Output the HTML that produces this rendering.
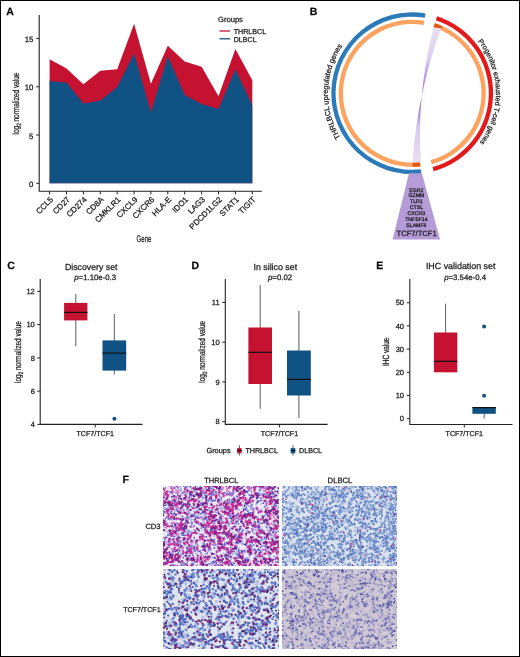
<!DOCTYPE html>
<html><head><meta charset="utf-8"><style>
html,body{margin:0;padding:0;background:#fff;}
body{width:520px;height:657px;overflow:hidden;}
svg{display:block;font-family:"Liberation Sans", sans-serif;text-rendering:geometricPrecision;will-change:transform;}
text{stroke:#1a1a1a;stroke-width:0.25px;}
</style></head><body>
<svg width="520" height="657" viewBox="0 0 520 657">
<rect x="0" y="0" width="520" height="657" fill="#fff"/>
<clipPath id="c1"><rect x="163" y="486" width="116" height="80"/></clipPath>
<g clip-path="url(#c1)"><rect x="163" y="486" width="116" height="80" fill="#EEE8F4"/>
<path d="M199.9 496.7l0.6 0.1M204.9 488.9l0.5 0.1M169.4 491.6l-0.1 0.1M187.8 536.7l-0.1 0.5M278.2 487.9l0.1 0.1M175.1 509.9l0.6 0.4M237.7 515.3l0.1 0.0M185.7 541.2l0.4 0.6M215.4 509.2l-0.2 0.2M229.9 528.1l-0.2 0.3M278.6 493.9l-0.1 0.1M219.7 487.3l-0.5 0.5M266.1 510.4l-0.2 0.7M215.7 554.6l0.1 0.8M168.3 542.9l-1.0 0.0M195.2 516.4l0.6 0.0M181.2 493.8l-0.1 0.1M190.7 516.8l0.5 0.1M226.9 558.2l-0.3 0.1M210.8 514.1l-0.2 0.0M182.1 503.5l0.0 0.7M192.5 484.3l0.3 0.6M275.4 542.0l-0.3 0.8M167.5 559.6l-0.9 0.4M208.1 517.5l-0.0 0.1M169.1 501.5l0.0 0.1M161.0 496.7l0.0 0.0M265.9 535.6l0.3 0.3M204.7 494.3l-0.6 0.0M219.1 491.2l0.2 0.3M260.5 497.6l-0.6 0.1M178.6 529.6l-0.1 1.2M264.6 542.5l0.1 0.2M253.6 528.7l0.1 0.2M258.4 566.7l-0.8 0.6M249.8 503.0l0.0 0.0M164.4 507.5l-0.7 0.9M214.7 562.7l-0.4 0.1M187.5 503.1l0.6 0.4M269.0 554.6l-0.4 0.9M171.2 539.5l-0.7 0.6M218.4 499.0l0.5 0.8M277.6 517.3l-0.9 0.1M181.4 494.7l-0.9 0.3M178.5 553.4l-0.2 0.4M226.8 495.0l-0.8 0.1M224.2 562.4l-0.9 0.4M186.3 505.2l0.5 0.5M192.1 519.2l-0.4 0.1M216.0 533.0l0.3 1.1M221.2 528.7l0.5 0.0M183.0 484.3l0.5 0.3M248.0 530.7l-0.0 0.7M255.1 492.9l0.2 0.2M253.7 526.6l-0.8 0.7M214.2 535.5l-0.0 0.8M215.3 528.8l-0.8 0.2M266.2 563.1l-0.2 1.1M261.8 495.5l0.0 0.1M189.9 490.1l-0.8 0.7M179.5 544.2l1.0 0.5M277.1 502.4l0.2 0.6M279.8 553.9l0.1 0.6M201.7 500.4l-0.0 0.0M227.5 521.0l0.4 0.6M222.5 489.4l-0.9 0.7M173.6 506.3l-0.2 0.2M176.5 519.5l-0.3 0.2M178.9 561.2l-0.1 0.1M167.9 541.8l1.1 0.3M237.1 551.3l-0.1 0.0M264.5 522.1l-0.2 1.1M193.1 494.9l0.1 0.1M180.4 488.2l0.2 0.3M252.1 508.4l0.4 0.2M163.2 505.0l-0.4 0.5M183.7 523.9l0.9 0.3M212.9 525.6l0.2 0.6M243.5 566.5l-0.7 0.4M237.3 518.0l0.2 0.0M169.5 546.2l0.1 0.0M262.0 557.1l0.2 0.2M196.2 522.6l0.1 0.3M276.4 565.7l0.8 0.8M198.1 514.0l0.2 0.5M221.3 500.9l0.3 0.0M171.8 517.6l0.4 0.0M188.9 533.2l-0.6 0.6M246.9 557.8l0.6 1.0M178.9 544.8l1.0 0.1M268.0 536.7l-0.1 0.1M223.9 526.4l-0.8 0.6M231.1 559.0l-0.2 0.2M164.7 495.2l0.9 0.3M228.0 536.7l-0.3 0.5M161.4 551.0l-0.0 0.6M240.1 489.5l0.1 0.1M192.9 545.3l-0.8 0.9M220.3 516.1l-0.5 0.8M235.0 538.0l0.3 0.1M250.2 509.6l0.1 0.0M193.3 540.4l-0.2 0.3M223.0 523.0l1.0 0.4M184.9 566.2l0.5 0.0M259.4 565.3l0.2 0.2M274.5 501.7l0.6 0.3M275.3 495.1l-0.0 1.1M245.4 503.4l0.0 0.0M161.4 525.3l0.1 0.1M202.3 510.6l0.9 0.0M246.6 559.7l0.2 0.4M280.9 533.5l0.1 0.3M166.8 492.5l0.7 0.9M190.9 506.3l0.4 0.3M275.7 558.3l-0.4 1.0M273.9 530.1l0.9 0.1M215.1 547.2l0.0 0.0M272.2 494.7l0.2 0.3M249.7 566.0l-0.2 0.3M227.9 517.1l0.2 0.1M269.7 525.8l-1.1 0.3M215.0 495.7l0.4 0.1M171.9 504.1l-0.2 1.0M251.0 518.7l-0.0 0.5M201.6 489.2l-0.2 0.0M221.4 536.9l0.3 0.2M190.8 517.6l-1.0 0.1M265.7 485.8l-0.7 0.9M217.8 533.3l0.4 1.0M260.1 555.9l0.1 0.1M179.5 527.9l-0.9 0.2M238.7 548.2l-0.0 0.0M238.5 509.5l0.5 0.5M244.8 493.4l-0.1 0.7M207.6 502.8l0.4 0.0M216.3 564.6l-0.5 0.2M189.2 504.8l-0.2 0.3M163.6 525.9l0.1 0.3M241.1 561.7l0.4 0.0M211.5 541.3l-0.7 0.5M221.6 501.2l0.5 0.8M188.7 502.6l0.7 0.9M220.5 499.7l0.2 0.8M274.9 496.3l0.9 0.7M178.0 488.4l0.4 1.0M267.0 545.5l-0.4 0.1M183.3 562.6l0.8 0.1M206.4 515.4l0.0 0.0M175.8 565.0l0.4 0.9M259.6 520.3l0.0 0.4M271.3 500.2l-0.0 0.0M210.3 552.2l0.0 0.0M168.5 561.3l-0.8 0.8M201.7 506.9l-0.1 0.3M247.0 510.6l0.9 0.0M271.0 537.3l0.3 0.0M218.0 564.4l0.1 0.3M212.6 525.5l0.8 0.5M249.6 553.1l-0.1 0.4M199.3 514.4l0.2 0.1M251.3 504.8l0.7 0.1M200.1 566.3l-0.3 0.0M171.1 492.1l-0.3 0.4M189.1 519.0l-0.5 0.8M262.6 539.8l-0.3 0.2M229.0 515.3l0.2 0.2M190.4 496.9l-0.1 0.4M208.5 567.4l0.7 0.6M239.4 567.2l0.1 1.0M261.9 560.8l0.1 0.1M183.7 565.7l-0.4 0.1M264.9 521.7l-0.9 0.7M173.7 534.1l0.3 0.3M178.0 501.1l-0.2 0.7M185.4 485.0l-0.1 0.2M198.5 501.1l-0.0 0.1M173.2 517.2l-0.0 0.1M180.6 542.4l0.2 0.3M275.4 510.2l0.2 0.5M264.7 567.7l0.7 0.5M185.4 484.5l0.2 1.0M209.7 558.2l0.0 0.0M227.2 537.8l0.7 0.2M205.5 526.4l0.4 0.5M272.1 493.1l-0.9 0.7M184.7 494.6l-0.6 0.0M167.4 561.8l-0.7 0.2M187.6 518.0l-0.2 0.1M187.2 517.6l0.1 0.1M190.6 544.9l0.7 0.1M251.9 487.2l0.7 0.3M227.0 536.7l0.2 0.7M212.1 539.3l0.0 0.0M235.3 525.1l-0.7 0.6M216.0 499.1l0.1 0.1M212.7 491.7l-0.0 0.0M237.4 490.9l-0.5 0.4M167.5 526.3l-0.2 0.0M263.8 567.7l-0.2 0.1M278.8 525.3l-0.2 0.1M255.6 562.2l0.4 0.8M180.1 559.3l-0.1 0.1M221.3 561.3l0.4 0.4M199.3 487.1l1.0 0.5M242.6 559.2l-0.1 0.1M224.7 537.5l-0.6 0.3M230.6 558.1l-0.8 0.0M208.3 551.0l-0.7 0.0M204.2 548.2l0.8 0.5M166.8 552.9l-0.5 1.1M231.3 539.8l0.0 0.0M178.9 535.7l-0.0 1.1M176.8 503.1l0.0 0.0M203.6 492.9l0.5 0.5M231.7 501.2l0.0 0.2M273.4 504.5l0.7 0.2M265.6 549.7l0.0 0.0M238.4 531.2l-0.2 0.5M273.5 545.6l-0.1 0.0M224.8 518.1l0.9 0.2M162.5 530.3l0.2 0.1M234.0 526.6l-0.2 0.1M198.1 509.2l-0.9 0.3M246.8 484.5l-0.4 0.4M250.0 522.0l0.3 0.1M165.7 512.2l-0.6 0.8M246.4 506.3l0.2 0.9M223.8 506.3l-0.3 0.0M266.6 485.3l0.7 0.6M274.4 546.7l-0.4 0.1M189.7 560.2l-0.5 0.7M278.5 523.4l-0.6 0.8M213.5 544.9l0.1 0.2M235.7 490.5l0.0 0.0M173.8 562.0l0.0 0.0M166.0 542.2l-0.5 0.7M168.9 533.6l-0.8 0.5M268.0 489.5l-1.1 0.3M173.9 501.3l1.0 0.1M258.4 537.3l-0.1 0.3M173.0 492.2l0.3 0.2M211.9 485.8l0.5 0.7M205.2 510.9l-0.0 1.0M235.2 486.6l0.2 0.9M202.6 543.2l0.8 0.7M171.9 552.9l0.2 0.0M252.5 566.1l0.0 0.6M256.6 499.5l0.5 0.9M192.3 563.3l0.7 0.5M220.8 493.2l0.9 0.2M244.7 550.1l0.2 0.4M208.4 558.8l-0.0 0.0M185.7 506.1l-0.0 0.5M267.1 503.6l-0.1 0.9M251.4 538.3l0.1 0.2M262.2 539.6l0.5 0.3M253.8 532.7l0.1 1.1M189.6 500.1l-0.6 0.8M179.6 497.1l0.3 0.5M180.3 511.6l-0.9 0.1M173.2 564.8l0.4 1.1M256.4 545.6l0.6 0.4M173.8 501.3l0.5 0.1M255.9 542.2l-0.2 0.5M178.0 534.7l-0.7 0.8M212.6 532.2l0.1 0.3M247.7 557.9l-0.6 0.8M242.6 537.9l0.4 0.6M172.7 519.2l-0.5 0.6M191.0 519.6l-0.2 0.5M242.0 562.1l-0.4 0.8M207.6 525.1l0.6 0.1M180.3 549.7l-0.0 0.1M229.9 529.4l-0.0 0.8M260.5 527.8l-0.2 0.0M243.1 517.0l1.1 0.4M203.7 488.8l0.0 0.0M211.2 519.3l0.1 0.3M187.9 546.3l-0.0 0.3M257.2 516.9l0.9 0.4M258.1 537.3l-0.1 0.3M276.7 513.7l-0.8 0.5M217.2 508.7l0.9 0.4M203.6 555.5l0.1 0.3M212.1 499.6l-0.2 0.3M190.4 509.4l0.2 0.7M240.1 514.4l-0.1 0.0M260.3 560.1l0.9 0.4M237.0 485.3l-0.8 0.1M191.0 492.5l0.7 0.6M202.6 496.8l-0.2 0.1M267.9 535.1l-0.5 0.9M255.6 554.5l-0.4 0.5M250.0 520.8l-0.1 0.3M189.1 495.7l0.6 0.1M178.3 525.3l-0.1 1.0M161.8 554.6l-0.2 0.8M261.9 515.5l-0.1 0.0M237.4 537.4l-0.3 0.8M272.8 511.8l-0.0 0.6M268.7 486.8l-0.2 0.4M264.4 514.8l-0.1 0.9M186.3 520.6l-0.2 1.0M196.1 553.5l-0.0 0.3M221.8 565.9l-0.3 0.2M199.1 509.1l-0.4 0.9M165.8 544.7l-0.0 0.1M197.0 484.5l-0.7 0.2M240.0 550.3l-0.3 0.7M236.2 542.5l-0.1 0.2M241.0 522.5l0.2 0.1M165.4 549.1l-0.2 0.4M259.7 550.1l0.2 0.3M211.6 510.8l-0.5 1.0M167.6 531.7l0.9 0.4M230.0 561.2l0.5 0.0M232.0 562.8l0.0 0.5M173.2 538.1l0.0 0.0M161.6 541.4l-0.1 0.0M265.3 494.8l-0.2 0.2M249.0 499.7l-0.6 0.6M263.7 545.3l-0.3 0.8M216.3 562.3l-0.9 0.1M162.4 485.2l-0.1 0.1M198.3 545.3l-0.5 0.2M168.2 514.9l0.2 0.8M178.4 551.0l-0.3 0.7M211.2 516.4l-0.9 0.2M229.0 508.6l-0.8 0.1M278.3 553.8l0.3 0.4M267.6 515.6l-0.3 1.0M257.9 507.8l0.3 0.4M231.4 552.5l1.0 0.1M258.4 556.8l0.7 0.8M257.8 541.5l0.0 0.1M227.4 551.0l-0.8 0.8M189.1 535.0l0.0 0.2M191.6 547.1l0.0 0.1M257.8 548.9l-0.3 1.0M267.2 527.8l-0.1 0.2M184.1 499.2l0.3 0.6M209.3 527.4l1.2 0.2M205.9 492.9l-0.1 0.1M232.7 513.0l0.0 0.0M279.8 556.8l-0.1 0.3M253.1 552.8l0.0 0.0M185.1 499.2l0.7 0.1M270.2 489.4l0.0 0.1M276.1 505.6l-0.5 1.0M241.4 517.0l1.0 0.6M280.0 502.6l0.3 0.3M269.3 560.0l0.9 0.1M167.7 496.2l-0.8 0.2M196.9 533.7l0.4 0.1M191.8 494.4l0.2 0.1M178.2 540.9l-0.1 0.2M165.3 561.9l-1.0 0.2M267.6 495.7l1.1 0.3M262.1 536.8l0.5 0.9M218.3 536.8l0.1 0.0M246.6 530.5l-0.3 0.1M210.4 497.1l-0.4 0.2M181.1 525.2l-0.1 0.0M278.4 488.8l-0.1 0.2M218.3 508.0l0.4 0.3M279.9 567.8l0.3 0.1M268.5 488.8l0.7 0.9M162.9 551.8l0.0 0.0M260.9 528.2l0.2 1.1M187.2 532.0l0.8 0.5M246.4 500.5l0.7 0.2M220.5 507.0l-0.3 0.8M258.4 533.0l0.9 0.2M210.0 544.6l-0.3 0.2M262.0 556.6l1.1 0.1M218.2 557.2l0.8 0.6M205.1 497.7l-0.0 0.0M223.4 521.4l0.8 0.3M259.0 556.7l-0.3 0.4M251.2 489.1l-0.6 0.1M222.6 528.6l1.2 0.1M187.8 499.3l0.7 0.7M164.6 492.1l0.0 0.0M232.9 532.4l-0.1 0.1M265.3 544.2l0.5 0.2M221.1 507.5l0.0 0.2M232.0 556.3l-0.2 0.9M180.7 553.4l0.2 0.5M261.8 528.2l-0.9 0.2M201.6 504.2l0.2 1.2M257.5 560.7l-0.1 0.0M223.1 564.5l0.4 0.4M236.9 514.6l0.5 0.1M221.6 485.7l-0.9 0.1M273.4 537.2l-1.0 0.4M165.1 537.9l-0.2 0.3M226.1 561.6l0.4 0.4M213.0 563.9l0.4 0.6M175.4 533.9l-0.0 0.3M217.0 528.8l0.1 0.1M196.2 518.1l0.1 0.1M226.6 554.5l-0.2 0.8M185.1 543.7l-0.1 0.7M217.3 510.1l0.5 0.4M207.0 533.2l0.5 0.9M189.6 530.8l0.7 0.9M196.5 548.9l1.0 0.2M213.8 489.2l0.2 0.9M174.1 502.9l-0.1 0.1M201.4 513.6l-0.4 1.0M259.5 527.5l-0.6 0.7M218.0 549.9l-0.1 0.0M265.5 484.4l-0.2 0.6M276.5 532.0l-0.8 0.7M233.9 515.9l0.1 0.9M196.2 516.8l0.1 0.4M255.4 555.4l0.0 0.2M197.5 496.2l-0.0 0.1M271.4 511.2l-1.0 0.6M185.5 519.8l0.1 0.0M228.8 525.8l-0.5 0.4M280.8 527.5l-0.3 0.4M203.9 534.0l-0.8 0.1M224.0 492.3l0.2 0.6M229.9 557.9l0.0 0.5M236.0 567.7l-0.1 1.0M181.5 510.7l-0.5 0.3M174.3 559.1l-1.0 0.6M267.6 519.4l0.4 0.5M221.6 499.8l-0.3 0.7M203.4 567.5l0.5 0.1M161.5 509.6l-0.2 0.8M184.6 525.8l0.5 0.6M224.8 567.8l0.0 0.1M179.8 547.8l0.2 0.1M223.7 553.1l-0.1 0.0M162.5 548.7l-0.3 0.3M181.3 506.4l-0.7 0.2M202.9 521.8l1.1 0.2M230.9 564.6l-0.1 0.3M166.3 562.2l0.6 0.9M276.2 525.6l0.3 0.3M247.2 502.6l-0.5 0.2M256.1 504.4l0.1 0.2M277.6 508.4l0.6 0.2M207.3 517.9l0.9 0.4M203.1 504.6l0.2 0.2M165.2 539.8l0.7 0.4M172.1 506.7l0.5 0.2M261.4 551.6l0.4 0.8M206.2 564.5l-0.6 0.1M188.3 522.0l-0.2 0.2M269.0 533.4l0.5 0.5M186.5 557.3l-0.0 0.7M193.4 548.8l-0.3 0.6M198.3 516.8l0.9 0.5M199.5 539.7l-0.1 0.4M221.0 508.9l0.2 0.2M176.1 544.2l0.3 1.0M254.0 558.2l0.3 0.1M164.5 541.1l0.2 0.4M240.1 542.7l-0.4 0.2M236.5 499.3l-0.8 0.2M246.5 487.4l0.2 0.1M197.4 516.0l0.4 0.6M182.6 554.5l-0.2 0.2M213.2 541.5l1.0 0.0M254.2 508.1l-0.7 0.3M166.7 504.5l-0.2 0.2M270.7 547.0l-0.3 0.4M250.7 553.6l1.1 0.3M211.9 562.1l-0.7 0.7M236.4 522.0l-0.3 0.4M222.4 562.0l-0.0 0.0M245.3 551.7l-0.2 1.2M237.5 529.7l0.4 0.1M210.4 500.9l0.8 0.4M241.4 504.0l-0.0 0.5M273.3 513.5l-0.2 0.1M228.6 512.0l-0.1 0.9M181.3 540.0l0.1 0.9M260.7 493.6l0.1 0.2M168.2 507.6l-0.3 0.4M174.6 511.3l0.1 0.2M169.6 484.9l-0.1 0.1M247.1 566.3l0.6 0.2M213.1 499.9l1.1 0.0M238.3 536.7l-0.1 0.3M190.5 495.6l-0.8 0.7M196.6 499.6l-1.0 0.5M181.2 549.9l-0.3 0.3M183.1 553.3l0.3 0.6M205.3 553.8l0.7 0.1M236.4 552.9l-1.1 0.3M220.3 526.0l0.4 0.6M170.6 541.8l0.2 1.1M171.8 487.4l0.7 0.5M161.3 554.6l-0.4 0.3M195.0 539.6l0.1 0.4M213.6 540.0l-0.2 0.1M196.5 521.2l0.1 0.2M171.2 511.2l-1.1 0.1M264.9 565.8l-0.4 0.9M168.2 540.8l0.4 0.6M275.3 524.4l0.2 0.3M267.2 486.3l-0.3 0.5M171.2 539.5l-0.1 0.5M224.6 531.4l0.2 0.1M267.8 530.0l-0.3 0.1M172.4 528.6l0.0 0.7M188.2 532.1l-0.0 0.7M170.6 518.3l0.2 1.0M227.1 544.0l1.1 0.4M247.6 492.6l0.1 0.2M276.2 531.3l0.8 0.4M167.9 503.9l0.7 0.0M186.6 509.2l0.2 1.0M235.5 557.3l-1.0 0.3M181.2 546.6l-0.6 0.6M260.1 494.3l-0.8 0.8M247.6 487.7l0.6 0.2M242.0 505.4l0.2 1.0M230.8 493.5l0.9 0.3M183.2 530.6l-0.3 0.4M178.3 557.5l-0.5 0.8M274.9 485.2l0.5 0.3M265.8 551.2l0.8 0.5M242.5 517.0l0.9 0.5M208.2 557.3l0.4 0.1M187.0 559.1l0.2 0.0M204.3 523.3l0.1 0.4M161.7 532.6l0.6 0.0M279.4 487.8l-0.2 0.3M193.8 526.0l-0.1 0.6M275.8 567.3l-0.2 0.9M265.7 549.0l-0.2 0.4M194.8 550.8l-0.8 0.2M197.5 548.1l-0.0 0.8M203.1 530.3l0.4 0.1M199.8 567.0l0.1 0.3M189.2 513.3l1.0 0.0M215.4 521.4l0.1 0.2M169.0 509.3l-0.4 0.5M273.5 512.6l-0.0 0.1M182.4 532.8l0.4 0.8M212.4 556.9l0.1 1.1M194.1 505.6l0.3 0.2M245.5 502.3l0.6 0.4M264.7 538.4l-0.8 0.9M233.1 490.7l-0.4 0.2M177.4 499.8l-0.7 0.3M271.7 501.8l-0.5 0.6M209.6 541.0l0.5 0.1M166.5 536.6l0.0 0.7M191.8 522.9l-0.7 0.2M279.5 488.7l-0.3 0.3M172.2 497.1l-0.1 0.1M258.7 519.6l-0.2 0.6M239.9 534.5l-0.2 0.2M246.4 548.1l0.5 0.8M278.3 522.1l-0.1 1.1M176.8 484.8l-0.4 0.8M204.5 567.1l-0.1 0.1M164.4 495.3l-0.0 0.7M182.8 562.9l0.2 0.1M249.5 561.4l0.9 0.1M190.1 566.5l-0.2 0.4M257.1 522.6l-0.1 0.0M249.0 489.5l0.3 1.0M168.2 531.4l-1.1 0.3M236.3 502.8l0.4 0.4M188.8 501.1l-0.2 0.3M280.3 502.2l0.9 0.5M265.3 506.5l-0.3 0.2M180.4 541.4l0.1 0.7M266.9 501.6l0.4 0.8M280.4 509.0l1.1 0.4M162.1 560.6l-0.1 0.1M181.2 541.4l0.5 1.0M247.0 558.1l0.3 0.0M256.1 541.9l-0.0 0.3M212.7 492.8l-0.4 0.0M266.4 494.1l0.5 0.2M182.5 541.6l-0.4 0.4M174.5 513.7l-0.4 0.1M186.8 565.3l-0.2 0.2M182.3 506.2l0.6 0.1M210.0 530.8l0.8 0.0M239.4 529.7l-0.7 1.0M265.9 544.3l0.3 0.4M277.8 516.5l0.0 0.2M280.8 484.4l-0.3 0.1M234.3 515.7l0.1 0.1M262.2 549.9l0.8 0.1M199.9 538.3l0.6 1.0M161.1 546.7l-0.0 0.7M280.4 503.7l-0.3 0.3M246.5 517.1l-0.3 0.8M199.7 536.8l0.6 0.5M192.8 560.3l-0.4 0.5M218.2 502.6l-0.6 0.1M223.9 528.3l0.2 0.1M259.6 522.7l-0.9 0.6M265.1 487.6l-0.8 0.5M175.8 496.9l0.4 0.1M257.4 527.8l0.5 0.1M280.6 542.4l0.1 1.0M252.1 496.6l0.3 0.6M189.5 515.1l0.0 0.0M185.1 531.9l0.7 0.5M194.0 511.2l-0.1 0.1M237.3 556.1l0.2 0.9M235.1 515.2l0.1 0.4M246.5 508.8l-0.4 0.9M203.3 516.4l-0.2 0.1M277.6 543.8l-0.2 0.3M169.5 547.5l-0.0 0.6M269.2 547.6l-0.2 0.5M216.5 554.5l0.1 1.1M213.8 525.3l-0.7 0.4M249.9 517.7l-0.4 0.6M253.3 548.7l0.1 0.1M259.1 492.5l-0.5 0.5M167.6 541.2l0.0 0.1M243.9 519.1l-1.0 0.0M265.6 496.2l-0.0 0.0M279.6 507.1l0.2 0.3M264.1 530.7l0.0 0.1M197.5 556.8l-0.3 0.1M185.2 488.4l0.2 0.5M219.7 533.0l-0.2 0.1M271.3 530.7l0.4 0.5M210.1 531.5l0.6 0.7M196.0 543.7l-0.2 0.5M273.2 521.4l0.5 0.1M237.7 488.1l0.7 0.2M182.6 561.5l-0.5 0.4M241.9 540.7l0.8 0.6M178.5 561.1l0.1 0.0M255.1 563.9l-0.1 0.3M269.7 541.6l0.8 0.1M166.0 554.2l0.5 0.5M199.2 531.1l-0.4 0.1M278.6 516.9l0.3 0.7M187.8 529.8l0.1 0.9M212.6 541.0l-0.1 0.1M271.8 567.7l-0.0 0.3M202.8 547.0l-0.1 0.0M219.2 556.6l-0.0 0.1M177.8 506.8l-0.2 0.1M272.0 486.7l-0.4 0.0M274.3 539.1l0.3 0.5M190.7 546.4l-0.3 0.2M169.3 531.0l-0.2 0.9M232.5 522.8l-0.0 0.1M238.6 495.1l0.2 0.4M240.6 497.8l-0.4 0.1M262.1 557.4l0.1 0.1M266.5 493.8l-0.0 0.1M217.1 497.8l-0.0 0.4M184.7 517.9l0.3 0.1M265.6 526.2l1.1 0.1M219.6 550.4l-0.2 0.2M251.0 496.9l0.5 0.0M223.2 508.5l0.7 0.2M189.1 534.0l-0.0 0.1M190.5 534.3l0.7 0.1M244.0 552.4l-0.5 0.3M271.5 484.9l0.1 0.5M171.6 504.6l-0.1 0.2M202.3 495.8l0.3 0.3M278.1 567.8l0.0 0.6M254.5 560.3l-0.1 0.2M236.0 555.0l0.8 0.2M202.9 497.6l-0.5 0.8M177.2 553.6l-0.9 0.3M260.9 551.4l0.2 1.0M255.1 557.1l-0.6 0.1M274.5 493.7l-0.2 0.2M261.6 503.5l0.0 0.3M220.1 560.3l-0.3 0.4M255.1 550.7l-1.0 0.2M209.7 491.3l-0.4 0.2M232.4 554.2l0.6 0.0M163.0 493.3l0.2 0.7M215.9 512.2l0.4 0.9" stroke="#A0A8E4" stroke-width="1.8" stroke-linecap="round" fill="none" stroke-opacity="0.8"/>
<path d="M235.3 508.5l0.5 0.5M214.0 539.5l0.6 0.3M166.0 553.1l0.6 0.7M204.5 502.8l-0.3 0.8M208.3 526.0l-0.0 1.0M183.7 553.8l-0.0 0.0M182.0 563.4l-0.2 0.1M203.3 492.5l-0.5 0.2M206.2 562.0l-0.0 0.1M235.9 521.3l0.3 0.6M236.8 515.6l-0.5 0.8M220.8 514.6l0.8 0.1M243.0 530.8l-0.6 0.6M248.5 547.0l0.1 0.1M275.4 558.9l-0.2 0.6M166.6 516.9l-0.1 0.3M252.5 508.5l0.2 0.9M238.9 551.6l0.4 0.9M246.2 542.0l0.5 0.3M260.1 550.7l0.5 0.2M266.3 497.6l0.3 0.2M167.4 509.0l-1.0 0.1M183.5 510.0l0.3 0.2M213.6 493.1l0.1 0.4M276.6 506.4l-0.4 0.1M261.5 537.5l0.1 0.1M251.8 523.5l-0.4 0.6M194.0 514.5l-0.0 0.3M236.6 505.8l0.8 0.1M229.0 513.7l0.2 0.2M169.4 530.1l-0.2 0.3M257.9 493.3l-0.4 0.9M237.1 542.1l0.3 0.9M250.1 512.7l-0.3 0.2M183.3 557.2l-0.0 0.7M269.2 495.2l0.4 0.1M221.3 555.6l-0.1 0.4M229.8 507.0l-0.7 0.5M179.1 540.4l-0.0 0.9M268.9 546.4l-0.4 0.8M176.8 543.1l-0.1 0.3M169.1 534.7l0.1 0.2M187.9 491.9l-0.8 0.1M204.2 542.8l-0.3 0.2M161.4 536.9l0.0 0.0M214.5 530.6l0.8 0.1M174.3 502.9l0.2 0.3M229.2 502.3l0.7 0.5M258.0 529.1l-0.0 0.0M221.6 519.6l-0.3 0.7M231.2 517.6l-0.1 0.2M265.1 567.6l-0.3 0.0M279.4 490.0l0.4 0.2M242.9 543.5l0.1 0.2M209.3 507.7l-0.3 0.4M213.6 500.6l0.2 0.2M228.2 542.9l-0.7 0.7M271.4 544.7l0.2 0.0M162.6 556.5l-0.1 0.2M203.6 497.7l-0.3 0.0M166.3 498.7l-0.8 0.3M215.6 492.6l0.7 0.4M217.6 567.2l-0.4 0.3M259.6 494.8l-0.1 0.5M186.1 505.2l-0.7 0.2M274.4 566.4l-0.3 0.3M258.4 554.7l0.2 0.0M231.2 515.8l-0.7 0.4M216.6 487.6l-0.0 0.1M199.8 536.5l0.0 0.6M185.7 504.4l0.0 0.1M231.9 494.6l0.1 0.6M237.4 543.4l0.7 0.2M167.5 523.5l-0.4 0.6M189.8 538.6l0.0 0.1M270.1 534.3l0.7 0.7M188.4 517.0l-0.5 0.3M250.0 487.2l-0.8 0.1M165.6 488.1l-0.2 0.0M241.6 562.1l-0.3 0.1M179.4 485.5l0.9 0.3M246.2 499.7l0.4 0.3M173.7 550.1l-0.0 0.0M263.2 530.7l-0.0 0.6M232.3 551.2l0.5 0.1M195.9 517.3l-0.0 0.0M260.6 552.2l0.6 0.2M185.9 520.0l-0.5 0.0M203.3 491.9l-0.8 0.4M173.2 514.9l-0.1 0.1M233.8 566.2l0.1 0.0M174.6 542.2l-0.0 0.5M209.9 535.3l-0.7 0.2M256.6 560.7l-0.0 0.0M242.7 555.4l-0.2 0.1M274.1 521.1l0.2 0.2M202.8 511.3l0.2 1.0M239.5 562.3l-0.9 0.5M251.3 507.0l0.0 0.0M188.7 558.4l0.4 0.7M254.0 558.7l-0.0 0.1M205.1 529.1l0.5 0.3M239.0 529.2l0.3 0.9M243.8 565.3l0.2 0.2M269.8 485.1l-0.6 0.8M182.2 520.8l-0.4 0.6M251.4 504.9l0.7 0.1M186.1 505.8l-0.3 0.5M239.7 534.2l0.0 0.1M169.0 485.2l0.1 0.0M220.2 565.4l0.5 0.6M182.3 492.4l0.2 0.7M214.4 545.2l-0.3 0.1M188.2 555.8l-0.1 0.2M162.2 500.0l0.6 0.3M231.4 539.5l0.1 0.0M278.9 516.2l-0.0 0.2M168.8 485.2l0.9 0.4M204.6 544.7l-0.2 0.2M204.9 527.9l0.6 0.6M195.2 516.0l0.1 0.1M187.3 516.3l-0.2 0.4M265.4 488.2l-0.2 0.1M164.5 520.8l0.1 0.7M172.2 493.9l0.2 0.1M213.8 493.9l0.2 0.4M273.4 530.6l0.6 0.5M228.5 557.1l-0.1 0.0M274.2 528.1l0.7 0.4M186.5 491.0l-0.4 0.1M248.8 490.3l0.1 0.2M240.6 514.3l-0.5 0.0M182.6 484.9l-0.0 0.0M217.4 546.2l0.4 0.3M233.6 538.7l-0.8 0.5M249.8 556.0l-0.2 0.1M188.2 534.2l0.2 0.1M165.3 520.9l0.6 0.4M231.0 562.9l-0.0 0.0M274.8 503.6l-0.0 0.9M220.1 567.3l0.6 0.5M185.2 568.0l0.7 0.6M199.6 518.2l-0.0 0.0M205.9 497.6l0.6 0.0M191.9 522.1l-0.1 0.1M189.9 494.1l0.1 0.1M223.7 532.8l0.2 0.0M181.1 533.2l0.3 0.9M240.4 556.3l0.6 0.7M209.9 488.3l0.0 0.0M195.8 508.3l-0.4 0.2M224.5 555.3l-0.2 0.5M175.0 504.5l-0.2 0.8M268.9 564.8l0.9 0.2M229.4 499.2l0.2 0.2M205.0 528.0l0.7 0.2M235.9 523.6l-0.0 0.0M218.0 540.9l-0.1 0.2M276.0 550.0l0.2 0.9M185.9 518.4l-0.2 0.1M249.2 514.2l-0.1 0.1M187.7 502.1l0.1 0.0M209.7 519.3l-0.2 0.9M230.2 513.9l0.0 0.2M218.8 485.5l0.3 0.2M276.5 548.4l-0.3 0.6M245.6 565.2l-0.2 0.2M191.7 553.0l-0.8 0.4M231.7 500.7l-0.1 0.7M193.7 489.9l0.6 0.4M161.5 503.3l-0.6 0.8M163.3 493.6l-0.1 0.0M201.2 527.9l0.1 0.5M192.0 488.6l0.1 0.0M235.9 542.5l-0.6 0.4M202.0 525.3l-0.5 0.1M167.2 496.9l0.3 0.7M188.5 551.0l0.6 0.2M184.0 543.5l-0.2 0.1M172.2 539.7l0.2 0.1M230.9 493.1l0.2 0.2M211.8 528.8l0.7 0.1M187.5 508.4l-0.3 0.5M269.2 501.2l-0.1 0.2M179.9 503.0l-0.6 0.4M276.0 550.7l0.4 0.6M167.7 535.2l0.5 0.1M179.2 562.3l0.0 0.2M175.4 526.6l0.3 0.7M224.5 549.1l0.4 0.1M219.0 505.2l0.2 0.2M218.2 543.8l0.2 0.4M272.3 562.4l0.4 0.1M237.4 507.4l-0.9 0.1M176.5 523.1l0.0 0.1M251.1 548.7l0.4 0.1M172.3 564.9l0.5 0.6M177.2 493.0l0.5 0.3M261.0 498.2l-0.3 0.3M201.6 494.4l-0.1 0.0M192.1 546.2l-0.5 0.1M275.8 534.7l0.1 0.7M249.1 494.9l-0.1 0.0M258.6 512.5l0.3 0.3M279.9 496.5l0.1 0.1M250.4 512.7l0.2 0.8M264.6 532.3l-0.4 0.4M268.9 564.0l-0.7 0.4M192.9 514.7l0.2 0.3M174.2 503.1l0.2 0.6M267.5 547.5l-0.8 0.2M279.9 545.2l-0.2 0.1M239.7 516.0l0.5 0.2M201.4 552.9l-0.7 0.4M250.3 540.9l0.9 0.1M226.7 522.3l-0.6 0.5M265.4 502.0l0.1 0.1M200.3 486.2l0.1 0.0M169.1 546.3l0.0 0.4M257.3 564.1l-0.4 0.8M217.5 559.6l0.5 0.7M229.8 492.9l-0.4 0.3M219.1 519.0l-0.1 0.2M204.5 514.5l-0.1 0.1M270.7 486.9l0.2 0.7M212.5 491.8l-0.7 0.4M203.8 502.7l-0.2 0.1M267.0 567.4l0.3 0.7M272.6 500.9l0.4 0.6M183.4 529.9l-0.1 0.1M275.8 568.0l-0.1 0.1M270.2 530.3l-0.3 0.1M271.9 501.4l-0.0 0.9M269.1 564.2l-0.5 0.1M178.2 537.0l0.1 0.6M192.1 507.2l-0.0 0.5M172.1 484.5l-0.5 0.6M189.4 505.5l0.5 0.3M269.5 501.0l-0.5 0.6M246.5 543.7l-0.8 0.4M167.3 563.3l0.1 0.0M256.6 540.9l0.1 0.6M280.7 512.2l0.1 0.1M180.3 518.5l0.1 0.1M187.2 491.1l0.3 0.4M183.0 524.3l-0.5 0.0M274.4 523.6l-0.0 0.1M181.3 490.2l-0.4 0.0M203.5 519.7l-0.2 0.3M179.3 556.6l0.8 0.0M248.4 513.8l-0.4 0.1M212.9 509.1l-0.4 0.6M274.9 496.2l-0.7 0.4M231.8 540.9l-0.5 0.1M209.3 499.3l-0.8 0.3M164.2 511.1l0.0 0.4M268.4 513.4l-0.6 0.1M218.2 511.9l-0.3 0.7M192.3 515.1l0.4 0.8M225.7 507.2l-0.1 0.1M243.8 485.8l0.8 0.1M178.6 503.2l0.5 0.5M247.4 560.5l-0.1 0.9M171.8 561.7l0.6 0.4M264.0 516.4l-0.7 0.3M232.6 566.1l0.1 0.0M163.6 543.5l0.2 0.1M182.7 535.2l-0.4 0.0M278.5 520.5l0.2 0.2M278.0 567.6l0.2 0.1M179.3 513.5l0.5 0.1M242.7 486.8l-0.5 0.4M215.2 558.0l0.2 0.3M274.2 556.2l-0.0 0.1M182.0 516.2l0.8 0.0M255.3 527.2l-0.3 0.2M241.3 531.9l0.3 0.9M275.7 562.0l0.2 0.3M193.3 559.9l-0.6 0.5M279.9 541.8l-0.2 0.2M234.3 497.3l0.0 0.3M271.7 491.0l-0.1 0.1M231.4 519.9l0.7 0.2M173.3 507.2l-0.4 0.2M248.2 505.6l-0.0 0.1M220.3 544.6l-0.1 0.2M205.5 561.3l-0.4 0.0M229.6 551.9l0.1 0.9M209.2 563.8l0.7 0.3M178.4 541.1l-0.5 0.0M249.8 495.0l0.1 0.2M258.8 486.8l0.8 0.2M268.2 486.9l0.1 0.7M248.5 512.8l0.1 0.1M258.8 494.1l-0.0 0.3M180.7 562.1l-0.2 0.2M270.5 502.6l-0.3 0.9M253.5 537.0l-0.4 0.2M172.8 560.8l-0.4 0.6M188.8 522.9l-0.9 0.1M180.3 541.4l0.0 0.2M177.5 523.5l0.2 0.3M227.5 548.0l0.8 0.4M205.1 564.6l0.5 0.2M277.0 516.3l0.0 0.0M185.5 494.4l-0.2 0.5M274.8 541.6l-0.6 0.1M226.2 556.5l0.3 0.5M197.0 565.4l-0.1 0.0M162.2 530.5l-0.0 0.1M261.4 540.2l-1.0 0.2M242.4 543.9l0.4 0.1M277.3 510.3l0.4 0.0M269.3 533.5l0.2 0.0M182.5 553.9l-0.3 0.1M266.7 527.3l-0.4 0.0M244.7 489.7l-0.1 0.0M250.5 506.7l0.3 0.6M275.4 567.5l-0.2 0.6M180.3 545.0l0.4 0.8M191.6 495.9l0.5 0.3M257.1 497.4l-0.1 0.5M210.5 529.7l0.4 0.1M189.4 547.6l-0.2 0.1M172.1 524.1l0.4 0.7M187.7 540.3l0.1 0.5M271.8 534.7l0.1 0.0M200.8 491.5l0.1 0.3M222.5 562.7l0.3 0.1M199.9 560.4l0.0 0.2M166.4 494.3l-0.1 0.1M236.0 488.9l0.1 0.1M250.1 544.2l0.6 0.3M213.0 539.5l-0.0 0.0M187.7 517.5l0.7 0.2M280.3 512.1l-0.1 0.2M209.1 541.8l0.1 0.0M226.2 567.2l0.5 0.2M219.6 500.3l0.0 0.8M196.0 562.4l0.0 0.1M219.0 494.7l-0.3 0.5M278.2 487.8l-0.1 0.1M199.6 488.5l-0.2 0.3M244.5 514.8l0.6 0.7M213.6 484.3l-0.6 0.7M237.4 497.1l-0.1 0.1M206.7 540.4l0.4 0.0M266.0 567.7l-0.8 0.2M264.8 533.4l-0.4 0.9M228.9 500.5l0.0 0.3M205.8 526.9l0.2 0.2M221.3 526.3l-0.1 0.2M224.8 507.2l-0.5 0.6M223.1 504.9l-0.0 0.4M195.8 517.8l-0.4 0.3M248.7 501.9l0.1 0.3M204.1 547.4l0.2 0.1M255.1 539.0l-0.3 0.6M193.7 489.1l1.0 0.1M224.0 540.3l-0.2 0.1M201.4 493.1l-0.3 0.4M205.3 506.7l-0.6 0.7M262.9 556.9l0.1 0.3M277.9 499.4l0.6 0.7M267.9 519.9l-0.3 0.2M175.3 559.8l0.2 0.6M191.6 485.7l0.0 0.0M205.6 547.9l-0.3 0.5M183.6 485.7l-0.1 0.3M185.0 555.8l0.4 0.4M230.0 511.0l0.3 0.5M233.2 526.8l0.2 0.2M211.0 514.5l0.9 0.4M189.8 556.0l-0.1 0.4M165.6 550.9l0.5 0.6M218.5 566.9l0.1 0.2M236.0 549.3l-0.1 0.4M257.0 492.8l-0.3 0.3M280.2 491.6l0.0 0.0M172.2 491.6l0.1 0.5M195.7 543.0l-0.2 0.0M222.3 525.5l-0.2 0.1M266.3 514.1l-0.2 0.5M195.1 491.1l0.0 0.1M239.8 528.7l0.4 0.7M204.3 517.8l-0.3 0.6M214.6 518.1l-0.4 0.3M164.5 502.5l-0.4 0.6M220.6 523.7l0.6 0.3M244.3 505.7l0.6 0.3M181.6 526.8l-0.0 0.1M219.0 535.8l0.4 0.6M226.5 535.8l-0.0 0.2M214.1 553.7l-0.3 0.3M214.8 565.5l-0.0 0.1M234.4 486.8l-0.7 0.1M193.1 555.0l-0.4 0.3M162.9 558.8l-0.6 0.4M224.9 556.4l-0.3 0.1M164.1 512.3l0.6 0.1M175.5 497.4l0.6 0.7M269.6 557.1l0.1 0.8M194.7 561.8l-0.2 0.2M172.0 561.7l-0.3 0.8M178.2 542.7l-0.4 0.3M184.6 564.3l-0.6 0.6M190.7 542.4l0.2 0.1M275.5 514.9l-0.0 0.0M251.4 546.6l0.1 0.2M202.7 545.5l0.2 0.5M179.5 561.2l-0.0 0.8M184.7 544.7l-0.1 0.1M194.1 537.4l0.2 0.5M187.1 520.7l-0.2 0.2M260.7 530.4l-0.0 0.1M255.4 541.0l0.1 0.7M275.3 499.9l0.1 0.5M178.9 502.6l0.1 0.1M183.0 532.5l0.0 0.5M213.8 526.3l0.9 0.0M184.9 487.2l-0.1 0.5M187.1 549.6l-0.1 0.2M229.7 538.5l0.0 0.1M238.2 542.1l-0.1 0.7M173.1 554.5l0.2 0.0M171.1 505.2l0.0 0.3M197.0 522.8l-0.6 0.4M174.7 502.8l0.1 0.1M186.1 487.1l0.3 0.9M208.1 510.2l-0.5 0.1M213.9 520.7l-0.4 0.2M182.4 518.1l0.2 0.6M228.2 522.8l0.4 0.4M264.8 490.7l-0.9 0.4M162.6 536.7l-0.4 0.2M176.7 509.2l-0.1 0.2M238.1 539.2l0.4 0.0M200.0 534.2l0.6 0.3M195.4 550.4l-0.1 0.8M174.9 545.4l-0.0 0.0M247.9 515.0l0.2 0.5M210.8 494.3l0.6 0.8M207.0 520.6l-0.3 0.0M238.6 553.9l-0.2 0.2M174.1 487.5l-0.2 0.1M213.9 548.1l0.5 0.2M212.0 562.8l0.4 0.4M210.9 486.8l-0.3 0.1M231.3 543.7l-0.1 0.0M197.2 544.1l0.0 0.1M217.8 485.3l0.1 0.1M171.9 500.3l0.7 0.3M211.0 505.2l-0.0 0.0M210.0 534.2l0.1 0.0M194.3 525.7l0.1 0.3M231.3 509.1l-0.0 0.1M257.1 525.6l0.5 0.2M221.5 544.4l0.2 0.9M193.9 566.4l-0.9 0.0M191.9 552.4l0.8 0.6M238.7 552.0l0.8 0.2M182.1 505.8l0.4 0.3M246.6 492.1l0.5 0.2M238.9 541.7l0.8 0.5M207.9 519.7l-0.4 0.6M239.0 517.8l-0.0 0.2M274.9 565.0l-0.5 0.0M246.8 562.8l-0.2 0.1M255.5 523.9l0.3 0.7M262.1 555.0l0.1 0.1M229.2 501.8l0.1 0.0M247.0 502.8l0.4 0.7M197.3 506.5l0.4 0.0M206.6 485.1l0.0 0.0M276.2 503.2l0.1 0.0M246.2 532.9l0.2 0.2M277.4 515.3l-0.1 0.0M262.8 485.8l-0.6 0.4M227.0 552.3l-0.0 0.3M208.9 500.1l-0.2 0.8M236.4 534.3l-0.5 0.3M200.1 561.9l0.3 0.1M245.8 562.2l-0.5 0.8M254.3 521.4l-0.2 0.2M174.2 536.1l0.5 0.5M268.1 494.7l0.0 0.3M274.9 567.7l-0.5 0.4M181.8 565.6l0.4 0.1M163.1 524.4l-0.4 0.1M263.0 549.5l0.2 0.2M220.0 517.2l-0.0 0.3M233.8 567.7l0.0 0.0M172.3 488.7l-0.6 0.3M276.9 554.3l-0.0 0.0M207.0 506.0l0.5 0.1M206.1 525.3l0.7 0.2M257.0 534.2l-0.3 0.8M279.4 547.7l-0.6 0.2M194.2 561.3l-0.2 0.1M230.2 515.8l-0.5 0.4M229.0 560.7l-0.0 0.0M216.2 530.4l-0.6 0.1M218.4 537.3l-0.6 0.8M162.7 510.9l0.8 0.1M164.7 538.4l0.3 0.3M188.2 543.2l-0.1 0.3M231.4 564.2l-0.2 0.0M222.9 516.4l-0.1 0.1M228.0 549.0l0.3 0.0M220.2 562.7l-0.3 0.2M226.7 562.0l0.1 0.1M177.1 509.5l-0.0 0.1M257.2 526.6l-0.7 0.4M187.0 562.9l0.0 0.0M265.1 553.4l-0.6 0.5M237.0 553.9l0.4 0.7M271.5 510.3l-0.5 0.7M229.0 507.2l-0.0 0.1M264.1 558.7l-0.4 0.5M175.6 549.4l0.1 0.1M194.8 548.8l-0.1 0.1M173.8 513.3l0.1 0.0M251.3 491.7l0.2 0.1M240.6 557.4l0.0 0.0M201.9 504.3l-0.5 0.6M224.8 542.7l0.1 0.3M194.9 546.1l0.1 0.2M264.7 537.6l0.3 0.9M273.7 521.8l-0.2 0.1M192.0 492.7l-0.1 0.1M212.9 567.2l0.3 0.8M268.1 515.6l-0.3 0.7M271.8 539.4l-0.0 0.3M214.5 523.3l-0.9 0.3M218.4 565.0l-0.6 0.2M164.0 555.2l0.3 0.8M186.6 547.2l0.1 0.2M257.0 545.4l-0.2 0.0M206.0 518.8l-0.9 0.3M237.0 514.7l0.5 0.1M231.0 521.6l0.1 0.3M211.2 498.4l-0.2 0.5M212.1 505.0l0.0 0.4M278.5 531.3l0.2 0.0M202.5 549.7l0.6 0.5M214.0 529.2l0.1 0.0M241.1 541.9l-0.8 0.2M197.2 489.6l-0.1 0.2M166.3 524.9l-0.4 0.5M194.5 521.4l0.2 0.1M258.9 522.1l0.4 0.7M232.5 538.9l-0.0 0.2M277.9 540.5l-0.0 0.1M201.1 503.4l0.4 0.0M265.2 549.7l0.1 0.2M245.5 509.1l0.3 0.7M229.8 552.5l0.4 0.9M162.2 557.7l-0.1 0.4M253.4 510.5l-0.4 0.3M251.7 525.1l-0.2 0.1M217.6 484.0l-0.4 0.7M237.4 521.2l-0.1 0.2M225.2 534.2l0.3 0.2M202.2 492.1l-0.4 0.4M181.8 545.5l-0.1 0.1M172.6 505.1l0.6 0.7M273.6 507.8l-0.3 0.5M191.6 563.8l0.3 0.0M199.5 500.7l-0.0 0.0M261.3 510.0l-0.3 0.1M186.5 493.8l0.2 0.1M191.0 532.6l0.3 0.4M253.9 544.8l-0.8 0.2M228.4 523.9l0.8 0.4M234.0 492.3l-0.0 0.0M245.1 504.0l-0.3 0.2M220.8 539.9l-0.2 0.4M278.9 499.8l0.3 0.0M175.1 496.5l0.7 0.4M172.6 536.3l0.2 0.1M202.3 565.2l0.4 0.3M273.9 493.9l-0.6 0.5M233.1 492.4l0.7 0.2M247.8 510.7l0.2 0.7M166.2 562.4l-0.4 0.3M164.0 525.1l-0.6 0.3M212.0 565.8l-0.1 0.0M245.5 545.1l0.9 0.0M213.6 534.0l0.0 0.0M271.8 506.7l0.9 0.4M249.8 501.6l-0.6 0.2M231.0 495.0l-0.0 0.0M211.3 488.8l0.9 0.3M261.9 545.5l-0.3 0.4M219.9 496.2l-0.1 0.1M266.1 519.3l0.3 0.3M238.7 531.9l-0.0 0.5M279.7 502.1l0.2 0.3M175.9 519.1l-0.5 0.1M266.5 542.6l-0.2 0.2M248.5 501.3l-0.2 0.7M181.1 512.9l-0.8 0.6M175.2 501.7l-0.5 0.6M238.8 549.5l-0.2 0.9M238.8 539.1l0.0 0.8M229.7 494.8l0.1 0.4M228.3 514.4l0.1 0.4M277.6 491.6l-0.3 0.3M214.9 533.7l0.0 0.0M265.9 562.9l0.0 0.3M168.0 559.0l0.2 0.2M244.8 550.9l0.1 0.2M256.8 556.5l0.6 0.2M279.2 544.1l0.1 0.0M248.8 489.8l-0.2 0.4M268.0 562.3l0.6 0.2M211.5 505.0l-0.1 0.1M188.5 512.8l0.2 0.4M200.7 563.3l0.3 0.5M174.3 518.5l-0.1 0.3M165.1 494.4l0.3 0.2M235.2 559.7l0.4 0.4M194.1 549.7l0.3 0.3M270.0 497.9l0.2 0.1M200.9 517.2l0.1 0.5M208.6 549.0l0.2 0.9M191.1 566.1l-0.2 0.3M193.6 495.4l0.3 0.6M216.3 528.2l0.3 0.2M242.8 529.6l-0.3 0.3M169.3 505.8l-0.5 0.3M200.2 504.9l0.2 0.3M255.9 550.2l-0.6 0.2M174.6 487.7l0.4 0.4M259.6 533.2l0.7 0.7M251.4 512.7l-0.3 0.0M262.7 493.9l0.4 0.8M196.6 492.5l-0.8 0.6M238.2 541.3l0.1 0.1M279.2 487.6l0.1 0.2M213.3 562.2l0.5 0.3M239.8 526.9l-0.1 0.0M181.9 504.3l0.0 0.6M248.2 559.1l0.8 0.1M163.2 510.7l-0.2 0.7M176.5 508.7l-0.1 0.1M243.4 550.7l0.6 0.3M199.3 495.2l0.0 0.1M207.2 530.3l0.2 0.8M171.5 511.7l-0.8 0.4M252.8 529.0l-0.0 0.1M191.6 492.2l0.2 0.3M225.6 492.5l-0.6 0.5M266.7 510.7l-0.5 0.5M205.6 512.8l-0.4 0.2M258.4 512.5l-0.0 0.7M266.9 513.7l0.3 0.8M252.2 530.6l0.6 0.7M257.1 509.6l0.8 0.6M165.7 552.0l-0.1 0.5M210.2 530.8l-0.1 0.0M177.7 540.5l-0.6 0.4M272.7 488.3l0.6 0.5M179.3 528.6l0.5 0.2M269.1 546.8l0.0 0.3M276.3 549.7l0.4 0.6M219.4 551.1l-0.6 0.2M215.1 531.3l-0.1 1.0M161.9 559.4l0.0 0.8M178.9 512.4l-0.3 0.2M280.3 538.5l0.1 0.0M229.4 511.0l0.0 0.1M270.1 554.4l0.1 0.3M233.3 513.1l-0.7 0.1M260.1 490.3l0.1 0.1M211.7 566.8l-0.2 0.0M187.6 486.0l0.5 0.1M197.1 540.6l-0.1 0.3M217.5 523.0l0.5 0.1M234.9 499.6l-0.8 0.3M258.9 525.0l0.5 0.6M279.2 493.3l0.2 0.3M232.7 493.4l0.4 0.8M200.5 509.6l-0.6 0.1M260.1 489.3l-0.7 0.7M273.4 492.7l-0.5 0.0M275.8 505.3l-0.3 0.0M228.3 514.3l-0.9 0.2M266.2 505.6l0.4 0.0M274.3 505.4l-0.1 0.2M246.0 538.8l-0.1 0.0M244.6 513.3l1.0 0.2M277.4 561.8l0.3 0.4M278.8 545.3l-0.4 0.2M228.1 555.3l-0.0 0.0M225.4 532.3l-0.4 0.1M183.2 518.6l0.0 0.0M172.1 543.9l0.6 0.6M264.4 558.1l0.8 0.0M232.9 514.6l0.1 0.2M231.6 566.4l0.7 0.2M173.9 502.7l-0.3 0.0M198.9 523.9l0.2 0.7M199.9 550.9l0.6 0.2M215.4 561.1l-0.5 0.5M205.4 494.8l-0.3 0.3M217.7 541.6l0.0 0.2M216.6 530.2l-0.6 0.0M200.4 502.7l-0.2 0.2M243.8 567.9l-0.4 0.1M239.3 556.8l0.5 0.9M168.8 509.7l-0.4 0.5M272.6 540.2l0.0 0.0M212.8 486.3l-0.1 0.2M203.9 536.1l0.5 0.6M161.5 505.0l-0.5 0.2M165.4 509.1l-0.1 0.1M254.5 516.8l0.1 0.4M279.9 561.2l-0.5 0.5M178.0 487.0l-0.3 0.5M198.5 506.4l-0.0 0.0M201.9 513.3l-0.9 0.1M258.8 484.4l0.7 0.2M258.1 550.3l0.0 0.0M172.1 554.8l-0.0 0.2M263.8 494.1l1.0 0.0M210.8 548.8l-0.2 1.0M253.9 561.9l0.7 0.2M188.2 511.3l-0.1 0.0M213.2 494.8l0.0 0.7M223.4 548.4l0.2 0.7M245.3 558.6l-0.7 0.3M229.8 518.3l0.1 0.0M198.4 494.4l-0.5 0.6M234.9 501.3l-0.5 0.3M188.3 531.4l0.1 0.1M264.8 537.1l0.2 0.1M222.1 489.0l-0.1 0.5M270.2 532.5l-0.2 0.8M205.0 484.1l-0.1 0.1M174.4 502.7l0.0 0.0M220.3 484.5l0.1 0.2M161.3 505.8l0.2 0.4M204.2 511.2l-0.6 0.4M220.1 484.2l-0.4 0.1M185.6 552.9l0.5 0.2M228.4 493.9l-0.2 0.6M236.4 536.1l0.0 0.0M261.5 556.6l0.7 0.2M181.6 513.1l-0.7 0.3M192.2 532.2l0.3 0.3M173.0 550.9l0.3 0.1M237.8 537.5l-0.7 0.3M186.2 528.9l0.1 0.1M170.2 513.4l-0.0 0.1M187.3 533.7l0.1 0.0M228.9 534.5l-0.2 0.2M231.7 528.5l-0.4 0.1M211.8 529.4l-0.8 0.0M225.6 544.2l-1.0 0.1M252.2 502.2l0.0 0.2M219.7 519.9l-0.6 0.8M280.9 551.2l-0.3 0.4M273.9 521.6l0.5 0.0M224.9 509.9l0.0 0.1M181.6 521.3l-0.0 0.5M207.6 495.2l-0.2 1.0M194.8 513.5l-0.3 0.4M256.5 484.4l0.3 0.2M208.9 516.4l0.1 0.6M276.6 537.9l-0.3 0.2M165.3 564.4l-0.0 0.1M250.4 515.4l0.6 0.7M205.3 507.2l0.2 0.2M219.4 566.4l0.6 0.5M170.0 518.8l-0.5 0.6M175.1 558.7l-0.4 0.3" stroke="#6468D4" stroke-width="1.6" stroke-linecap="round" fill="none" stroke-opacity="0.9"/>
<path d="M268.0 524.1l1.1 0.6M167.0 497.8l-0.5 2.1M179.1 524.3l0.6 0.2M271.6 544.8l-0.7 2.0M275.5 533.9l-0.4 0.2M189.8 495.5l-0.3 1.1M217.4 495.8l-0.1 0.8M261.0 562.9l-0.2 0.0M207.6 521.8l-1.6 1.6M177.6 526.5l-1.1 0.4M173.6 522.3l-0.4 0.3M194.5 566.7l-0.1 0.2M187.8 557.7l0.2 0.0M170.1 516.6l0.8 1.6M165.1 527.3l1.4 0.4M214.5 511.5l-0.2 0.2M173.7 488.4l-1.0 2.2M277.3 556.6l-1.5 1.2M217.7 567.6l0.5 0.2M176.6 535.3l-0.0 0.0M162.2 565.7l1.5 1.6M174.4 550.6l-0.3 1.5M161.7 535.0l-1.0 0.9M174.7 502.7l0.3 0.1M191.1 550.9l1.0 2.2M230.7 504.0l-0.8 0.4M213.1 532.5l-0.2 0.4M230.8 511.0l-0.0 0.0M221.9 510.4l-1.0 0.6M236.6 508.3l-0.0 1.3M187.8 548.3l0.3 0.6M261.4 559.8l0.1 0.1M236.8 486.1l-0.4 0.7M214.0 541.4l0.8 1.8M242.7 533.2l0.5 0.4M164.8 537.8l-1.3 0.3M271.2 523.4l0.7 0.9M273.4 525.0l0.2 0.4M235.8 526.8l-1.9 0.4M171.5 486.6l-0.5 1.6M221.0 487.0l-1.3 0.7M166.3 494.5l-0.1 0.4M245.8 561.7l-0.9 1.8M171.5 522.9l0.2 0.3M264.9 543.2l1.4 0.3M275.5 535.9l1.4 0.5M182.8 511.9l0.0 0.1M226.2 562.6l1.7 0.4M181.8 566.7l-1.2 0.4M200.2 539.6l0.1 0.7M211.4 544.0l1.1 0.6M240.0 489.6l-0.7 0.1M253.6 509.7l0.1 2.2M254.3 488.0l-0.4 1.1M240.8 527.8l-0.2 0.3M198.2 555.5l-0.1 1.8M220.1 516.3l0.9 0.1M165.7 567.6l-0.2 0.4M239.1 534.8l1.4 1.6M226.1 547.6l0.7 0.7M204.4 490.5l-0.7 1.0M226.4 557.9l0.7 1.5M225.2 525.8l1.3 1.1M201.9 562.7l-0.7 0.1M222.7 492.8l1.2 0.3M275.8 548.0l1.5 1.8M167.3 555.0l2.3 0.5M238.5 516.7l-0.4 1.2M265.1 559.2l1.9 0.1M238.7 539.0l2.2 0.5M184.4 537.4l-0.4 1.8M179.9 547.8l-1.7 1.0M274.7 544.2l-1.7 1.1M236.5 540.2l0.4 0.7M264.1 549.6l-0.1 0.0M168.4 511.5l-0.9 0.1M207.6 555.8l-0.4 1.0M216.2 564.4l-0.1 1.2M177.9 496.3l-0.9 0.6M168.1 562.5l-0.1 0.0M239.0 496.3l0.5 1.8M213.2 519.1l-0.0 0.7M275.4 500.0l-0.1 0.9M247.6 487.3l1.0 2.1M197.0 520.4l-0.1 0.7M241.4 518.6l0.7 0.9M227.8 544.4l0.0 0.2M174.5 496.3l1.4 0.9M201.9 560.3l0.3 0.3M178.3 541.3l1.4 1.4M242.1 520.0l-0.5 1.0M172.0 514.6l0.6 1.5M171.6 549.0l0.4 0.9M222.5 505.2l1.6 0.7M222.1 564.3l-2.2 0.9M261.6 486.1l-2.2 0.2M234.9 536.0l0.1 0.4M226.8 507.1l-1.3 0.6M266.1 508.7l1.3 1.6M186.1 538.4l0.1 0.2M219.4 527.9l0.4 0.3M197.7 551.4l-0.0 0.1M170.9 543.5l1.1 0.4M273.9 516.9l0.3 1.2M166.2 558.2l0.3 0.6M183.4 562.4l0.6 1.4M227.3 500.8l-0.3 0.3M228.8 485.4l1.4 0.8M234.5 567.3l-0.0 0.0M276.0 525.1l2.1 0.3M218.1 502.2l1.4 0.3M187.3 542.9l-0.9 1.3M246.4 563.8l-0.5 0.8M268.3 553.3l-0.2 0.6M269.9 565.4l1.0 1.8M242.5 554.5l0.1 1.0M256.5 539.0l-0.1 0.0M162.6 523.0l-0.2 0.1M266.9 502.9l-1.2 1.2M210.2 534.1l-1.3 0.2M225.8 522.8l-0.2 0.2M244.1 562.0l-0.1 0.9M172.7 491.8l-2.0 0.8M183.0 546.9l0.1 2.1M183.4 512.2l-0.7 0.8M197.3 556.8l0.1 0.5M219.0 543.3l-0.6 1.1M162.4 564.8l-0.3 2.4M185.8 489.4l1.9 1.0M223.1 487.5l-0.0 0.4M197.8 560.0l1.1 1.0M174.5 527.7l1.3 0.4M198.1 546.6l-1.5 0.4M183.0 499.6l-0.1 0.1M211.0 507.8l-1.3 0.5M250.3 548.2l-0.3 0.9M217.9 528.6l1.8 1.1M180.3 510.3l-0.9 0.0M275.2 487.1l0.1 0.1M252.4 497.6l0.3 0.0M203.9 491.1l0.9 1.6M220.1 565.1l2.0 1.2M268.4 531.5l0.7 0.4M187.4 500.5l1.0 1.6M229.8 553.5l-1.1 0.6M236.9 504.0l0.5 1.7M231.1 495.8l-0.0 0.0M236.8 529.8l0.6 1.0M218.2 546.9l-0.0 0.6M231.7 505.8l1.7 1.5M204.6 557.9l0.9 1.0M162.0 562.4l1.2 0.4M220.4 540.3l-1.5 0.4M169.7 552.8l1.0 1.5M264.2 558.1l-0.5 0.3M257.2 541.7l-1.9 0.6M280.3 564.5l-1.1 1.2M209.0 525.9l0.5 0.4M262.3 555.1l-0.7 1.1M229.8 540.0l0.4 2.4M185.7 523.3l1.4 1.5M164.9 551.1l-0.6 0.3M272.8 515.2l-1.3 0.2M242.7 493.3l0.2 0.2M242.4 500.1l0.7 1.1M170.1 554.0l-0.4 1.7M201.8 494.7l-1.0 1.0M177.2 504.2l0.1 0.0M215.0 495.2l1.7 0.7M280.0 535.8l-0.6 0.0M275.6 510.0l0.9 1.4M266.9 541.9l-1.8 0.1M221.8 555.4l-0.6 1.9M254.2 540.5l0.0 0.7M234.0 517.3l-0.2 1.5M267.8 507.7l0.2 0.2M262.9 561.2l1.0 2.0M264.7 566.2l0.1 0.1M191.0 526.2l0.8 0.8M242.8 497.0l0.1 0.2M175.7 492.7l-0.1 0.0M257.5 554.9l1.2 1.7M170.8 487.9l1.8 1.5M251.5 487.9l-0.2 0.3M240.9 540.5l0.0 0.5M265.6 537.0l-0.1 0.1M267.3 549.5l-0.3 1.2M251.7 528.8l-0.0 0.5M161.6 527.7l-0.3 0.4M222.0 533.0l0.2 1.3M243.6 558.0l-1.3 1.1M175.3 505.8l0.5 1.1M196.3 567.8l0.7 1.6M272.0 497.4l-0.9 0.1M266.3 551.5l1.8 0.9M210.9 513.4l-1.5 1.7M271.0 548.4l0.0 0.0M185.1 512.6l0.0 0.3M239.4 518.5l-0.5 0.7M163.9 554.4l-0.7 0.3M192.7 542.5l-1.6 0.2M226.8 488.3l0.6 2.4M178.4 533.7l-1.9 0.2M258.5 546.9l0.1 0.1M227.2 490.8l2.0 1.2M180.1 495.8l-0.2 0.1M255.7 529.7l0.1 0.1M172.9 544.7l-0.4 0.3M194.5 501.8l-0.2 0.3M248.1 487.3l1.3 1.4M247.2 541.4l1.6 0.2M244.4 484.8l-0.9 0.3M223.3 538.7l-0.6 1.1M253.3 525.1l-0.2 1.0M201.2 517.1l1.0 1.6M267.3 522.3l1.2 0.5M250.3 549.6l2.1 1.2M234.1 538.9l1.3 0.5M209.6 558.8l-1.0 1.0M230.7 534.2l1.7 0.5M248.2 540.0l0.1 1.9M237.9 560.4l-0.0 0.0M236.0 528.9l0.4 1.6M265.1 490.5l-0.2 0.2M268.1 562.9l0.3 0.2M187.3 519.2l-1.4 0.3M275.4 519.9l1.0 0.0M163.7 495.1l0.7 0.3M224.1 528.1l1.6 0.6M209.6 491.7l1.0 2.3M166.8 499.1l-0.4 2.4M254.3 493.4l1.1 2.2M245.8 534.7l0.3 1.3M206.4 531.4l0.6 2.4M208.9 526.5l-1.5 1.0M206.7 543.8l-0.0 0.0M184.1 498.7l-0.0 0.0M274.9 535.6l-1.1 0.2M263.7 486.9l-0.9 1.7M178.9 491.0l-0.6 1.6M182.5 531.7l1.4 1.5M276.3 540.5l0.3 1.1M176.0 490.3l1.9 1.2M204.5 557.5l-2.1 0.7M246.3 521.7l-0.2 0.8M260.4 487.6l0.5 0.9M226.1 566.5l1.0 2.2M275.7 528.2l1.6 1.1M219.3 548.0l-0.7 1.6M226.9 495.0l0.4 0.1M278.7 515.9l0.0 0.1M233.8 503.2l-1.0 2.1M162.6 544.1l0.0 1.1M162.3 513.5l1.2 2.2M201.8 555.0l-1.0 0.7M220.9 554.9l0.0 0.0M220.0 522.1l-1.0 0.2M220.5 492.8l-0.0 0.4M266.2 487.6l0.2 2.5M177.6 506.4l1.1 2.0M163.3 504.0l-0.2 0.1M241.9 558.5l-0.1 0.1M219.0 502.3l1.3 1.3M230.0 495.0l2.3 0.5M278.4 501.4l1.3 0.9M232.4 527.5l-0.1 0.8M241.2 563.7l0.0 0.3M250.7 520.2l-1.2 2.1M230.6 534.0l-0.7 0.5" stroke="#D864B8" stroke-width="2.0" stroke-linecap="round" fill="none" stroke-opacity="0.8"/>
<path d="M173.4 561.4l-2.7 0.7M240.4 563.7l-1.2 1.3M187.7 490.6l0.1 0.4M228.1 506.3l-1.7 0.7M250.8 552.6l0.2 1.3M203.9 549.4l1.3 1.7M186.8 484.7l-0.8 0.6M280.4 544.4l-1.8 1.7M177.8 560.6l0.7 0.9M224.4 528.3l1.9 0.4M247.1 542.4l-0.0 0.0M176.5 485.5l-0.0 0.7M224.1 484.3l-2.6 0.3M169.3 539.1l-0.3 2.5M238.0 563.0l-0.3 0.1M256.0 565.2l0.5 1.5M254.9 488.9l-0.5 2.1M202.0 534.9l0.7 1.9M269.4 515.0l0.1 2.5M193.4 508.0l-0.2 0.4M278.4 526.3l0.0 0.1M207.3 532.0l-1.8 0.1M216.1 486.4l1.0 1.7M181.9 524.7l-0.4 2.0M223.1 547.0l1.9 0.5M219.1 547.8l1.1 2.3M188.6 538.6l-1.1 0.7M215.6 525.8l1.6 1.4M236.3 488.6l-0.8 0.2M196.2 532.6l-2.9 0.5M176.5 502.9l0.1 0.8M241.9 558.4l0.3 0.0M198.2 495.2l0.9 2.0M277.0 566.1l-0.2 0.4M234.3 558.2l0.5 0.2M269.2 542.6l1.8 0.4M163.7 545.9l0.0 0.0M249.0 567.9l0.4 0.9M258.4 565.4l2.3 1.9M212.3 521.2l-1.9 2.2M217.3 555.8l0.6 2.3M277.5 547.4l-2.4 1.4M275.4 528.7l1.6 0.0M203.6 484.0l1.6 2.3M162.9 514.2l-1.0 1.7M219.6 491.7l-1.0 1.0M228.4 551.5l0.1 1.4M249.3 545.8l-0.9 0.7M241.8 515.7l-2.3 0.4M206.7 513.5l-0.0 0.1M226.4 562.0l-1.6 0.6M280.7 544.7l-0.9 0.9M175.2 555.8l-0.4 0.5M220.9 527.2l0.0 1.4M278.7 536.7l-0.5 0.2M253.6 516.0l-0.4 2.2M197.1 540.9l-1.1 0.9M238.2 567.7l2.7 0.0M224.0 538.3l-1.1 0.4M279.5 516.8l-0.9 0.5M211.4 514.8l0.7 2.4M168.3 567.1l-0.4 1.9M197.0 548.2l0.5 1.4M187.3 505.1l-0.6 1.2M237.8 499.6l0.7 1.6M183.2 529.5l1.5 1.6M204.3 546.4l0.0 0.1M262.1 530.3l-0.9 1.4M269.8 484.7l-0.4 1.1M269.9 559.2l1.9 0.1M210.5 532.2l2.3 1.0M198.3 505.1l0.8 0.3M224.5 562.9l0.7 0.9M237.8 513.7l0.1 0.1M230.6 544.8l2.0 0.3M168.9 561.8l1.1 0.6M167.7 491.4l-2.5 1.0M251.4 537.5l-0.1 2.0M220.6 517.4l0.7 1.0M242.5 565.0l0.3 1.2M186.2 513.8l1.2 0.8M195.1 532.6l1.4 0.5M183.5 538.3l0.5 0.4M197.4 511.6l-2.2 0.9M208.3 522.4l0.4 2.8M172.0 517.1l-0.8 0.4M219.5 488.4l-0.1 2.4M247.6 546.5l1.3 1.3M166.9 562.7l0.0 1.1M170.3 530.6l0.3 0.1M243.3 523.5l0.8 2.8M265.7 511.0l-0.4 1.3M259.1 543.2l1.1 1.1M226.2 533.0l-1.1 0.7M180.1 555.8l-1.5 1.6M235.7 560.8l0.2 0.4M237.3 502.4l0.5 0.2M225.8 522.2l1.6 0.1M191.4 491.7l1.1 0.5M181.0 522.9l-1.8 1.9M199.8 490.0l1.9 0.5M178.7 544.5l-2.4 0.8M213.4 527.0l0.3 0.7M164.8 501.1l-0.9 0.2M203.3 565.9l0.1 0.3M204.8 508.4l0.7 2.8M193.4 488.0l2.3 0.6M232.4 507.8l0.7 2.9M228.0 563.3l0.8 1.9M248.4 539.0l-1.3 1.9M184.2 492.0l-0.0 0.3M249.1 520.0l0.4 1.8M264.4 558.9l2.0 0.1M258.5 536.5l2.6 1.1M241.0 491.9l-0.4 0.8M273.5 507.4l-0.0 2.8M197.5 558.9l-0.6 2.8M267.0 547.0l0.7 0.1M239.1 493.8l0.5 1.0M259.7 554.6l0.3 1.6M279.3 561.8l2.6 0.7M166.5 493.8l1.8 1.3M243.4 497.9l-2.0 0.0M278.9 551.3l-2.4 1.5M244.5 491.0l-0.7 0.9M181.0 522.3l0.0 0.3M248.2 501.9l1.8 0.6M238.2 500.7l-0.3 1.8M183.2 524.1l-0.3 0.7M201.1 557.9l0.1 1.5M212.6 484.2l-1.2 0.6M196.0 521.9l2.4 0.6M252.2 500.6l0.9 0.2M223.5 547.2l-2.7 1.4M229.1 487.6l-0.2 0.3M268.9 488.6l-1.2 0.0M227.6 534.1l0.5 1.0M249.5 549.7l1.2 0.7M270.9 498.7l-1.1 2.8M164.0 542.1l-0.2 2.5M172.5 534.3l-1.5 1.5M210.9 496.8l-1.0 1.4M250.5 563.7l-1.4 2.0M192.9 559.9l-1.7 0.2M277.7 558.3l0.5 1.3M231.5 551.6l-0.6 0.2M223.5 496.2l0.1 0.1M229.4 536.1l-1.3 1.0M243.0 491.2l0.5 0.0M263.0 495.4l0.8 1.9M265.6 553.7l-1.2 0.1M279.6 548.1l0.8 1.3M241.4 533.8l0.4 1.1M246.9 521.2l-0.2 0.1M163.3 563.1l-1.0 0.7M188.0 485.0l-0.1 0.2M162.4 508.1l-0.5 0.5M209.4 519.0l0.7 0.8M221.4 503.9l-1.1 1.1M167.7 513.3l0.9 0.8M228.1 514.6l-0.2 0.1M269.8 492.0l-0.2 1.2M236.1 558.2l0.6 0.1M266.4 534.3l0.3 0.9M180.3 512.8l-1.3 0.4M255.5 493.2l1.1 1.8M196.7 499.7l-1.4 1.6M270.5 518.8l-0.6 0.4M247.2 525.1l0.7 0.1M250.8 522.6l-1.3 0.9M279.0 484.2l-0.0 0.2M265.5 496.6l0.8 0.9M216.9 508.3l-0.9 1.6M170.7 565.7l0.6 0.5M204.7 525.2l1.6 0.5M235.9 505.6l0.5 2.6M254.2 524.3l1.1 2.2M213.1 516.8l1.9 0.2M243.3 493.5l-0.7 0.3M224.6 513.0l0.3 1.0M272.0 542.2l0.7 1.2M204.9 556.8l-0.3 0.4M226.1 506.7l1.2 2.6M229.0 512.7l-2.0 0.4M259.9 531.6l2.3 1.1M237.8 538.5l-1.2 1.1M199.4 567.3l-1.3 2.1M244.5 516.3l-1.9 0.6M213.2 526.1l-2.3 0.9M232.4 523.1l1.2 0.1M191.1 535.1l-0.9 2.5M210.3 493.7l-1.2 0.7M214.0 486.5l2.7 0.0M166.7 511.0l-0.2 0.6M172.2 508.9l0.4 0.5M164.6 551.8l-1.7 1.8M256.6 486.1l-1.7 0.9M233.5 519.7l-0.1 1.0M220.5 523.6l-1.3 2.1M239.4 484.9l-0.3 0.3M221.7 541.4l0.0 0.0M245.5 498.0l-0.2 2.2M174.4 565.8l-0.5 0.2M247.4 515.8l-0.7 1.0M274.7 520.8l-0.3 0.4M268.5 511.9l0.3 0.2M231.9 504.2l1.8 1.3M249.5 541.6l1.7 0.3M170.8 544.2l-2.4 0.5M239.6 553.5l0.1 0.1M222.4 522.2l0.2 0.4M275.2 548.0l-1.3 0.1M179.7 525.4l0.8 2.2M191.0 565.5l1.6 1.9M189.1 544.9l0.4 1.4M190.6 553.2l-0.5 0.1M164.1 521.0l-0.4 2.9M279.5 541.4l0.1 0.2M208.3 547.1l1.4 0.9M268.5 538.2l0.1 0.7M258.4 519.1l-0.8 0.3M214.8 566.4l-0.2 1.9M201.2 536.8l-1.4 0.8M248.2 532.1l0.2 0.4M204.6 511.3l-1.2 1.0M218.6 543.2l2.0 0.8M165.9 557.0l-2.6 0.3M210.0 512.9l-1.0 0.9M247.4 567.3l-0.1 2.2M220.3 532.8l-2.9 0.6M229.2 530.9l-0.6 2.7M190.1 549.1l-0.5 0.7M232.5 549.1l-1.4 0.8M190.3 509.8l-0.4 0.4M169.4 503.4l0.7 2.2M248.3 514.9l1.6 0.8M238.7 503.9l2.6 1.2M226.7 561.5l1.7 1.4M234.7 515.8l-1.5 1.4M187.2 565.1l0.6 2.7M280.2 512.9l1.1 1.0M178.3 503.9l1.8 0.1M209.9 543.6l0.0 0.6M162.9 556.6l1.7 2.2M205.4 529.5l0.7 2.5M259.9 552.7l0.1 0.1M176.6 538.6l0.9 2.0M187.4 535.1l2.1 1.0M183.1 551.2l0.3 1.3M185.6 495.7l0.7 1.6M205.2 506.4l-1.0 0.9M179.3 557.4l0.4 0.3M228.2 549.3l-2.0 0.5M260.7 519.4l0.8 0.2M261.0 561.3l0.6 2.4M198.4 504.6l-0.2 1.6M186.4 505.8l2.0 1.2M265.7 519.3l-0.2 0.9M173.6 543.6l0.5 0.6M247.9 561.0l-0.2 0.6M216.8 532.8l-0.5 1.5M166.2 494.0l1.5 0.7M232.2 536.5l-0.8 2.2M174.9 557.3l-0.7 2.4M227.0 520.5l0.1 2.1M256.3 559.1l-1.1 0.2M163.2 519.8l-0.5 0.5M164.0 544.7l-1.5 0.8M177.3 527.8l2.2 1.9M167.8 496.5l-1.0 1.5M271.8 500.9l-0.1 1.0M208.5 517.2l1.3 1.6M229.1 507.9l0.6 0.6M184.1 542.9l0.1 0.3M232.5 512.3l-0.0 0.0M166.5 552.8l0.6 0.2M212.2 554.0l-0.3 0.0M269.6 488.8l-2.2 0.2M270.6 513.5l-0.8 0.2M253.6 561.1l0.8 2.2M229.8 561.1l0.1 0.5M193.9 557.5l-2.3 0.8M229.4 509.4l2.3 0.9M276.0 564.8l-1.3 0.3M205.1 560.3l-0.5 0.7M173.8 499.4l1.4 1.0M198.8 502.1l0.0 0.0M162.1 530.3l-0.0 0.1M217.3 536.0l2.0 1.6M277.7 552.4l-1.1 0.1M226.2 518.8l0.6 0.3M215.1 529.7l0.0 0.0M207.5 557.7l-0.1 1.8M261.7 511.5l-2.9 0.4M228.8 512.4l-1.4 1.5M242.0 516.3l0.3 0.6M173.0 530.5l0.6 0.7M224.2 530.1l-0.4 2.4M223.7 527.0l0.5 0.4M171.7 507.9l0.5 1.7M174.8 547.5l-0.5 1.2M256.3 541.1l-0.1 0.8M250.6 515.1l2.9 0.3M175.3 505.1l1.2 0.2M212.9 541.1l-1.0 0.1M171.1 502.1l1.2 1.4M268.3 492.3l-1.7 0.6M208.9 490.1l1.4 1.2M168.0 526.2l0.9 0.0M210.6 535.2l-0.7 1.1M201.6 536.6l-1.5 0.4M231.3 539.9l0.0 2.0M233.0 567.9l0.1 2.9M258.7 530.5l1.1 0.7M212.2 520.3l0.1 1.7M173.2 539.3l0.6 0.4M165.6 523.6l0.5 1.7M233.6 487.7l-0.1 2.8M245.7 521.4l1.8 0.8M252.8 517.0l1.4 1.6M207.8 486.0l-2.0 0.7M171.4 508.1l0.0 0.1M271.6 528.6l1.7 0.2M272.9 544.4l-1.8 0.8M167.9 510.1l0.2 0.6M169.1 556.7l0.8 1.1M265.7 496.1l2.0 1.8M257.1 563.6l-0.0 1.0M203.2 564.1l-2.7 0.0M219.7 539.5l0.6 2.7M256.7 507.9l-0.3 0.4M191.7 500.3l-2.9 0.8M259.4 526.3l-0.7 1.1M223.4 494.7l0.5 0.9M240.1 504.3l-2.2 0.9M272.9 549.4l0.1 2.5M231.7 484.9l-1.4 1.5M214.7 532.0l0.1 0.2M250.0 548.9l-1.9 1.6M165.8 563.1l-1.7 1.4M172.8 533.3l-0.7 0.8M206.2 506.9l-0.4 0.8M249.9 499.6l-0.7 2.2M234.9 566.8l0.2 1.8M229.0 508.0l-2.0 1.4M276.8 541.6l0.7 2.0M238.9 563.2l0.3 0.8M166.4 549.6l0.1 0.1M220.4 559.5l-1.6 1.6M240.2 534.1l-0.9 1.5M277.0 527.3l-1.8 0.5M202.0 538.6l2.2 1.5M216.6 551.4l0.1 0.7M257.3 534.2l0.2 0.6M186.3 542.0l1.1 0.4M215.3 567.0l0.9 2.8M247.5 522.5l0.3 0.3M217.7 537.8l0.0 0.5M233.2 512.9l-0.9 0.8M206.9 490.6l-0.9 2.2M177.6 566.0l0.7 1.5M241.7 511.7l-0.9 1.1M213.4 531.3l0.1 0.9M181.1 528.1l-0.1 1.5M241.4 519.4l0.0 0.0M229.2 542.4l0.3 1.0M190.2 550.5l1.1 1.3M216.2 495.0l-0.3 3.0M270.2 559.9l2.3 0.8M174.0 541.7l-0.1 0.1M171.5 556.9l0.5 2.9M207.3 523.0l0.7 0.6M193.7 499.9l0.6 1.6M258.4 541.0l-2.8 0.4M238.0 486.6l-1.0 1.3M274.7 550.4l-1.0 0.1M269.9 484.2l1.4 0.4M213.9 490.0l-0.5 0.4M190.4 548.7l0.9 0.1M274.2 507.2l0.4 2.6M164.3 489.4l-0.2 0.4M166.1 555.7l0.3 0.0M170.5 508.0l-0.4 0.8M222.8 511.9l1.8 0.6M161.0 561.5l-0.1 0.6M214.3 506.2l-1.9 1.6M277.9 522.2l0.4 0.8M222.0 565.7l-0.7 0.7M232.7 506.3l0.0 0.9M214.8 484.4l-0.2 0.1M208.7 540.2l-0.6 0.1M276.5 520.4l-0.1 0.3M221.7 547.0l-1.4 1.5M176.4 518.4l2.3 0.3M173.3 531.4l2.5 1.4M235.4 545.5l-0.5 2.6M168.6 515.8l-0.4 1.1M271.5 503.6l-2.1 0.6M212.5 515.4l1.9 1.0M188.2 551.7l-2.5 0.7M163.9 497.4l-0.7 0.5M257.1 532.7l-0.7 1.0M178.0 555.5l0.9 0.9M242.9 515.2l-0.2 2.8" stroke="#C41E8C" stroke-width="2.1" stroke-linecap="round" fill="none" stroke-opacity="0.9"/>
<path d="M172.4 505.2l-2.5 0.1M162.0 537.9l0.3 0.2M221.0 567.5l0.9 2.1M243.7 490.2l1.6 1.9M176.9 559.6l-0.0 0.5M219.6 547.8l-1.3 0.1M269.5 495.2l-0.7 2.1M191.7 515.2l-0.6 1.1M162.9 548.2l0.7 0.7M177.5 554.6l-1.7 0.2M180.3 519.5l0.9 0.0M178.9 498.3l-0.1 0.2M265.1 520.1l1.2 0.4M202.9 526.1l0.6 1.1M171.1 526.1l-0.1 0.3M236.8 491.0l1.3 0.0M182.3 507.4l-0.3 0.1M241.9 551.7l-0.2 0.8M259.2 541.6l-0.2 0.3M218.7 499.4l-0.9 1.6M200.0 488.6l-1.3 0.4M235.3 548.3l-2.4 0.4M249.6 551.8l1.2 1.3M230.7 556.4l0.2 0.4M239.9 493.3l0.6 0.8M239.5 537.2l2.2 0.4M245.6 560.2l-1.0 2.0M250.5 537.3l1.8 0.1M262.6 516.5l0.4 2.1M251.7 495.0l1.5 1.1M191.1 558.6l0.9 0.6M177.8 557.9l0.2 0.9M165.6 502.6l-1.0 0.5M265.8 560.3l-0.9 1.1M222.4 544.2l-0.4 0.0M268.8 547.4l-0.6 0.3M208.0 532.4l1.5 1.5M239.9 561.3l-1.1 1.9M267.1 542.7l-0.6 1.3M184.1 527.5l-0.1 0.0M197.4 504.1l1.6 1.0M184.5 512.6l1.3 0.6M194.0 547.5l-0.3 0.5M275.9 511.6l2.3 0.2M237.0 560.8l1.8 0.3M206.7 500.9l-0.4 0.8M169.6 538.5l0.1 0.1M181.7 546.8l-0.7 0.0M256.9 545.8l-0.1 0.3M260.4 561.5l0.2 0.1M191.7 565.6l0.8 1.0M165.2 550.3l0.0 0.1M269.0 552.0l1.9 1.5M237.9 486.7l-0.3 0.4M267.9 534.2l0.5 0.0M256.1 485.2l1.4 0.3M177.5 549.9l-1.8 1.4M277.6 500.1l-0.7 0.5M273.6 512.2l1.3 1.3M195.0 519.5l-0.3 0.2M181.8 501.8l-0.9 1.5M161.6 513.6l1.4 1.5M186.5 521.1l1.3 1.1M209.0 488.1l-0.9 1.8M242.6 556.5l-1.6 1.3M232.4 528.6l0.2 0.1M174.3 516.9l-0.4 2.0M193.3 559.1l1.2 0.8M184.7 489.4l0.0 0.0M164.1 551.8l-0.2 0.1M163.8 556.0l0.8 1.5M224.7 511.7l1.7 0.6M269.7 487.2l-0.1 0.7M219.7 526.2l1.0 0.4M258.3 495.6l-1.2 0.8M202.6 562.0l-0.7 0.0M219.1 521.8l-0.5 1.3M222.8 558.8l0.4 0.2M190.3 492.0l-0.3 2.0M215.5 527.8l-1.0 0.4M209.7 546.4l-1.2 0.0M211.9 553.4l1.0 0.7M197.7 505.6l0.7 1.4M197.3 493.6l-1.3 1.1M234.2 498.6l-1.7 1.0M231.9 537.0l2.1 0.4M163.2 505.3l-1.0 1.4M265.0 562.1l0.2 0.2M200.6 492.6l-0.3 1.2M167.9 560.6l-0.4 0.3M193.5 495.5l0.9 1.1M246.8 503.0l-0.0 1.0M214.6 514.9l1.7 0.7M237.1 541.8l-0.0 0.5M270.7 528.8l0.6 0.7M278.7 518.1l1.4 0.6M193.6 503.7l0.5 1.5M209.9 556.3l-1.0 0.5M256.1 517.2l-1.5 0.5M247.7 527.9l-1.8 0.3M277.3 513.4l-1.9 0.7M267.6 520.6l-0.5 0.1M181.0 498.4l0.2 0.9M216.2 487.0l-0.0 0.1M218.8 560.0l-2.1 0.4M220.3 485.8l-0.5 2.0M200.8 495.1l-0.1 1.2M176.3 530.5l-1.4 1.8M170.1 553.8l0.2 0.8M257.9 521.1l0.0 0.4M162.9 488.3l0.0 0.0M177.4 559.8l-1.4 0.1M275.5 542.1l0.4 0.1M256.1 539.6l1.4 0.8M225.1 501.5l-1.4 1.8M185.4 504.0l0.4 0.3M211.1 504.0l0.5 0.5M211.2 498.2l0.0 0.0M241.9 488.1l-1.4 0.5M197.7 517.8l0.1 0.1M179.8 496.0l0.1 0.2M234.9 500.8l-0.7 1.0M249.9 549.5l0.1 0.1M244.1 514.9l0.4 0.1M268.0 523.7l-0.5 0.3M188.1 558.5l-0.7 2.2M216.9 519.7l-2.1 1.0M245.8 502.8l2.3 0.2M226.1 558.2l1.8 1.6M193.9 499.0l-2.3 0.0M203.3 524.5l-1.8 1.3M204.5 503.5l-1.5 0.3M265.6 500.5l-1.4 0.4M256.3 551.8l-1.0 1.4M213.7 527.7l-2.3 0.9M205.1 540.8l-0.5 0.3M217.0 505.5l-0.0 0.0M174.0 495.9l-0.7 0.6M170.5 533.2l0.1 0.7M202.6 503.5l0.6 1.7M226.9 503.3l-1.1 1.9M271.1 496.9l0.5 0.1M207.4 544.3l-0.1 0.3M206.2 496.1l-0.3 1.2M181.6 507.2l-0.6 1.4M199.7 509.1l1.6 0.1M275.7 537.4l2.0 0.2M183.2 519.4l-0.4 0.6M242.9 560.8l0.5 1.6M265.8 541.7l-1.9 1.5M191.0 540.5l0.8 0.3M274.5 508.7l-2.4 0.6M168.9 484.8l0.3 0.5M264.1 521.5l0.0 0.9M201.7 488.0l-2.4 0.4M272.8 492.2l-0.3 0.2M168.8 501.3l-1.2 1.3M279.6 488.2l-0.4 0.3M170.5 566.3l0.5 0.1M240.0 498.4l0.2 0.1M219.1 529.6l0.9 0.0M169.6 530.4l1.2 2.1M238.9 540.2l1.4 1.0M277.4 491.5l0.2 0.4M239.6 555.5l1.0 0.7M185.6 526.6l1.1 0.1M185.2 498.0l-1.2 0.2M228.0 542.7l-0.8 0.1M182.3 561.0l-0.3 0.1M255.7 493.9l0.8 0.3M210.8 539.2l0.3 1.4M210.3 516.2l0.6 0.0M247.7 551.1l0.2 1.0M183.7 504.4l-0.3 1.0M225.2 525.4l0.3 1.0M268.8 558.8l0.1 0.5M275.3 495.4l1.2 0.0M216.2 485.2l0.0 1.2M197.4 488.5l0.1 0.2M232.9 502.5l-0.0 0.0M220.7 537.5l-1.2 1.7M240.5 502.8l-0.9 0.8M272.0 488.1l0.6 1.2M256.6 498.0l0.1 0.0M275.7 502.4l2.2 0.9M221.8 555.8l0.1 0.6M231.8 543.4l-0.2 0.7M275.3 485.6l-1.2 2.1M215.8 532.0l-0.8 2.1M268.8 510.5l0.9 1.4M180.0 537.6l-1.7 0.0M207.5 564.8l-1.1 1.2M163.1 522.6l-0.2 0.0M237.3 529.6l-1.4 0.3M235.2 506.1l0.0 0.1M185.2 525.7l-0.3 0.2M185.8 527.9l0.3 0.4M176.0 514.5l-0.5 0.4M201.9 546.6l2.4 0.3M270.7 510.5l0.1 0.5M255.4 558.4l0.7 2.0M273.4 499.4l2.1 1.3M196.2 489.3l1.1 0.3M263.4 532.5l1.1 0.9M222.1 559.9l0.1 1.1M206.2 499.6l-0.1 0.5M218.9 513.1l-0.0 0.9M174.9 523.8l0.8 1.6M236.8 489.3l-0.1 1.5M227.8 503.3l-0.6 0.8M224.5 503.2l0.0 0.0M274.1 543.0l1.2 1.3M211.3 511.1l-0.6 1.7M253.3 496.8l-0.1 0.3M267.4 561.9l1.0 1.0M252.9 513.0l-0.7 2.2M254.1 540.2l-1.4 0.5M243.7 510.1l-0.1 0.5M277.4 502.6l0.2 0.4M230.3 511.1l-0.1 0.2M198.2 493.4l-0.1 0.8M241.7 521.4l-0.3 0.5M260.6 486.5l2.4 0.2M225.3 554.7l2.2 0.6M163.5 542.9l0.8 2.1M253.0 525.8l0.2 0.1M226.0 528.1l-0.0 0.2M197.2 540.2l-0.0 0.3M271.2 565.0l-0.1 0.1M277.6 542.1l0.2 0.1M202.7 562.7l1.1 1.7M162.3 529.8l2.2 0.5M239.9 567.6l-0.1 0.3M218.1 559.3l-0.5 1.0M204.0 485.0l0.2 0.1M167.5 547.5l-1.2 1.7M186.2 555.4l-0.5 0.3M196.9 528.2l1.2 1.3M255.7 566.6l0.5 1.0M231.3 533.8l-0.5 2.4M218.3 521.5l0.6 1.0M162.4 520.9l1.5 1.6M270.9 493.6l0.0 0.1M196.7 528.9l-0.0 0.2M234.6 535.4l-0.5 2.3M267.9 535.8l-0.8 0.8M245.8 515.3l-1.0 1.1M233.3 516.3l-0.5 1.0M213.9 515.8l-0.8 2.0M184.4 538.6l-0.7 1.5M209.0 484.9l-0.1 1.6M272.2 539.2l0.9 1.8M176.5 558.4l0.3 1.7M226.1 567.6l1.5 0.3M188.1 503.1l-0.1 0.7M204.8 502.9l2.2 1.0M249.2 514.2l-2.2 0.2M172.4 557.0l-1.1 0.1M213.3 484.7l1.6 1.5M187.9 558.2l-1.5 1.0M273.0 532.3l0.4 0.4M173.4 509.1l-0.0 0.0M221.2 526.6l-0.3 0.4M250.2 498.2l0.1 0.2M179.0 501.2l1.3 2.0M206.0 517.1l0.2 0.1M265.4 511.5l1.6 1.0M278.3 517.5l0.1 0.5M198.8 512.5l-0.2 0.1M207.4 545.7l-1.5 0.2M239.3 500.2l-2.1 1.2M162.8 552.6l1.4 0.4M172.4 554.6l0.2 0.3M222.6 546.9l-0.2 0.2M206.4 497.9l-0.1 0.7M270.3 559.9l-0.1 1.6M200.9 523.4l0.3 1.1M263.2 567.1l-0.7 0.3M169.9 502.7l-1.4 1.2M270.8 549.4l1.2 0.2M200.6 557.1l-0.2 1.9M248.2 527.7l-2.0 0.3M229.5 566.9l-1.0 0.9M199.6 494.7l-0.4 0.2M268.8 566.9l-0.2 1.2M201.3 494.0l-2.1 0.4M275.2 525.9l1.0 0.2M230.8 567.4l-0.1 0.1M277.6 501.0l-0.2 0.5M216.4 519.5l0.1 0.2M245.9 565.6l0.4 1.2" stroke="#761A80" stroke-width="1.9" stroke-linecap="round" fill="none" stroke-opacity="0.9"/>
<path d="M178.3 546.1l0.4 0.1M175.7 542.9l-0.1 0.0M261.3 500.1l-0.6 0.7M266.0 496.8l0.0 0.2M216.4 562.8l-0.3 0.4M266.9 523.9l-0.1 0.0M243.6 508.7l0.7 0.4M179.8 561.1l-0.1 0.0M240.1 528.9l-0.2 0.1M280.2 531.9l0.7 0.7M247.5 523.6l-0.5 0.2M279.7 558.2l-0.1 0.1M260.6 544.0l0.1 0.0M187.3 548.2l-0.2 0.3M273.6 496.7l0.0 0.3M249.3 554.1l0.3 0.5M198.8 530.1l0.7 0.4M258.5 549.3l0.6 0.5M257.9 535.9l0.1 0.2M217.9 509.3l-0.3 0.2M246.5 533.8l-0.0 0.9M238.7 555.5l-0.0 0.0M212.0 500.6l0.4 0.5M239.7 485.4l0.1 0.2M238.5 537.1l-0.0 0.1M167.6 558.6l-1.0 0.2M249.9 531.8l-0.1 0.9M277.0 520.6l-0.1 0.4M258.1 561.5l0.5 0.1M176.4 529.1l-0.2 0.4M180.0 562.2l0.0 0.1M242.2 517.7l0.1 0.3M177.9 538.6l0.2 0.7M221.3 497.6l-0.1 0.7M237.0 546.7l-0.4 0.4M191.5 494.5l-0.8 0.4M259.0 553.1l0.2 0.2M264.4 507.0l-0.0 0.0M174.4 500.8l-0.1 0.1M180.5 566.9l-0.5 0.3M265.6 545.9l-0.5 0.5M166.0 563.1l0.1 0.5M227.6 531.9l-0.5 0.2M172.8 526.2l0.2 0.7M251.4 497.6l-0.6 0.1M183.3 535.2l0.6 0.2M174.4 495.8l-0.1 0.0M250.9 496.0l0.0 0.0M248.7 560.2l0.0 0.0M209.9 511.1l-0.1 0.1M236.9 496.1l0.2 0.1M279.7 506.4l-0.5 0.9M226.9 493.8l-0.3 0.5M207.2 552.9l-0.1 0.5M271.2 549.5l0.2 0.6M206.6 489.3l0.0 0.1M179.3 485.3l0.5 0.2M274.4 548.5l0.4 0.5M257.8 501.4l0.2 0.6M267.8 533.7l-0.1 0.1M173.9 484.8l-0.1 0.5M227.5 499.8l-0.1 0.4M220.9 560.8l-0.0 0.0M219.9 488.5l0.3 0.2M180.1 562.5l0.0 0.1M205.3 549.9l-0.6 0.2M238.3 519.9l0.0 0.1M187.9 551.0l0.5 0.3M242.9 523.1l0.1 0.6M165.6 518.6l-0.1 0.3M235.8 566.0l0.2 0.8M263.1 503.0l0.2 0.3M219.4 556.9l0.0 0.0M264.0 558.7l0.1 1.0M207.4 509.7l-0.8 0.2M224.2 545.3l-0.1 0.1M238.8 557.2l0.1 0.6M183.9 502.9l-0.1 0.0M240.8 526.3l0.3 0.1M244.1 495.1l-0.3 0.7M280.5 554.4l-0.1 0.6M227.3 534.2l0.5 0.5M265.8 541.3l-0.3 0.0M230.0 553.5l0.5 0.0M259.0 501.0l-0.5 0.0M226.2 534.2l0.1 0.9M245.6 517.7l0.0 0.0M219.2 487.8l-0.9 0.5M184.8 497.9l0.0 0.1M257.8 497.2l0.4 0.5M174.9 525.5l0.2 0.0M169.7 554.2l0.7 0.6M181.8 525.0l-0.0 0.1M166.7 499.5l-0.3 0.1M166.7 537.3l-0.9 0.3M254.8 549.3l-0.3 0.2M247.6 485.1l0.2 1.0M255.3 522.0l-0.2 0.6M162.0 502.9l-0.5 0.7M236.4 547.7l0.2 0.1M230.8 547.3l-0.2 0.3M198.8 498.2l-0.0 0.1M272.6 484.7l0.4 0.8M195.4 486.2l0.3 0.8M241.0 521.1l-0.2 0.3M184.4 538.9l0.2 0.0M212.7 491.6l0.1 0.3M251.1 546.0l-0.3 0.9M233.8 566.7l0.3 0.2M189.1 497.4l-0.0 0.8M253.7 487.3l-0.1 0.2M161.8 556.2l0.2 0.2M256.6 563.4l-0.8 0.4M217.7 488.7l0.1 0.0M177.2 510.8l0.5 0.7M190.0 526.7l0.7 0.0M226.2 486.5l-0.1 0.1M276.4 532.5l0.0 0.0M245.6 543.9l0.6 0.1M198.0 512.9l-0.0 0.1M244.9 544.5l-0.5 0.1M239.0 488.7l0.3 0.3M222.3 493.6l0.2 0.0M231.2 486.0l-0.6 0.4M206.1 498.0l-0.1 0.0M211.2 530.0l0.7 0.5M234.1 551.1l-0.4 0.6M196.7 506.9l-0.5 0.3M194.4 559.8l-0.7 0.0M218.6 540.6l-0.0 0.2M205.2 518.7l0.2 0.1M238.2 523.8l0.4 0.0M260.8 547.4l-0.0 0.4M161.6 490.8l-0.2 0.1M195.3 530.9l-0.1 0.3M202.0 485.1l0.1 0.3M185.9 525.5l0.1 0.1M183.8 528.3l0.8 0.3M168.1 518.7l0.3 0.1M213.9 541.9l0.3 0.8M237.2 521.4l-0.7 0.6M189.8 555.5l0.0 0.0M190.1 504.2l-0.8 0.5M199.3 551.4l-0.0 0.2M270.1 527.3l-0.4 0.3M219.8 543.8l-0.1 0.3M179.3 502.8l-0.0 0.0M183.5 533.0l-0.9 0.0M169.5 551.7l-0.7 0.7M206.7 536.8l-0.6 0.4M232.6 564.7l-0.3 0.8M252.2 542.6l0.3 0.1M239.2 486.7l0.2 0.1M194.3 530.1l-0.2 0.0M171.3 556.0l-0.7 0.2M176.6 514.4l0.0 0.3M264.4 559.3l-1.0 0.0M207.2 557.4l-0.2 0.3M236.5 548.4l0.0 0.1M179.7 550.8l-0.3 0.3M246.3 508.0l-0.1 0.2M185.5 522.9l-0.7 0.2M213.3 521.0l0.3 0.1M233.5 562.9l0.8 0.6M256.5 502.7l0.8 0.1M187.2 553.4l-0.4 0.4M190.1 487.0l0.5 0.0M253.9 495.8l-0.0 0.1M185.2 535.3l0.2 0.1M273.4 559.4l-0.1 0.4M164.7 505.1l1.0 0.1M177.7 495.0l0.2 0.3M230.9 563.8l0.4 0.1M263.3 520.3l0.2 0.2M203.1 510.7l-0.0 0.0M178.5 553.1l-0.1 0.1M244.1 490.3l0.6 0.5M262.2 523.2l-0.9 0.2M238.7 535.7l-0.1 0.1M216.0 491.1l-0.2 0.4M185.9 563.7l-0.1 0.5M183.1 567.5l-0.3 0.1M270.3 560.4l0.1 0.1M171.0 491.6l0.5 0.1M203.6 545.2l-0.6 0.7M197.6 555.1l0.4 0.3M178.5 530.8l-0.7 0.1M280.1 552.1l0.2 0.6M174.6 513.2l-0.2 0.0M220.4 518.0l-0.1 0.2M266.6 521.8l-0.6 0.8M222.8 533.5l0.0 0.0M258.6 542.3l-0.2 0.1M266.4 537.8l-0.2 0.9M167.8 497.9l-0.2 0.3M169.6 558.4l-0.2 0.1M245.7 533.8l0.1 0.2M225.0 507.3l0.1 0.1M244.6 506.0l0.1 0.3M247.2 559.7l-0.2 0.2M280.3 509.2l0.5 0.0M236.0 508.1l0.1 0.3M183.7 529.7l0.9 0.1M192.1 523.9l-0.2 0.3M230.8 518.3l0.9 0.3M212.1 511.8l0.5 0.6M211.9 493.8l0.1 0.2M279.8 562.7l-0.6 0.4M197.3 494.9l0.6 0.4M232.4 502.5l-0.5 0.0M277.4 521.8l0.0 0.4M271.1 527.9l0.3 0.2M162.7 488.3l0.2 0.0M213.1 561.4l0.7 0.0M244.6 495.6l-0.9 0.4M259.8 529.9l0.6 0.2M203.5 512.2l0.8 0.2M252.7 484.8l0.5 0.0M181.0 564.7l-0.0 0.3M269.5 484.7l0.6 0.5M205.6 556.4l0.4 0.2M171.3 496.8l-0.0 0.2M182.6 527.8l0.0 0.7M177.9 485.0l-0.6 0.4M179.4 511.8l-0.4 0.1M246.7 491.2l0.5 0.4M214.6 557.3l-0.5 0.9M276.2 558.2l0.0 0.1M234.4 526.4l0.5 0.1M236.0 518.1l-0.3 0.6M245.9 518.9l-0.0 0.0M185.7 500.0l-0.0 0.1M222.7 532.3l0.7 0.2M193.4 516.3l-0.5 0.3M258.5 527.2l0.0 0.1M172.8 551.7l0.0 0.0M252.7 567.2l0.4 0.9M191.1 510.0l-0.4 0.1M241.5 550.7l0.4 0.0M244.1 565.0l0.1 0.4M233.9 485.9l-0.0 0.0M161.7 510.4l-0.7 0.6M226.5 563.3l0.3 0.2M215.2 500.6l-0.2 0.2M188.2 507.8l-0.4 0.7M275.0 490.8l0.4 0.9M215.9 544.4l0.0 0.4M193.5 564.1l-0.6 0.3M228.6 555.8l0.3 0.4M171.6 513.4l-0.3 0.4M262.9 542.2l-0.0 0.4M265.7 509.5l0.2 0.2M258.2 541.7l0.2 0.9" stroke="#3A36A6" stroke-width="1.4" stroke-linecap="round" fill="none" stroke-opacity="0.9"/>
</g>
<clipPath id="c2"><rect x="282" y="486" width="115" height="80"/></clipPath>
<g clip-path="url(#c2)"><rect x="282" y="486" width="115" height="80" fill="#DCE3F0"/>
<path d="M394.3 502.7l1.2 0.2M318.2 564.2l-0.6 0.9M377.6 532.1l0.8 0.8M383.1 502.6l-0.1 0.3M305.4 557.0l-0.2 0.4M336.0 557.2l-0.0 0.0M376.4 550.6l0.7 0.6M290.4 505.8l-0.2 0.2M347.7 520.8l0.1 0.4M370.7 542.4l-0.2 0.2M339.6 499.8l0.0 0.1M317.1 513.5l-0.0 1.1M381.1 508.8l1.0 0.3M370.4 546.1l0.1 0.2M290.8 517.6l0.5 0.1M289.7 502.0l-0.5 1.0M318.1 503.5l0.0 0.0M280.2 493.7l0.1 1.1M337.8 491.3l-0.7 1.0M369.2 503.7l0.1 0.5M313.6 497.0l-1.1 0.4M396.4 515.9l0.1 0.1M280.3 512.0l-0.0 0.3M337.3 529.4l0.2 1.1M333.3 567.2l1.0 0.4M362.4 521.2l-0.1 0.2M334.9 496.7l-0.7 0.1M341.0 535.9l-0.1 0.3M305.3 534.9l-0.5 0.2M315.1 533.3l0.0 0.9M395.1 491.6l0.0 0.7M394.7 493.0l0.0 1.0M283.4 516.0l0.1 0.2M288.5 547.9l-0.1 0.8M370.8 517.8l-0.1 0.0M372.4 522.7l0.8 0.8M316.2 510.9l-0.9 0.3M286.0 496.4l0.6 0.1M381.0 544.5l-0.4 0.0M317.8 506.3l0.0 0.1M338.6 565.2l-0.4 1.0M337.9 525.7l0.6 0.4M339.7 509.0l0.7 0.4M293.6 521.5l-0.0 0.1M378.0 485.5l0.7 0.9M319.1 496.1l0.7 0.7M336.9 506.5l0.2 0.2M289.8 504.0l0.4 0.2M333.5 533.9l-0.4 0.6M336.0 555.8l0.0 0.0M388.3 557.9l-0.6 0.3M390.8 559.7l0.3 0.4M393.8 523.3l0.5 0.0M390.1 519.2l-1.1 0.4M367.2 525.7l-0.9 0.2M368.4 488.7l-0.1 0.1M318.9 522.2l0.2 0.1M334.4 485.1l0.1 0.3M309.9 510.6l-0.3 0.4M365.1 532.1l-0.6 0.7M282.9 513.5l-0.2 0.1M389.9 512.8l-0.1 0.2M323.3 520.9l-0.0 0.8M374.3 565.3l0.1 0.6M321.4 554.0l-0.6 0.8M362.9 558.5l-0.6 0.9M338.0 553.0l0.9 0.5M345.6 564.8l0.1 0.1M386.9 505.2l-0.1 0.9M348.3 488.0l-0.2 0.3M389.8 525.6l0.4 0.1M370.0 541.5l-0.0 0.0M381.8 487.5l0.3 0.5M291.4 520.0l0.2 0.4M293.5 551.4l0.9 0.6M328.2 563.4l-0.0 0.6M328.2 567.1l-0.5 0.4M321.6 555.1l0.7 0.0M369.7 526.6l-0.1 0.1M336.5 500.8l-0.4 0.3M373.5 529.6l0.7 0.6M357.2 567.7l0.3 0.9M310.8 548.3l0.8 0.4M314.6 506.9l-0.6 0.5M325.7 541.3l0.8 0.6M342.0 537.4l0.4 0.3M364.4 485.3l-0.1 0.5M340.1 554.3l-0.2 0.3M290.0 522.8l0.0 0.2M332.9 495.5l0.4 0.3M351.9 540.6l-0.4 0.2M289.9 520.1l0.4 0.8M317.0 552.5l-0.1 0.0M330.0 528.7l0.6 0.4M294.2 498.1l-0.5 0.0M394.9 540.5l-0.7 0.2M367.9 523.7l-0.0 0.0M391.2 486.7l0.9 0.2M331.5 495.5l0.8 0.8M325.7 530.9l-0.3 0.3M341.1 503.3l0.3 0.1M313.1 541.9l1.0 0.5M356.4 491.2l-0.5 0.5M394.5 528.8l0.1 0.0M335.2 530.5l0.1 0.0M291.4 514.5l-0.0 0.0M350.3 499.2l0.2 0.3M315.2 502.8l-0.2 0.6M366.7 507.5l-0.1 0.4M305.0 518.4l-0.3 0.8M285.2 529.7l-0.8 0.4M286.0 567.0l-0.4 0.4M390.5 563.6l0.8 0.2M294.0 519.7l0.0 0.1M344.2 491.7l-0.3 0.2M348.9 556.7l-0.9 0.6M290.3 503.1l1.0 0.3M306.5 548.7l-0.0 0.7M346.5 556.5l-0.6 0.8M342.1 503.8l0.1 0.3M372.0 548.2l0.0 0.0M282.8 530.4l-0.1 0.1M372.4 485.7l0.9 0.8M336.5 527.4l0.7 0.9M315.1 487.1l0.3 0.7M287.9 560.0l-0.8 0.8M286.2 541.6l0.4 0.3M303.8 561.8l-0.3 0.2M351.6 546.7l0.1 0.1M354.8 518.5l0.2 0.3M294.9 533.8l0.3 0.3M397.6 543.6l-1.0 0.5M319.3 551.0l-0.2 1.1M359.8 538.4l0.0 0.1M280.9 544.7l-1.1 0.4M310.3 500.7l0.1 0.0M288.8 509.0l0.7 0.5M370.3 553.9l-0.7 0.7M366.7 510.7l-0.3 0.2M322.7 484.9l0.5 0.2M319.2 564.5l-0.2 0.6M357.3 552.1l-0.0 0.3M302.3 502.3l-0.5 0.1M300.8 498.9l0.4 1.0M342.5 525.2l0.4 0.2M332.4 489.5l-0.2 0.7M311.7 490.1l0.0 0.0M394.7 545.4l0.5 0.8M381.4 536.8l0.3 0.3M332.2 532.1l0.0 0.0M327.8 493.9l1.0 0.1M307.1 526.6l0.6 0.1M375.4 504.0l-0.4 0.5M322.5 527.0l0.2 0.9M369.2 547.1l0.2 0.1M315.3 531.2l0.1 0.1M343.7 500.9l0.4 0.1M368.9 554.0l-1.0 0.2M346.9 511.7l-0.0 0.1M357.3 503.3l-0.2 0.4M286.7 496.5l0.3 0.9M353.5 484.3l-0.1 0.3M295.8 568.0l-0.3 0.5M397.6 503.1l-0.4 0.7M379.4 493.3l0.0 0.3M295.4 495.8l0.0 0.2M283.4 492.0l-0.2 0.4M375.8 487.8l-0.1 0.0M297.7 524.3l1.0 0.2M374.1 533.3l-0.1 0.6M347.7 510.9l-0.0 0.3M349.6 549.3l0.3 0.6M362.1 499.3l0.1 0.5M341.8 547.8l0.5 0.3M281.9 520.5l0.4 0.3M386.6 535.4l-0.3 0.6M280.2 520.9l-1.0 0.7M282.0 527.2l0.2 1.0M332.0 529.6l-0.6 0.3M342.8 492.5l0.8 0.5M359.9 495.4l-0.9 0.4M324.8 514.8l0.3 1.1M381.4 559.1l1.1 0.4M323.0 505.9l0.1 0.2M396.0 499.4l0.3 0.9M375.8 522.1l0.9 0.4M370.2 502.3l-0.4 0.1M307.5 546.5l0.0 0.0M318.5 543.2l0.1 0.9M321.4 494.5l-0.4 0.6M388.0 515.2l0.2 1.0M319.3 504.2l-0.8 0.5M302.3 552.6l0.5 0.8M362.5 535.8l1.0 0.0M319.5 553.1l-0.8 0.4M366.4 552.9l-1.0 0.3M318.3 561.3l0.9 0.6M345.1 564.1l0.2 0.0M385.1 551.9l-0.0 0.0M391.5 507.8l0.0 0.6M338.0 544.4l-0.3 0.2M327.5 559.3l-0.6 0.7M330.3 513.1l-0.2 0.1M363.5 523.9l-0.7 0.9M329.2 522.8l0.3 0.2M305.4 536.6l-0.6 0.7M395.5 528.3l-0.1 0.6M320.6 510.0l-0.0 0.5M345.1 540.2l-0.3 1.1M317.7 535.1l0.1 0.5M308.1 566.5l-0.5 0.3M321.2 509.8l0.3 0.6M329.5 539.6l-0.0 0.1M283.1 538.6l-0.0 0.3M368.2 511.3l0.3 0.2M356.8 543.2l-0.7 0.1M285.5 539.9l-0.1 0.2M327.3 504.5l-0.4 0.1M339.9 537.4l0.1 0.3M357.9 510.1l-0.3 0.6M395.8 513.3l0.3 1.0M381.8 489.0l0.7 0.6M362.3 497.9l-0.9 0.4M321.4 552.8l-0.2 0.0M326.8 509.6l-0.5 0.4M344.0 508.6l0.9 0.1M393.7 522.4l-0.1 0.4M390.5 502.0l-0.5 0.7M316.5 494.3l0.9 0.4M282.3 558.0l-0.0 1.1M372.7 540.5l0.1 0.0M291.4 540.7l-0.5 0.1M323.3 556.3l-0.0 0.0M393.6 518.7l0.5 0.4M369.5 544.5l1.1 0.3M286.5 552.9l-0.1 0.2M373.9 547.8l-0.5 0.1M382.3 503.5l0.0 0.0M296.9 496.9l0.0 0.1M389.1 537.3l0.3 0.4M388.4 519.6l-0.5 0.1M381.6 489.7l0.3 0.1M290.2 558.0l-0.5 0.4M293.3 527.7l-0.0 0.0M397.5 563.7l0.9 0.1M354.3 484.3l0.1 0.0M360.8 548.3l0.3 0.2M307.1 530.8l-0.0 0.0M307.4 536.4l0.4 0.1M313.4 551.1l-0.3 0.7M329.6 487.8l0.3 0.1M299.0 486.7l-0.9 0.5M312.4 513.0l-0.1 0.3M335.7 538.8l0.7 0.3M357.5 484.3l-0.6 0.3M360.4 566.0l0.1 0.2M386.9 533.2l-0.2 0.4M364.5 506.7l-0.4 0.9M309.2 547.4l-0.0 0.1M342.6 491.8l-0.4 0.3M331.6 536.4l-1.0 0.1M361.6 513.3l-0.1 0.2M363.8 538.8l0.6 0.1M320.5 512.7l-0.5 0.3M345.5 493.9l-0.1 0.1M320.3 506.4l1.1 0.3M326.3 561.8l-0.8 0.8M332.4 515.5l0.2 0.2M388.7 538.1l0.1 0.9M368.0 507.6l0.0 0.1M329.9 493.7l0.2 0.3M306.0 505.0l-0.5 0.2M345.0 510.8l-0.1 0.2M361.0 484.1l-0.2 0.2M331.1 560.4l-0.5 0.4M303.4 538.7l0.1 0.0M342.6 561.1l-0.1 0.1M384.5 558.5l-0.6 0.7M331.3 558.0l0.1 0.1M378.4 546.0l-0.3 0.5M347.5 519.0l-0.1 0.4M323.7 497.7l-0.2 0.1M350.1 516.8l0.0 0.0M368.5 495.2l-0.0 0.2M349.1 523.8l-0.4 0.7M393.2 512.2l-0.3 0.6M284.3 509.9l0.1 0.0M378.1 493.3l0.5 0.4M326.6 506.4l0.7 0.9M334.8 494.7l0.8 0.4M372.2 561.5l-0.7 0.7M377.0 534.9l-0.3 0.3M323.9 554.6l0.4 1.0M374.5 542.4l0.2 0.3M361.7 522.9l0.9 0.4M302.7 498.4l0.5 0.1M304.2 556.1l0.0 0.6M282.2 554.9l0.7 0.0M373.6 555.2l-1.0 0.3M297.5 567.5l-0.5 0.9M311.1 520.3l0.1 1.2M363.9 522.6l0.4 0.3M314.3 525.1l0.2 0.7M329.3 525.8l-0.9 0.5M349.6 547.7l0.3 0.2M296.5 548.3l-0.1 0.2M295.6 548.8l1.1 0.5M369.6 564.9l-0.9 0.7M392.3 497.4l-0.1 0.8M298.0 506.8l-0.6 0.1M391.0 557.5l0.4 0.3M359.0 552.2l0.8 0.3M283.0 510.1l-0.0 0.2M358.5 518.3l0.6 1.0M294.1 490.9l-0.0 1.0M283.2 499.2l0.2 1.0M359.0 503.9l-0.5 0.4M292.8 514.3l0.0 0.3M315.9 512.5l0.1 0.0M295.7 520.0l-0.9 0.2M312.0 495.0l-0.2 0.1M371.0 514.6l-0.2 0.0M375.9 533.6l-0.1 1.1M337.3 531.4l0.9 0.1M292.5 559.6l-0.1 0.3M361.5 536.5l-1.0 0.6M293.9 503.3l-0.5 0.1M304.7 528.0l0.9 0.2M334.2 554.8l0.1 0.1M380.6 521.5l0.5 0.1M326.2 543.2l-0.4 0.0M341.1 523.5l0.0 0.0M388.7 566.3l0.2 0.1M318.1 486.9l0.2 0.3M316.5 489.9l-0.6 0.7M324.3 552.4l-0.5 0.6M347.3 535.7l0.1 0.6M352.3 555.1l-0.1 0.5M300.4 543.2l-0.1 0.0M300.1 546.6l0.3 0.5M390.8 538.3l-0.3 0.0M291.3 545.7l-0.4 0.3M361.1 501.7l-1.0 0.2M392.5 530.4l0.2 0.4M390.3 546.6l0.4 0.2M389.2 561.9l-0.3 0.1M365.0 492.9l0.5 0.0M303.1 518.4l-0.6 0.9M391.1 509.7l0.1 0.3M380.4 550.6l-0.2 0.3M313.0 547.9l-0.2 0.0M304.8 547.9l1.0 0.5M340.7 494.5l0.6 0.5M354.7 554.1l-0.7 0.3M366.8 557.0l0.0 1.1M394.4 500.6l-0.2 0.6M330.3 525.8l0.2 0.7M369.6 543.3l0.5 0.4M371.9 507.2l0.3 0.2M381.2 500.5l-0.0 0.0M335.9 529.4l0.2 0.5M336.3 561.4l-0.3 0.1M368.7 497.0l-0.7 0.7M286.2 546.5l-0.4 0.0M344.0 502.6l-0.7 0.5M330.9 503.4l-0.8 0.4M364.6 489.2l0.4 0.5M359.6 534.4l0.2 0.3M330.2 507.9l0.5 0.4M359.0 559.3l-0.8 0.8M303.1 537.0l0.3 0.2M356.9 495.2l-0.9 0.5M283.7 500.8l-0.1 1.2M298.1 532.5l-0.5 0.5M367.2 492.9l-0.1 0.1M281.2 552.2l0.4 1.0M355.2 527.0l0.0 0.5M331.9 513.0l0.0 0.1M309.9 554.2l0.5 0.9M397.1 519.0l0.1 0.1M383.9 543.8l-0.5 0.9M398.4 498.6l-0.2 0.5M342.9 522.4l-0.1 0.5M315.2 518.9l0.5 0.3M307.6 561.9l0.5 1.0M364.6 503.8l-0.0 0.1M292.4 487.7l0.3 1.1M385.8 530.2l-0.4 0.9M324.1 538.5l0.2 0.2M328.1 508.9l0.4 0.0M352.0 550.8l0.2 0.7M283.1 561.7l-0.1 0.1M329.2 509.1l-0.1 0.1M395.3 501.3l-0.1 0.5M393.6 487.9l-0.2 0.3M298.0 543.3l0.1 0.1M321.5 567.4l-0.1 0.8M355.2 550.0l-1.1 0.1M320.8 563.7l0.7 0.3M285.6 557.6l-0.3 0.2M342.9 488.5l-0.2 0.1M298.8 513.8l0.2 0.3M288.4 537.9l-0.1 0.4M387.5 549.0l0.4 1.0M331.9 519.0l0.6 0.1M289.9 561.2l0.2 0.1M359.1 529.6l0.1 0.3M328.8 488.3l0.0 0.0M308.4 500.7l-0.3 1.1M363.8 552.9l-0.6 0.5M281.0 514.8l-0.2 0.4M331.6 497.0l0.1 0.1M324.2 510.7l-0.3 0.4M281.4 563.7l-1.1 0.5M345.0 548.4l0.8 0.6M362.7 494.1l0.9 0.2M356.3 513.4l-0.0 0.3M343.8 484.7l-0.2 0.0M331.9 533.8l-0.3 0.3M369.5 514.2l-0.0 0.7M386.4 498.9l0.0 0.1M372.7 500.5l0.9 0.4M363.8 511.6l0.3 0.5M284.6 508.1l0.5 0.7M353.8 523.1l-0.4 0.6M373.6 509.2l0.1 0.9M339.2 484.5l-0.2 0.1M348.1 507.9l-0.3 0.3M300.5 521.6l0.4 0.0M306.0 523.7l-0.1 0.7M306.6 528.7l0.0 0.0M395.4 526.5l-0.1 0.4M301.2 562.4l-0.0 0.0M315.9 519.5l0.0 0.6M304.3 528.1l-0.9 0.4M316.2 503.6l-0.2 0.1M288.9 555.5l-0.0 1.2M348.2 484.7l-0.6 0.6M290.2 522.8l0.1 0.1M317.1 517.5l0.6 0.9M282.5 523.3l0.3 0.1M362.7 535.0l-0.6 0.6M382.9 542.0l-0.9 0.7M384.4 539.2l-0.5 0.2M366.7 561.8l1.1 0.1M386.0 491.2l-0.7 0.3M342.1 567.8l0.1 0.2M394.5 533.1l-1.0 0.4M337.4 563.9l-0.7 1.0M307.4 543.0l-0.3 0.1M325.7 493.5l-0.3 0.1M384.8 506.3l-0.5 0.9M392.1 513.9l-0.7 0.7M374.0 506.5l-0.5 0.5M319.8 544.8l-0.3 0.4M370.6 533.4l0.3 0.5M296.1 505.8l0.9 0.6M342.9 510.9l0.3 0.4M296.2 509.9l-1.1 0.2M392.9 543.0l-0.2 0.4M300.1 538.8l-1.1 0.2M365.9 555.9l-0.2 1.0M322.0 553.3l0.8 0.6M374.4 537.4l0.7 0.7M359.2 540.3l1.0 0.1M381.6 495.7l-0.3 0.1M343.6 562.1l0.0 0.1M383.8 556.3l-0.1 0.1M376.0 551.9l0.4 0.0M358.8 554.0l-0.3 0.5M349.3 507.9l-0.6 0.3M318.2 508.8l-0.0 0.2M333.6 513.4l0.0 0.0M392.5 516.0l-0.6 1.0M343.5 538.3l0.3 0.5M357.7 516.1l-0.3 0.1M342.7 492.5l-0.2 1.0M302.9 551.2l-0.1 0.0M341.5 496.1l-0.1 0.2M397.8 559.3l0.7 0.6M320.3 556.4l-0.4 0.2M350.1 510.5l0.4 0.1M322.1 533.6l0.0 1.1M298.4 545.6l0.3 0.2M324.5 524.9l-0.8 0.6M327.6 548.6l1.0 0.1M385.2 537.8l-1.1 0.3M349.3 488.6l0.5 0.3M351.6 502.5l0.0 0.8M342.4 552.5l-0.4 0.0M333.4 532.5l-0.9 0.2M394.8 516.4l-0.0 0.1M310.7 539.2l0.4 0.1M340.6 518.4l0.3 0.2M286.8 507.6l-0.7 0.3M339.1 511.1l0.5 0.9M380.7 503.7l0.5 1.1M308.0 487.2l-0.7 0.1M367.3 525.1l0.1 0.6M357.4 550.7l-0.4 0.9M299.2 501.1l0.5 0.1M308.9 529.8l-0.1 0.0M378.2 564.3l-0.6 0.4M306.8 527.7l0.1 0.1M301.5 558.4l-0.5 0.2M316.6 525.1l-0.0 0.0M303.6 502.4l0.0 0.1M352.6 558.1l0.3 0.5M309.3 487.6l0.3 0.9M328.7 557.4l0.1 0.2M373.8 498.0l-0.0 0.9M342.6 508.2l0.0 0.2M344.8 527.2l0.6 0.1M365.3 514.2l0.6 0.6M374.6 528.8l0.1 0.4M281.1 515.6l-0.4 0.3M332.9 535.0l-0.1 1.0M295.1 490.5l-0.2 0.4M329.6 562.6l-0.2 0.0M318.1 506.2l-0.2 0.6M290.4 550.8l0.3 0.2M281.4 554.8l0.9 0.5M360.3 521.3l-0.4 0.1M367.8 537.8l-0.5 0.0M310.7 503.1l0.2 1.1M366.8 513.2l-0.8 0.6M317.2 505.0l-0.5 0.3M360.3 540.9l-0.0 0.0M358.8 504.3l-0.2 0.8M361.7 555.5l-1.0 0.3M310.2 546.6l-0.5 0.5M348.3 491.8l0.1 0.0M383.3 560.4l0.1 0.7M362.7 491.2l0.1 0.0M366.0 511.6l-0.1 0.6M341.6 552.4l-0.5 0.5M385.3 492.9l0.0 0.0M344.6 522.3l0.2 0.1M386.0 531.1l-0.1 0.5M338.6 490.2l-0.2 0.8M387.1 492.4l0.2 0.1M303.2 517.0l-0.2 0.8M339.3 561.7l0.7 0.3M393.2 552.8l0.0 0.1M312.3 491.6l-0.5 0.4M323.7 543.7l-0.3 0.1M284.0 542.6l0.5 0.5M306.7 528.2l0.3 1.0M386.4 499.3l0.4 0.0M288.9 509.4l0.0 0.3M390.2 550.9l-0.0 0.1M287.3 552.8l0.1 0.3M305.0 502.2l-0.3 0.1M357.4 504.1l-0.6 0.2M392.5 544.9l-0.0 0.1M289.0 554.6l0.3 1.0M372.7 540.2l0.4 0.1M312.0 527.9l0.1 0.4M296.4 507.5l0.7 0.8M383.7 522.6l-0.5 0.9M377.2 501.7l1.1 0.2M313.2 517.0l0.5 0.7M282.0 518.1l-0.3 0.2M376.8 547.5l0.6 0.8M361.4 519.3l0.4 0.2M338.6 538.9l-0.4 0.5M342.9 535.5l0.6 0.1M331.2 556.7l0.1 0.3M357.8 551.4l0.3 0.8M367.9 548.6l-0.3 0.4M389.0 535.1l0.2 0.4M384.9 498.5l0.3 0.6M366.7 486.6l0.6 0.2M357.0 550.0l1.0 0.6M281.9 500.3l-0.2 0.4M361.0 521.9l0.3 0.4M292.9 544.0l-0.3 1.1M376.8 552.7l-0.0 0.0M306.9 507.1l-0.3 0.0M339.4 508.1l1.1 0.0M315.7 499.0l-0.6 0.7M384.6 522.1l-0.5 0.4M309.0 535.6l-0.8 0.7M374.3 489.8l0.0 0.1M314.3 484.6l0.2 0.1M383.0 506.6l-0.4 0.7M289.2 502.2l0.1 0.3M339.0 486.9l-0.9 0.8M317.6 542.0l-0.5 0.2M393.7 529.6l-0.1 0.2M326.6 526.3l-0.1 0.4M395.6 490.6l0.5 1.0M335.6 517.7l0.7 0.6M289.0 533.9l-0.1 0.3M305.3 551.6l-0.5 0.1M291.9 545.2l-0.0 0.0M324.1 525.2l0.5 0.2M321.8 536.6l0.3 0.5M344.7 487.4l0.2 0.2M322.5 507.2l-0.2 0.2M393.4 490.6l-0.5 0.6M316.4 507.8l0.4 0.9M388.0 496.7l0.5 0.5M386.6 537.3l0.2 0.3M344.5 514.2l0.2 0.2M352.4 493.4l0.8 0.2M298.8 507.0l-0.0 0.6M319.0 527.4l0.1 0.1M301.9 542.9l-0.3 0.1M364.9 516.7l-0.2 0.3M306.3 521.7l1.1 0.3M327.5 514.5l0.2 0.1M288.5 530.1l-0.3 0.1M375.7 546.8l0.2 0.1M383.6 546.7l0.1 0.1M354.7 520.0l-0.3 0.2M312.4 526.1l-0.2 0.1M383.2 533.5l-0.4 0.0M371.8 564.9l-0.5 0.0M372.2 554.1l0.2 1.1M373.0 509.6l0.4 0.2M348.2 509.8l-0.2 0.7M358.8 498.0l0.6 0.1M284.5 501.1l0.3 0.8M296.0 527.4l0.9 0.6M390.9 565.0l0.8 0.1M387.2 513.3l-0.5 0.4M350.4 543.7l-0.6 0.4M367.8 484.9l-0.6 0.2M362.3 528.6l0.3 0.1M299.8 557.1l0.3 0.2M309.3 534.9l0.7 0.7M333.8 525.8l0.0 0.0M284.7 565.3l0.5 1.0M316.9 491.8l0.2 0.7M315.5 494.6l-0.5 0.4M358.9 545.3l-0.1 0.2M301.9 520.7l0.7 0.6M378.4 545.8l0.9 0.4M306.1 485.9l-0.6 0.8M365.0 534.1l-0.3 0.1M333.9 493.4l-0.3 0.5M324.6 487.8l0.9 0.1M353.5 556.4l-0.2 0.2M391.9 533.2l0.4 0.9M355.2 530.5l-0.9 0.7M303.5 564.7l0.2 0.9M376.7 512.7l-0.1 0.6M327.9 509.2l-0.4 0.1M388.8 536.6l0.4 0.2M338.5 496.8l-0.5 0.8M331.8 501.8l-0.2 0.6M398.4 504.8l-0.1 0.8M307.9 507.1l-0.6 0.3M312.7 514.2l1.0 0.1M371.4 510.5l-0.3 0.1M363.5 561.0l-0.3 0.2M396.5 496.1l-0.2 0.3M334.3 556.0l0.6 0.5M307.9 522.0l-0.3 0.7M285.8 550.2l0.6 0.8M316.7 559.5l-0.3 0.4M321.1 499.5l-0.8 0.2M389.2 512.1l0.1 1.2M350.8 554.3l0.2 0.6M308.7 516.8l-0.7 0.2M364.1 511.2l-0.1 0.0M396.1 498.5l0.5 0.0M367.9 504.3l-0.1 0.1M372.9 501.8l0.9 0.1M321.5 541.8l0.0 0.5M297.4 519.5l1.1 0.1M320.6 551.6l-0.2 0.7M395.4 521.3l0.0 0.4M398.6 495.8l-0.1 0.2M385.7 487.3l-0.9 0.1M389.3 542.5l-1.1 0.3M323.8 498.6l1.0 0.3M331.1 566.1l0.1 0.7M324.0 543.6l1.1 0.1M344.0 511.4l0.3 0.1M338.7 556.0l0.1 0.7M390.9 515.5l-0.0 0.2M309.1 539.3l0.0 0.0M395.7 554.8l-0.1 0.6M395.3 567.2l-0.4 0.7M390.2 503.4l-0.1 0.4M335.0 518.2l0.0 0.0M283.4 557.8l-0.2 0.2M353.1 496.6l-0.1 0.8M294.4 561.9l-0.1 0.0M366.5 552.7l0.3 0.3M386.2 542.7l-0.1 0.3M375.1 492.8l0.1 0.2M310.2 551.1l-0.0 0.0M385.0 536.7l0.9 0.1M343.8 502.1l1.1 0.3M380.8 545.6l0.5 0.3M393.6 559.9l0.6 0.2M345.8 529.2l0.3 0.2M309.3 564.8l0.9 0.7M295.3 486.8l-0.1 0.8M383.3 561.0l-0.2 0.2M352.5 553.2l-0.1 1.1M328.7 537.7l0.1 0.1M362.5 485.9l0.0 0.7M296.9 529.0l-0.1 0.1M314.2 529.5l-0.0 0.0M391.9 517.2l-1.0 0.0M322.8 505.5l-0.0 0.2M352.6 554.8l-0.2 0.6M305.3 556.0l-0.1 0.1M359.0 540.6l0.3 0.4M350.5 543.8l0.3 0.7M291.0 529.4l-0.2 0.3M286.7 542.5l0.1 0.0M393.0 526.2l0.7 0.1M331.7 487.9l-0.0 0.7M292.9 484.5l0.6 0.0M326.4 556.7l0.2 0.1M377.6 503.4l0.2 0.3M323.6 536.0l0.2 0.4M381.1 566.0l-0.3 0.3M366.7 540.5l0.0 0.0M340.9 543.4l-0.2 0.0M356.4 555.6l0.3 0.8M297.0 526.0l-0.5 0.4M286.8 565.9l-1.0 0.5M349.9 520.8l0.0 0.2M280.2 548.2l-0.4 0.5M379.8 511.8l-0.8 0.7M346.4 528.4l0.2 0.5M288.2 533.4l0.4 0.8M367.1 541.7l0.1 0.7M385.0 485.8l0.8 0.5M298.7 529.0l-0.3 0.4M312.5 528.6l-0.6 0.3M365.2 561.6l-0.3 0.9M293.5 532.0l0.0 0.1M314.0 527.4l-1.2 0.1M354.0 552.0l0.3 0.1M360.5 531.3l0.6 0.5M391.9 521.4l-0.8 0.3M360.1 529.6l0.0 0.1M376.4 541.0l-0.5 0.1M334.4 490.6l-0.7 0.5M347.9 528.5l-0.9 0.7M290.4 506.3l-0.5 0.8M296.2 518.4l0.7 0.0M299.6 526.0l1.1 0.3M368.9 514.5l-0.3 0.4M398.6 523.5l0.1 0.2M328.7 502.5l0.6 0.6M382.0 540.9l0.9 0.2M327.6 566.0l-0.4 1.0M316.9 517.0l1.2 0.1M327.7 553.4l-0.6 0.2M378.9 509.6l0.1 0.5M319.5 498.9l0.2 0.0M304.4 554.1l-0.0 0.1M317.4 563.9l-0.4 0.1M357.3 505.0l-0.1 0.7M286.3 503.5l-0.0 0.4M324.6 525.7l0.2 0.4M348.1 536.5l-0.1 0.1M322.2 537.7l-0.8 0.3M351.2 535.3l-0.1 0.4M319.7 502.6l-0.4 0.0M341.2 489.7l0.7 0.8M307.8 527.1l-0.3 1.0M367.4 524.3l0.2 0.5M378.3 486.5l-0.1 0.1M375.2 513.6l0.7 0.6M382.1 511.4l-0.9 0.7M348.2 559.1l-0.2 0.0M334.3 535.6l0.7 0.2M389.5 529.4l0.6 0.9M329.9 491.0l-0.0 0.2M338.5 524.6l0.1 0.2M335.4 499.3l0.3 1.0M302.0 528.5l0.1 0.1M346.6 527.6l-0.0 0.1M395.5 562.8l0.8 0.5M290.0 537.8l-0.2 0.0M338.4 494.6l-0.6 0.7M298.5 567.4l0.2 0.2M310.2 534.2l-0.8 0.6M393.8 538.5l0.1 0.1M391.0 534.8l-0.7 0.6M395.2 499.4l0.1 0.7M339.6 505.0l-0.0 0.1M378.4 491.4l-0.2 0.1M341.7 501.5l-0.4 1.0M328.9 561.0l-0.6 0.9M301.1 545.4l0.1 0.2M386.8 508.3l-0.4 0.2M348.6 533.4l0.2 1.0M307.2 567.4l-0.5 0.3M384.3 497.3l-0.4 0.3M312.9 555.1l0.5 0.4M351.4 488.1l-0.1 0.2M386.8 515.5l0.3 0.4M396.6 516.1l0.3 0.4M313.9 564.7l0.8 0.4M386.4 540.2l0.7 0.8M373.1 541.2l-0.7 0.9M301.1 486.3l1.1 0.2M381.4 567.7l0.0 0.1M363.6 493.7l0.2 0.1M383.7 561.3l-0.3 0.4M304.2 500.2l0.3 0.1M345.8 489.9l0.0 0.4M289.4 517.9l-0.6 0.6M315.9 498.4l0.5 0.1M322.8 500.1l0.4 0.6M339.6 552.4l-0.3 0.0M316.1 513.5l0.4 0.5M326.2 508.5l-0.7 0.8M344.7 532.9l-0.4 0.1M381.5 526.6l-0.3 0.2M350.6 522.0l0.4 1.1M320.2 495.0l0.1 0.7M295.2 528.0l-0.1 0.6M345.8 567.1l0.4 0.1M294.2 486.8l-0.0 0.0M302.2 501.8l-0.1 0.0M326.3 528.3l0.4 0.7M361.2 550.8l0.1 0.1M282.0 539.9l-0.4 0.6M328.6 488.0l0.3 0.1M371.1 533.2l-0.8 0.4M391.4 496.8l-0.3 0.6M294.4 526.0l-0.7 0.9M372.7 489.5l-0.8 0.4M338.3 522.2l0.2 0.4M336.0 533.6l0.7 0.4M348.3 525.2l0.5 1.1M315.5 528.7l-0.1 0.3M330.4 488.1l0.1 0.7M371.9 488.3l0.4 0.4M387.9 562.2l-0.6 0.1M353.5 495.3l0.4 0.5M307.6 527.0l-0.6 0.2M371.2 505.6l-0.0 0.4M329.2 485.7l0.4 0.7M349.2 543.9l0.9 0.7M296.3 498.6l0.1 1.0M381.9 533.0l0.2 1.2M293.2 524.5l-0.1 0.1M376.7 562.0l0.9 0.6M297.1 485.3l-0.5 0.8M343.0 489.9l-0.4 0.8M321.2 548.2l0.1 0.8M362.0 538.4l-0.5 0.8M369.4 536.9l0.9 0.8M395.7 505.8l-0.4 0.4M314.5 513.6l-0.5 0.4M398.9 501.9l-0.3 0.6M292.7 489.6l0.7 0.3M308.0 561.4l1.0 0.2M361.1 502.2l-0.6 0.9M327.5 551.9l-0.7 0.1M377.7 490.3l-0.4 0.2M319.3 530.6l0.1 0.0M321.5 520.3l-1.1 0.1M295.1 543.5l0.1 0.0M386.5 543.6l-0.2 0.7M292.5 524.0l0.8 0.1M288.7 528.9l0.1 0.0M330.8 565.7l0.1 0.4M323.5 502.4l-0.2 0.0M378.9 550.7l-0.4 0.5M397.9 488.4l-0.7 0.4M395.6 488.5l-0.1 0.1M343.7 552.7l0.4 0.9M388.9 503.2l-0.8 0.5M331.1 567.3l-0.1 0.4M290.5 485.1l0.0 0.1M306.7 556.7l0.1 0.1M390.9 560.0l-0.4 0.7M312.2 530.9l0.1 0.2M293.1 544.9l0.5 0.8" stroke="#A2B6DC" stroke-width="2.0" stroke-linecap="round" fill="none" stroke-opacity="0.9"/>
<path d="M356.2 540.6l0.5 0.3M288.4 545.7l0.4 0.0M288.5 552.6l0.6 0.6M391.0 557.5l0.4 0.0M311.4 543.3l-0.3 0.2M386.3 562.0l0.9 0.1M381.9 495.3l0.4 0.1M314.4 497.1l-0.6 0.0M392.2 506.3l0.6 0.8M318.8 513.2l-0.2 0.4M383.7 496.0l-0.2 0.6M361.5 552.4l0.7 0.5M308.0 492.0l0.2 0.6M293.9 537.2l-0.6 0.0M378.9 551.9l-0.1 0.1M388.2 565.3l0.2 0.1M317.5 498.7l0.7 0.2M383.2 532.2l0.5 0.5M356.7 484.3l0.4 0.5M374.1 524.2l-1.0 0.0M338.7 511.2l0.7 1.0M370.0 496.4l0.6 0.2M393.4 486.3l-0.1 0.0M333.5 551.3l-0.1 0.7M344.4 540.5l-0.1 0.2M307.6 525.2l-0.3 0.2M283.6 484.9l-1.0 0.7M311.7 513.5l0.2 0.1M374.4 543.6l-0.2 0.2M395.3 528.6l-0.2 0.2M282.1 547.8l-1.0 0.0M319.9 565.2l-0.0 0.3M387.2 535.5l0.2 0.3M319.1 562.7l-0.3 0.8M287.4 534.7l1.1 0.3M338.5 485.5l0.3 1.0M396.5 486.8l0.0 0.4M364.7 514.5l0.3 0.9M344.5 516.4l0.2 1.2M295.5 491.8l-0.1 0.0M320.7 545.2l-0.1 0.8M383.7 532.6l0.3 0.2M377.3 556.0l0.9 0.8M286.5 516.6l-0.0 0.0M361.0 487.2l0.2 0.9M302.9 538.9l0.3 0.2M289.1 551.8l-0.5 0.3M346.3 486.4l0.4 0.6M381.1 518.2l-0.7 0.7M388.3 518.0l-0.0 0.7M360.1 553.6l0.7 0.7M372.3 554.3l0.3 1.0M326.6 497.5l-0.0 0.0M321.1 522.6l0.1 0.9M288.6 511.3l-0.2 0.6M313.8 513.8l0.0 0.3M336.0 493.7l-0.8 0.1M280.5 554.8l0.3 0.0M343.4 484.2l0.0 0.0M361.2 566.1l0.1 0.1M323.4 516.0l-0.9 0.1M313.7 536.9l-0.2 0.2M393.7 545.4l-0.2 0.8M282.7 558.8l0.4 0.3M365.9 549.9l0.4 1.1M287.5 517.0l-0.4 0.5M333.5 489.9l0.0 0.1M395.2 491.3l-0.4 0.5M327.0 546.1l-0.3 0.4M394.9 555.7l-0.5 0.2M320.6 496.4l0.3 0.0M326.1 541.5l-0.6 1.0M392.5 556.9l0.7 0.1M323.7 566.4l-0.3 0.1M360.8 545.2l-0.8 0.7M294.7 552.5l-0.6 0.4M351.2 492.2l0.2 0.2M390.7 505.7l-0.6 0.3M329.8 558.3l0.2 0.4M293.1 530.4l-0.3 0.1M318.0 516.4l-0.1 0.0M322.0 529.5l-0.6 0.2M359.4 540.2l0.0 0.2M293.5 564.7l0.9 0.4M328.8 518.7l0.5 0.7M373.1 540.2l0.8 0.3M352.4 514.5l-0.2 1.2M301.8 553.7l0.2 0.1M336.3 510.8l0.0 0.0M291.3 493.3l-0.6 0.4M299.5 534.1l-0.2 0.0M363.0 491.1l0.4 0.6M388.7 521.7l0.8 0.1M360.0 541.1l0.2 0.3M298.6 493.3l-0.9 0.4M352.5 511.1l-0.2 0.1M293.7 563.5l-0.3 0.1M291.8 510.9l-0.7 0.3M343.0 520.9l-0.5 0.1M292.9 533.2l0.6 1.0M359.2 523.0l0.2 0.1M395.8 493.4l0.1 0.1M392.7 544.4l0.7 0.5M369.6 508.8l0.3 0.6M316.2 548.6l0.5 0.4M296.4 543.5l0.2 0.1M348.9 504.5l-0.0 0.2M361.0 526.4l-0.6 0.2M374.1 550.1l0.3 0.2M340.9 545.9l0.0 0.0M375.2 562.1l-0.1 0.5M318.9 515.5l0.4 0.4M320.3 535.8l0.4 1.0M306.1 567.0l-1.2 0.1M388.8 567.7l-0.0 1.0M301.5 552.7l-0.8 0.4M361.4 549.2l-0.9 0.6M355.9 541.4l0.3 0.8M350.0 530.1l0.6 0.0M377.8 567.4l-0.3 0.0M396.0 518.8l-0.2 0.8M287.9 495.3l0.7 0.1M393.1 537.5l-0.6 0.8M314.7 493.6l-0.1 0.2M322.0 523.1l-0.5 1.0M343.9 551.3l-1.0 0.3M293.2 485.3l0.0 0.0M299.4 553.0l-0.2 0.5M292.8 566.7l0.2 1.1M360.1 519.2l-0.0 0.0M329.8 511.3l0.0 0.1M326.5 486.3l-0.8 0.2M394.2 531.4l-0.0 0.0M317.4 523.2l-0.8 0.3M320.2 566.7l0.6 0.1M315.1 517.6l-0.8 0.4M392.8 532.0l-0.3 1.0M319.4 565.8l-0.1 0.3M349.9 504.0l0.9 0.6M389.5 527.1l-0.0 0.2M390.1 554.8l0.7 0.3M310.5 494.2l1.0 0.1M296.3 490.0l0.9 0.1M370.9 528.8l-0.7 0.2M298.9 547.0l-0.9 0.1M360.3 494.4l-0.9 0.7M331.3 515.4l0.2 0.8M369.6 501.3l-1.0 0.7M309.7 512.3l0.0 0.0M358.7 546.3l0.4 0.2M294.5 536.5l0.0 0.0M339.8 561.2l0.2 0.1M359.6 491.4l0.1 0.0M385.0 517.6l0.9 0.1M346.0 544.0l0.1 0.4M281.0 520.4l0.0 0.9M333.5 523.6l0.1 0.3M331.2 538.9l0.7 0.6M296.1 554.0l0.2 0.1M346.5 487.2l0.0 0.9M302.4 547.0l-0.0 0.5M324.3 524.5l-0.5 0.6M280.4 519.7l-0.5 0.9M372.9 559.6l-0.0 0.0M364.5 558.1l0.0 0.1M338.8 497.0l0.9 0.5M394.9 553.4l-1.0 0.4M330.3 515.7l0.8 0.6M318.2 518.2l-0.0 0.0M353.7 492.1l0.7 0.7M347.6 522.0l-0.5 0.1M363.0 496.8l0.8 0.2M326.1 492.3l0.1 0.2M342.4 567.5l-0.5 0.2M301.7 487.5l0.2 0.8M316.9 507.8l-0.5 0.2M371.6 486.1l-0.0 0.0M372.4 520.7l-0.5 1.1M324.1 495.1l1.1 0.2M355.1 524.1l0.0 0.0M296.1 524.6l0.1 0.8M285.3 563.1l-0.0 0.0M393.6 515.8l-0.3 0.5M376.4 565.4l0.2 1.1M288.4 522.2l-0.1 0.9M372.4 508.7l0.9 0.1M281.4 493.7l0.6 0.4M329.6 531.8l0.0 0.1M387.1 566.3l-0.6 0.2M292.3 561.8l0.1 0.2M286.3 517.9l0.2 0.4M375.3 518.5l-0.2 0.6M288.9 523.4l0.7 0.8M399.0 525.2l0.3 1.0M340.6 509.7l-1.0 0.3M390.7 561.6l0.8 0.1M349.9 512.1l-0.6 0.7M297.5 511.5l0.6 0.7M282.1 512.2l0.5 0.1M395.6 565.9l-0.6 0.5M328.8 486.6l0.1 0.0M341.3 559.3l-0.0 0.2M353.2 560.3l0.3 0.0M335.5 523.9l-0.5 0.5M300.8 540.6l-0.0 0.0M325.7 511.3l-0.0 0.9M342.7 501.3l-0.0 0.1M349.4 531.2l-0.5 0.8M290.2 510.6l-0.4 1.0M323.4 549.8l0.5 0.5M386.7 545.5l-0.3 0.0M391.6 497.5l0.1 0.1M318.2 543.0l0.4 0.2M395.0 533.9l-0.1 0.0M286.0 553.3l0.5 0.8M362.5 512.1l-0.5 0.4M344.1 500.9l0.9 0.2M397.9 552.1l0.0 0.1M388.9 529.5l-0.2 0.2M391.2 531.3l0.3 0.6M393.2 498.2l-0.5 0.7M338.5 547.3l0.3 0.2M317.3 514.8l-0.4 0.1M303.0 494.0l0.5 0.1M296.8 524.0l0.8 0.8M285.6 526.6l-0.1 0.1M316.5 531.4l-0.6 0.2M296.5 486.9l-0.3 0.1M362.6 547.1l0.5 0.3M297.7 535.8l0.3 0.0M292.0 524.0l-0.3 0.3M318.5 529.6l1.1 0.3M375.5 546.0l-0.0 0.2M390.5 499.2l-0.0 0.6M332.7 545.2l0.3 1.0M304.9 528.2l-0.2 0.1M347.4 543.0l0.6 0.2M352.3 500.4l-0.8 0.1M300.6 535.5l0.0 0.0M375.3 564.9l-0.6 0.7M299.0 564.7l0.3 0.0M366.6 516.7l1.1 0.1M391.9 521.6l-0.6 1.0M315.3 524.3l-1.1 0.2M373.0 528.6l-0.9 0.1M394.9 507.8l0.1 0.5M385.1 525.0l-0.0 1.1M382.0 551.0l0.0 0.2M291.9 514.1l-0.4 0.2M363.6 534.0l-0.0 0.0M367.7 508.4l0.4 0.1M284.4 535.7l0.7 0.2M298.2 484.7l-0.5 0.3M381.2 533.3l0.0 0.0M361.0 509.0l-0.4 0.4M315.1 563.7l0.1 0.6M284.2 529.5l0.7 0.4M333.6 563.4l1.1 0.3M313.5 564.5l0.3 0.5M375.2 557.6l0.1 0.1M341.3 507.2l-0.6 1.0M304.3 528.1l-0.1 0.4M301.6 508.6l0.0 1.1M282.1 499.9l0.7 0.2M300.9 495.3l-0.6 0.3M281.7 501.9l-0.5 0.4M318.5 510.6l0.8 0.7M323.5 555.6l-0.2 0.3M332.0 494.1l0.0 0.0M381.6 526.1l-0.2 0.5M317.8 516.3l0.3 0.4M335.5 556.2l-0.5 0.2M393.4 488.9l-0.0 0.0M380.6 511.6l0.8 0.1M358.5 513.7l-0.9 0.7M280.3 509.0l0.2 0.3M347.2 555.2l0.4 1.0M396.3 496.2l-0.1 0.0M310.4 567.7l0.4 0.3M398.4 505.2l0.4 0.4M391.7 539.4l-1.1 0.1M392.5 528.2l0.1 0.2M313.6 496.8l-0.0 0.0M377.0 551.5l-0.1 0.0M284.3 493.9l-0.6 0.5M294.6 553.4l-0.1 0.3M325.8 566.3l0.5 0.1M347.1 542.0l0.6 0.5M339.9 540.1l-0.4 0.1M370.7 501.6l0.9 0.2M306.4 553.8l-0.7 0.4M301.7 545.8l0.2 0.9M318.3 492.0l0.4 0.1M390.1 556.1l0.1 0.2M341.8 491.2l-0.1 0.1M317.9 528.5l-0.0 0.0M369.9 539.7l0.2 0.0M298.3 522.9l0.4 0.0M285.0 486.2l-0.1 0.3M314.2 518.7l-0.1 0.2M352.1 537.5l-0.8 0.5M349.6 488.4l-0.3 0.6M323.0 491.3l-0.5 0.2M327.2 559.4l0.2 0.4M339.0 535.6l0.9 0.1M364.7 561.4l1.1 0.4M314.3 555.0l-0.2 0.3M340.8 531.8l-0.3 1.1M349.6 534.5l0.7 0.7M290.8 523.7l-0.2 0.0M393.1 538.2l0.1 0.1M384.6 539.2l0.5 0.1M382.1 495.7l-0.4 1.0M306.0 502.8l-0.2 0.8M285.1 494.8l-0.0 0.1M385.1 530.4l-0.2 0.4M350.8 516.8l-0.0 0.1M324.8 489.3l0.5 0.1M367.3 519.0l0.4 0.3M309.9 553.5l-0.8 0.1M307.4 519.3l0.9 0.5M296.8 541.2l-0.1 0.1M296.6 531.2l0.3 0.3M371.2 528.7l-0.1 0.2M280.2 506.7l0.0 0.3M297.7 553.2l-0.1 1.0M321.9 539.5l-0.0 0.1M394.4 563.2l-0.3 0.5M353.6 551.6l0.0 0.4M302.8 508.5l0.7 0.2M285.8 549.6l0.2 1.0M368.7 493.8l0.4 1.1M307.5 535.8l-0.0 0.8M329.8 549.7l0.2 0.2M357.5 530.3l0.2 1.1M329.6 508.8l0.4 0.1M389.3 487.0l0.1 0.2M284.8 527.1l0.9 0.1M345.2 537.1l-0.5 1.1M386.6 515.2l0.4 0.8M329.0 535.8l0.1 0.3M369.1 523.4l0.3 0.6M352.6 553.6l-0.2 1.0M371.3 549.0l-0.5 0.1M311.9 546.8l-0.0 0.1M360.3 549.6l-0.1 0.9M304.8 523.9l0.7 0.9M390.7 531.2l0.5 0.7M342.5 544.4l-0.8 0.6M393.0 525.7l-0.3 0.2M392.4 492.7l1.0 0.3M368.0 488.5l-0.2 0.2M302.1 510.3l-0.0 0.3M314.5 560.8l0.2 0.1M339.0 538.0l-0.6 0.1M292.7 494.0l0.9 0.3M364.0 505.2l-0.4 0.0M297.3 523.2l-0.1 0.1M338.5 518.3l0.0 0.1M282.1 519.9l0.3 0.8M321.3 528.5l0.5 0.0M361.7 511.2l0.1 0.0M308.9 501.6l1.0 0.6M317.9 558.3l0.2 0.9M369.0 537.5l-0.0 0.1M355.4 534.8l-0.4 0.4M353.1 507.3l0.6 0.3M315.4 502.8l-0.1 0.0M396.9 513.8l-0.6 0.9M380.7 554.8l-0.0 0.0M343.9 489.1l0.5 0.6M287.0 552.8l0.4 0.1M360.7 533.7l0.0 0.0M302.8 539.0l0.9 0.2M375.5 548.0l0.8 0.2M394.1 544.8l-0.1 0.1M304.1 517.7l0.1 0.3M368.4 513.0l0.3 0.1M369.9 485.3l0.5 0.6M309.0 524.2l-0.2 0.0M340.0 535.9l0.2 0.1M329.1 484.3l0.2 0.9M394.6 559.4l0.7 0.2M341.8 494.5l-0.6 0.1M332.9 512.0l-0.7 0.1M321.1 542.3l-0.2 0.5M291.4 547.9l0.4 0.1M305.7 543.7l-0.6 0.4M292.2 545.6l-0.1 0.3M297.9 512.1l-0.8 0.0M339.9 546.8l0.0 0.1M384.1 496.3l0.5 0.7M330.5 518.8l-0.7 0.6M354.7 559.4l-0.8 0.5M336.8 515.9l-0.9 0.7M284.5 546.5l1.0 0.1M386.0 550.1l-0.0 0.1M359.1 507.8l0.2 0.1M311.5 528.7l0.2 0.5M297.8 529.0l0.1 0.7M342.4 485.5l-0.4 0.1M312.0 553.6l-0.5 0.3M298.0 539.4l0.1 0.8M356.9 510.2l-0.9 0.3M333.6 487.4l0.0 0.0M360.5 537.0l-0.5 0.1M387.1 500.2l-0.8 0.2M313.2 562.6l0.2 0.6M313.6 558.0l0.4 0.1M369.4 559.7l-0.7 0.7M280.3 529.6l-0.4 1.0M364.0 504.7l0.0 0.1M326.9 485.6l1.1 0.1M299.5 490.3l-0.1 0.6M316.0 516.1l-0.6 0.2M383.8 530.8l0.6 0.3M359.6 485.9l-0.2 0.3M395.6 531.1l0.8 0.6M321.4 495.1l0.5 0.3M388.2 516.9l-0.3 0.3M349.9 551.4l0.1 0.1M358.1 489.9l1.0 0.2M372.9 547.3l0.3 0.8M349.5 484.1l-0.2 0.3M313.4 492.0l0.1 0.0M283.1 509.8l-0.1 0.1M389.9 555.0l0.6 0.2M282.0 494.7l0.5 1.0M352.7 541.7l0.0 0.5M357.0 492.7l0.9 0.3M354.0 499.3l0.2 0.1M319.4 549.6l-0.9 0.0M373.4 544.6l-0.1 1.1M367.9 527.0l0.0 0.4M359.5 553.8l0.5 0.1M329.6 566.7l0.0 0.1M283.8 513.6l-0.0 0.0M393.0 554.3l0.1 0.9M292.4 503.4l-0.1 0.9M375.3 513.9l0.4 0.1M291.0 508.4l0.0 0.4M329.3 554.6l-0.1 0.1M377.3 557.8l0.7 0.4M376.8 566.4l0.1 0.1M392.6 556.7l0.1 0.0M348.5 564.6l-0.2 0.7M336.1 554.9l-0.5 0.2M336.1 567.1l0.0 0.0M330.1 503.0l0.5 0.1M324.5 552.1l-0.5 0.5M351.6 550.3l0.3 0.1M284.5 532.9l0.7 0.9M327.7 517.8l-0.5 0.4M337.7 556.3l1.1 0.1M373.8 546.3l-0.0 0.1M303.0 543.7l-0.2 0.5M390.2 548.4l0.6 0.2M355.7 486.9l0.3 0.2M368.9 561.4l0.3 0.5M392.0 559.1l0.8 0.4M360.4 487.3l-0.0 0.2M298.8 518.3l0.3 0.5M312.2 527.7l0.0 0.5M360.9 558.3l-0.9 0.6M319.8 513.5l-0.6 0.5M297.6 509.5l-0.6 0.4M359.2 509.9l-0.3 0.7M313.7 532.0l0.4 1.1M332.7 500.0l0.6 0.6M305.2 543.5l0.2 0.7M396.3 533.9l0.1 0.1M355.4 560.4l0.1 0.1M342.9 554.3l-0.4 0.2M392.1 566.3l-0.9 0.1M348.5 533.9l0.5 0.3M310.1 484.2l0.9 0.7M339.6 505.7l0.6 0.2M317.1 484.2l0.3 1.1M306.2 553.5l0.2 0.4M341.0 510.9l-0.8 0.7M329.9 532.9l-0.1 1.1M302.5 490.3l0.3 0.3M345.1 516.8l-0.2 1.0M307.9 504.7l0.8 0.0M317.9 544.0l-0.2 0.1M391.8 566.4l-0.0 0.0M346.7 519.4l-0.6 0.6M397.5 485.7l-0.4 1.0M318.0 549.4l0.0 0.8M369.0 539.8l1.0 0.2M286.3 533.6l-0.1 1.0M314.0 526.3l-0.1 0.7M352.9 565.9l0.2 1.0M284.6 549.3l0.8 0.5M361.6 545.5l-0.8 0.8M381.2 489.5l-0.2 0.4M319.7 560.6l0.3 1.1M360.2 534.3l-0.4 0.3M394.0 515.0l0.3 1.1M368.4 535.0l0.4 0.2M366.1 512.9l0.0 0.0M376.6 509.5l-0.7 0.2M351.0 544.0l-0.7 0.0M346.6 542.9l-0.5 0.3M318.4 498.6l0.1 0.4M345.0 535.3l0.1 0.8M398.9 500.3l-0.5 0.8M368.5 512.5l0.4 0.9M305.9 539.7l-0.0 0.0M351.6 508.2l-0.1 0.5M397.4 522.5l-0.2 0.3M349.8 563.4l0.2 0.7M360.7 493.0l-0.2 1.0M331.4 552.1l-1.0 0.6M319.1 516.6l-0.5 0.4M384.0 491.9l-0.2 0.1M344.0 557.5l0.4 0.3M324.5 520.5l-0.6 0.2M382.8 540.2l0.1 0.2M315.6 548.5l0.9 0.1M284.0 485.4l0.7 0.2M376.2 488.3l0.5 0.9M373.6 524.0l0.0 0.1M350.6 535.7l0.0 0.3M326.8 535.4l0.0 0.0M365.2 550.7l0.1 0.5M323.4 536.0l0.5 0.1M389.8 510.4l-0.1 0.0M393.1 512.1l0.2 0.3M333.1 539.0l0.8 0.2M334.4 490.8l-0.8 0.2M388.9 509.1l0.2 0.0M386.2 487.4l0.0 0.0M393.8 547.8l0.1 0.1M377.2 548.1l-0.4 0.6M285.2 565.7l-0.2 0.3M337.7 550.8l0.3 0.4M318.4 539.1l-0.6 0.4M343.8 539.6l-0.1 0.2M390.5 548.3l0.1 0.7M334.1 539.6l-0.0 0.5M384.6 491.1l-1.1 0.2M313.2 509.3l-0.7 0.5M307.0 543.0l-0.1 0.0M341.5 494.3l-0.0 0.0M297.3 495.7l-0.1 0.7M389.3 524.0l-0.7 0.9M389.6 528.7l0.2 0.1M303.7 523.0l0.6 0.2M384.3 558.2l-0.5 0.3M339.2 490.2l0.0 0.0M383.0 546.5l0.1 0.1M349.4 501.7l-0.3 0.4M378.0 557.7l0.6 0.1M368.8 512.8l0.5 0.2M398.8 516.5l-0.0 0.2M341.1 558.7l-0.5 0.7M330.2 538.5l0.1 0.4M335.9 484.9l-0.1 0.4M366.9 546.0l-0.0 0.1M285.0 552.8l-0.3 0.4M371.5 557.0l0.5 0.2M291.4 484.7l1.1 0.3M378.9 486.2l-0.1 0.1M283.1 502.2l0.2 0.1M365.2 522.8l0.1 0.0M326.0 527.5l-0.7 0.4M366.1 539.3l-0.1 0.3M388.0 516.4l-0.6 0.6M296.0 487.7l-0.0 0.4M312.1 547.1l0.5 0.3M292.9 553.4l-0.3 0.1M341.5 525.0l0.2 0.7M394.2 521.2l-0.2 0.3M357.2 567.5l0.1 0.0M390.6 513.2l-0.0 0.3M349.6 502.8l-0.9 0.3M393.0 504.6l0.0 0.1M341.4 496.9l0.2 0.1M303.6 544.3l0.4 0.6M348.4 558.2l-0.0 0.3M300.1 563.0l0.7 0.6M301.9 498.7l-1.0 0.2M366.8 507.8l-0.1 0.2M281.0 562.4l-0.6 0.3M282.4 517.3l-0.8 0.2M290.4 517.6l-0.3 0.4M311.0 561.9l0.2 0.5M351.3 554.8l-0.3 0.9M369.4 509.7l-0.8 0.2M305.0 529.8l0.1 0.1M367.3 506.1l0.1 0.4M383.5 501.1l-0.6 0.1M312.9 553.4l0.2 0.6M353.3 484.1l0.1 0.7M376.2 538.5l-0.2 0.3M341.9 549.6l0.2 0.1M397.8 532.3l-0.8 0.8M397.2 504.0l-0.5 0.0M280.4 543.0l0.6 0.1M387.8 491.4l-0.6 0.3M390.8 560.7l0.6 0.6M299.9 526.0l0.4 0.1M384.0 567.4l0.2 0.0M286.9 540.5l0.2 0.7M398.6 507.4l-0.0 0.3M302.6 550.0l-0.4 0.1M324.2 544.1l-0.4 1.1M362.3 523.1l-0.6 0.1M362.0 484.2l0.0 1.0M309.9 534.6l-0.6 0.5M338.9 500.8l-0.0 0.0M355.4 552.6l-0.1 0.2M394.6 541.1l0.0 0.0M361.2 558.1l-0.2 0.0M326.7 567.5l-0.5 0.1M300.0 542.2l-0.7 0.6M397.8 562.5l0.3 0.5M289.7 518.6l0.4 0.9M288.4 518.7l0.4 0.7M349.1 558.3l-0.8 0.7M391.6 533.9l0.6 0.5M355.9 500.9l-0.0 0.0M312.3 537.6l-0.2 0.6M394.3 485.4l0.6 0.8M324.4 518.6l-1.0 0.1M384.1 529.6l0.0 0.1M330.4 485.1l0.0 0.0M346.7 515.4l-1.0 0.4M324.3 532.1l-0.3 0.0M312.5 497.7l-0.0 0.3M383.4 558.3l-0.1 0.4M379.1 563.0l0.0 0.0M304.3 530.0l-0.0 1.0M323.1 527.2l-0.6 0.4M335.0 515.1l0.0 0.0M386.9 566.8l0.3 0.7M294.2 496.9l0.4 0.4M364.5 533.3l-0.4 0.2M299.6 556.0l0.8 0.2M287.6 551.9l-0.2 0.9M357.2 564.3l0.7 0.6M393.3 536.2l-0.0 0.3M334.1 559.4l-0.8 0.1M352.1 498.5l-0.7 0.3M388.6 549.1l0.2 0.3M295.6 494.5l0.1 0.2M315.2 505.8l-0.2 1.1M342.5 565.9l-0.1 0.6M297.5 529.6l0.5 0.0M287.5 525.0l1.0 0.4M333.7 511.6l0.5 0.2M345.6 496.4l0.9 0.5M355.4 556.8l-0.1 0.5M318.8 526.3l-0.6 0.1M306.8 555.8l0.9 0.6M387.0 529.2l0.8 0.0M344.3 559.5l-0.8 0.3M362.9 563.6l-0.7 0.0M309.9 554.2l0.4 0.4M300.2 548.2l-0.2 0.2M295.8 529.9l0.8 0.8M356.0 518.9l0.7 0.5M295.3 532.8l0.4 1.1M397.4 537.1l0.7 0.6M323.7 516.1l0.1 0.1M317.8 515.8l0.9 0.1M386.3 496.9l-0.6 0.7M377.3 515.8l-0.8 0.5M333.4 522.1l0.1 0.1M349.7 534.0l0.9 0.2M286.9 508.4l0.7 0.4M368.9 557.8l-0.2 0.1M343.5 499.0l0.8 0.8M375.3 549.6l0.7 0.8M348.8 554.9l-0.0 0.1M387.4 537.4l0.0 0.5M392.4 510.1l-1.0 0.0M299.7 539.5l-0.4 0.2M307.2 535.4l-0.0 0.1M357.3 515.0l-0.9 0.3M353.4 551.9l-0.5 1.1M295.3 549.2l0.9 0.2M366.3 502.2l-0.6 0.7M339.4 497.1l-0.9 0.6M317.3 553.5l0.5 0.8M363.8 498.3l-0.5 0.8M397.1 554.4l0.3 0.4M381.6 566.9l-0.1 0.4M338.4 544.1l-0.0 0.1M318.0 527.7l-0.6 0.3M304.6 524.4l-0.0 0.0M332.1 507.0l-0.2 0.5M281.4 565.0l0.1 0.5M313.1 507.0l-0.9 0.2M327.2 558.5l-0.5 0.8M385.5 542.2l-0.3 0.4M329.0 546.3l0.0 0.2M386.6 528.1l0.2 0.8M313.5 522.4l-0.3 0.6M358.9 512.1l-1.0 0.0M361.5 489.2l0.7 0.9M355.8 539.8l-0.6 0.0M307.7 566.4l-0.3 0.6M393.7 548.4l-0.6 0.5M296.4 497.6l0.1 0.2M356.7 559.2l-0.3 0.3M325.3 537.9l-0.5 0.6M320.7 562.3l-0.3 0.4M356.4 505.8l-0.2 0.5M352.5 524.2l-0.1 1.0M386.1 562.6l1.0 0.0M282.5 557.8l0.0 0.5M371.5 553.4l0.7 1.0M324.7 530.1l0.6 0.3M315.2 500.7l-0.0 0.1M365.0 538.3l0.5 0.9M386.3 540.8l-0.6 0.2M315.0 510.3l0.1 1.0M306.8 525.7l0.5 0.3M326.9 508.7l0.1 0.0M288.6 485.2l0.6 0.6M320.4 493.5l-0.6 0.1M299.4 551.6l0.6 0.7M365.4 526.8l0.6 0.1M332.0 497.0l0.2 0.2M317.7 530.6l-0.3 0.4M330.8 519.1l-0.3 0.1M371.1 548.0l-0.6 0.8M313.7 541.7l-1.1 0.0M330.2 533.3l-0.3 0.7M287.4 490.0l0.5 0.0M365.4 504.6l-0.4 0.3M293.4 529.6l0.7 0.8M302.7 551.0l-0.8 0.1M300.6 558.4l0.8 0.7M392.2 487.8l0.0 0.6M281.1 560.0l-0.4 0.3M308.8 562.4l-0.1 0.1M345.6 495.7l-0.7 0.2M381.1 511.4l0.3 0.7M360.1 509.7l-0.2 0.2M314.8 543.2l0.7 0.5M305.1 485.1l1.1 0.6M394.9 498.2l-0.8 0.6M386.9 494.3l-0.2 0.5M311.7 515.9l-0.8 0.2M322.5 529.6l-0.4 0.9M324.6 510.1l0.4 0.0M305.9 525.5l0.2 0.2M358.4 531.2l-0.1 0.0M316.9 499.8l0.1 0.0M286.0 527.7l-0.2 0.7M358.2 530.6l-0.6 0.1M283.1 542.1l0.3 0.5M376.9 535.2l0.6 0.8M324.7 552.7l0.1 0.1M378.3 541.5l0.2 0.5M371.0 537.9l0.6 0.9M363.1 566.0l0.6 0.2M331.8 527.3l-0.3 0.3M353.9 540.8l-0.1 0.9M299.5 512.2l-0.2 0.5M280.7 505.6l-0.1 0.4M296.7 488.6l-0.2 0.5M350.0 511.5l-0.1 0.1M303.4 518.0l0.1 0.1M306.1 519.7l0.6 0.5M329.7 537.0l0.4 0.3M313.3 521.2l-0.2 0.8M397.8 490.1l-0.2 0.8M280.7 486.1l-0.1 0.6M359.3 490.0l0.2 0.3M396.5 555.3l-0.4 0.9M374.6 508.1l-0.9 0.8M363.2 564.7l-0.0 0.1M394.3 529.8l0.3 0.3M288.7 542.7l-0.7 0.0M380.1 554.0l0.8 0.2M308.0 509.9l-0.2 0.9M298.8 542.2l0.1 0.2M355.2 497.9l-0.5 0.0M377.6 528.3l-0.1 0.4M298.3 495.2l0.2 0.2M369.3 514.0l0.3 0.1M338.7 513.0l0.0 0.0M280.2 510.3l-0.3 0.2M394.6 528.4l-0.6 0.8M365.7 496.9l0.2 0.4M398.0 519.2l0.2 0.2M351.0 485.8l-0.1 0.1M345.0 485.7l0.1 0.1M325.7 561.0l-0.3 0.2M316.9 489.4l-0.5 0.1M382.4 490.2l-0.0 0.3M375.1 533.0l0.1 0.3M337.8 556.7l-0.0 0.1M286.3 501.9l0.3 0.9M305.7 564.7l-0.3 0.5M381.4 490.8l-0.4 0.5M370.0 539.8l0.5 0.9M310.0 529.9l0.2 0.1M389.1 496.2l0.6 0.4M350.5 546.9l0.4 0.1M350.6 553.7l-0.5 0.1M375.2 514.7l1.0 0.4M302.2 531.9l-0.8 0.8M374.6 545.3l-0.6 0.7M283.2 562.3l0.0 0.1M334.5 512.9l-0.4 0.6M352.5 565.4l-0.7 0.3M311.0 566.5l0.1 0.0M349.2 566.5l0.8 0.2M354.1 553.0l-0.1 0.5M307.6 561.0l-0.5 0.9M375.4 530.4l1.0 0.2M329.3 508.2l-0.7 0.2M367.4 541.0l-0.6 0.4M296.5 498.3l0.0 0.2M348.0 493.5l-0.9 0.4M312.9 542.3l0.1 0.2M374.2 520.7l0.2 0.2M340.2 555.5l-0.0 0.2M375.9 551.7l-0.4 0.6M347.3 493.1l-0.0 0.6M306.1 507.2l0.6 0.6M369.9 565.9l0.0 0.9M323.7 564.0l0.7 0.8M358.1 496.9l0.0 0.0M284.2 561.6l0.5 0.2M380.0 498.2l0.0 0.5M398.2 515.2l0.3 0.1M385.1 504.1l-0.8 0.8M318.1 508.7l-0.0 0.5M360.4 553.0l0.2 0.6M378.3 489.8l0.1 0.1M325.4 489.5l0.4 0.0M327.5 539.1l-0.2 1.0M374.9 520.8l1.0 0.2M311.9 521.6l-0.9 0.4M288.4 535.1l0.1 0.7M393.9 522.5l0.1 0.7M280.9 561.8l-0.1 0.3M326.9 515.3l0.8 0.6M383.7 538.9l0.0 0.2M324.5 513.6l-0.1 0.8M293.9 515.6l0.1 0.0M321.5 508.5l-0.9 0.2M362.7 524.4l-0.1 1.0M374.9 512.3l0.3 0.5M397.8 499.5l-0.0 0.1M349.6 506.9l0.1 0.3M362.6 511.5l-0.1 0.1M376.6 521.4l0.2 0.2M301.5 502.9l-0.1 1.0M297.4 523.9l-0.1 1.1M370.2 484.5l-0.4 0.2M379.9 531.0l0.1 0.1M333.8 552.3l1.0 0.0M280.8 559.1l0.1 0.4M313.1 516.9l-0.3 0.0M378.4 558.3l-0.7 0.2M383.7 493.7l-0.8 0.8M304.3 536.0l0.4 0.4M341.4 491.6l-0.2 0.8M307.9 486.1l-0.7 0.0M307.3 540.0l0.1 0.0M301.9 561.6l-0.3 0.4M289.5 537.8l0.1 0.0M386.9 546.2l0.9 0.7M394.6 529.9l-0.6 0.4M321.0 565.6l0.8 0.9M381.2 567.0l0.5 0.8M302.3 499.0l0.2 0.3M380.4 537.3l-0.2 0.1M373.3 505.0l-0.3 0.7M313.0 555.5l-0.6 0.3M328.6 517.9l0.0 0.6M324.2 500.8l0.0 0.3M307.2 498.5l-0.1 0.2M360.9 515.6l0.7 0.5M318.6 531.2l-0.5 0.1M375.5 502.6l0.6 0.5M386.8 537.1l-0.9 0.4M360.9 536.1l0.2 0.3M307.8 551.4l0.1 0.2M300.6 557.5l0.9 0.1M315.6 508.5l-0.0 0.1M331.0 537.5l0.0 0.2M284.5 550.7l1.0 0.6M285.6 520.9l-0.2 1.1M331.0 558.2l0.4 1.1M330.6 534.5l-1.0 0.4M282.8 514.5l0.1 0.3M309.4 554.8l0.1 0.2M312.0 504.9l0.6 0.1M351.1 546.9l-0.1 0.1M378.9 501.9l-0.0 0.1M377.2 552.2l0.1 0.2M302.9 503.0l0.5 0.5M371.5 558.3l0.4 0.7M393.0 538.9l-0.1 0.6M281.8 508.4l0.1 1.1M381.5 523.8l0.7 0.4M297.4 529.1l-0.5 0.7M389.8 559.0l0.5 0.2M363.7 519.3l-0.0 0.1M282.8 498.3l0.4 0.3M368.8 534.9l0.2 0.5M321.1 558.5l-0.5 0.5M332.2 533.6l0.1 0.8M313.9 540.7l0.7 0.9M362.5 537.8l-0.1 0.3M306.0 538.0l0.8 0.1M322.5 512.6l-0.7 0.3M294.9 548.0l-0.1 0.0M322.0 490.9l0.1 0.5M321.3 546.1l-0.1 0.5M375.3 535.6l0.5 0.5M362.5 494.5l-0.2 0.6M363.1 561.9l-1.0 0.2M299.0 544.4l-0.0 0.5M325.1 515.7l0.8 0.6M349.6 565.5l-1.1 0.1M291.8 528.5l-0.5 0.1M370.7 505.2l0.2 0.7M311.4 497.7l0.9 0.5M381.5 509.9l0.2 0.6M308.4 487.4l-1.0 0.1M353.1 494.0l0.0 1.2M353.8 544.0l-0.1 0.2M396.8 563.6l0.3 1.0M281.2 504.4l-0.3 0.2M362.8 560.3l-0.0 1.0M384.1 522.5l0.2 0.4M393.9 484.6l0.2 0.1M324.5 519.9l0.6 0.6M285.9 513.2l0.6 0.3M321.5 508.2l-0.3 0.3M361.3 542.8l-0.7 0.4M341.0 512.3l0.1 0.0M292.3 517.4l-0.8 0.2M391.1 503.8l0.3 0.6M385.2 497.5l0.1 0.0M321.2 526.3l-0.0 0.0M371.7 508.8l-0.0 0.0M335.2 497.0l-0.2 0.2M374.9 496.8l0.4 0.3M391.1 507.5l-0.1 1.0M304.5 512.1l-0.9 0.2M339.7 513.9l0.2 0.4M361.8 489.5l1.0 0.6M298.8 519.6l0.1 0.8M366.8 554.9l-0.8 0.1M363.2 511.7l1.0 0.1M324.9 539.0l-0.1 0.3M364.6 501.3l0.1 1.1M284.0 487.5l-0.0 0.1M344.3 495.5l-0.4 1.0M363.4 488.9l-0.2 0.0M390.0 554.7l-0.1 0.4M293.5 496.0l-0.8 0.3M329.3 556.7l-0.0 0.1M392.1 507.0l0.2 0.5M359.1 506.5l0.0 0.3M376.7 494.7l0.6 0.7M311.1 538.9l-0.2 0.6M333.2 545.6l0.1 0.0M340.6 547.9l-0.2 0.3M342.7 531.3l-0.0 0.0M341.9 521.3l-0.8 0.4M351.4 524.1l-0.1 0.3M332.1 497.9l0.1 0.7M385.1 520.2l0.6 0.1M323.5 530.5l-0.0 0.3M384.2 546.1l-0.5 0.2M290.9 532.5l-0.3 0.8M317.5 560.1l0.9 0.1M295.5 533.0l0.2 0.4M342.0 495.4l-0.1 0.3M397.9 523.0l-0.5 0.1M347.9 548.7l-0.7 0.9M391.0 566.3l0.2 0.3M357.2 544.5l0.3 0.1M328.3 547.3l-0.7 0.9M360.4 547.6l-0.7 0.8M362.0 508.3l0.2 0.7M323.8 523.1l-0.3 1.0M381.6 490.2l-0.3 0.0M375.3 540.9l0.9 0.5M323.9 523.5l0.9 0.6M314.9 562.9l-0.3 0.4M359.6 484.5l0.0 0.4M356.8 497.0l0.8 0.2M293.5 559.4l0.8 0.7M281.3 541.0l-0.6 0.4M302.7 552.8l0.2 0.4M317.4 544.1l-0.5 0.4M332.5 520.8l0.2 0.5M293.1 506.7l0.0 0.0M337.0 522.6l0.5 0.1M385.0 502.0l0.4 0.3M348.9 521.0l-0.5 0.9M397.3 558.1l0.7 0.5M392.1 555.5l0.4 0.4M350.5 540.8l-0.1 0.2M336.2 523.3l0.7 0.4M334.4 522.0l-0.6 0.2M353.2 550.6l-0.2 0.5M290.5 547.2l0.1 0.2M382.6 536.9l0.3 0.0M391.2 495.2l0.1 0.1M295.1 547.2l0.6 0.7M333.8 538.4l0.4 0.0M285.1 556.7l0.9 0.3M311.0 550.5l-0.1 0.1M371.9 501.2l-0.0 0.0M310.5 560.9l0.2 0.7M290.7 526.9l-0.0 0.0M355.2 519.0l-0.1 0.9M301.9 539.3l0.6 0.2M349.7 525.6l0.1 0.4M366.4 500.5l0.5 0.5M285.4 491.5l0.7 0.7M362.4 533.3l0.4 0.3M393.7 557.3l-0.5 0.4M366.3 486.0l-0.8 0.2M378.6 533.6l0.3 0.3M349.6 518.5l-0.2 0.5M322.6 534.9l-0.5 0.7M394.9 550.6l0.9 0.1M311.5 557.3l0.2 0.6M285.4 541.6l0.2 0.1M305.9 504.7l0.7 0.1" stroke="#6C8CC8" stroke-width="1.9" stroke-linecap="round" fill="none" stroke-opacity="0.9"/>
<path d="M374.1 508.3l0.5 0.5M321.1 493.6l0.5 0.5M394.9 486.5l0.8 0.4M336.2 505.3l-0.3 0.3M324.5 542.7l-0.9 0.2M351.0 553.7l0.1 0.4M325.9 511.1l0.1 0.1M280.4 538.2l-0.6 0.2M307.1 517.0l0.5 0.2M336.7 528.9l0.4 0.4M299.4 525.3l0.5 0.2M367.7 530.4l-0.4 0.8M380.3 487.8l0.7 0.0M335.2 489.8l0.5 0.5M323.5 519.8l0.0 0.0M314.7 546.7l0.1 0.0M362.4 526.4l0.4 0.9M335.2 562.2l0.2 0.0M385.7 487.7l0.3 0.7M324.6 494.6l0.0 0.5M287.2 543.7l0.7 0.4M332.3 537.2l0.3 0.5M349.1 555.8l-0.2 0.7M283.7 507.0l0.8 0.1M344.5 515.6l-0.2 0.1M331.8 537.8l0.1 0.9M378.1 561.5l0.0 0.2M384.1 486.2l-0.2 0.7M280.7 493.5l0.2 0.2M386.5 512.0l0.2 0.1M318.2 542.8l-0.2 0.6M357.5 532.6l-0.0 0.3M341.6 541.5l-0.1 0.5M393.5 543.0l-0.0 0.1M289.0 536.6l0.1 0.2M310.0 518.6l0.2 0.3M293.9 561.4l-0.3 0.9M363.0 546.5l-0.7 0.4M312.4 500.4l-0.0 0.5M333.6 501.8l-0.9 0.2M347.1 550.2l0.6 0.0M360.8 486.9l-0.9 0.2M313.0 567.6l-0.3 0.4M295.3 562.3l0.0 0.0M309.5 544.7l-0.4 0.7M378.1 536.5l0.0 0.2M374.5 510.9l0.1 0.1M297.2 534.9l-0.3 0.0M382.1 490.9l-0.3 0.4M307.1 530.7l-0.2 0.3M323.2 532.0l0.2 0.3M369.4 517.5l0.2 0.1M364.8 559.1l0.3 0.5M375.0 567.3l0.4 0.1M283.8 529.2l0.1 0.0M341.7 559.5l0.2 0.6M384.6 535.4l0.1 0.2M382.1 537.4l-0.1 0.1M373.8 541.7l0.1 0.2M390.9 486.0l0.1 0.1M304.6 567.6l-0.3 0.1M364.5 515.8l-0.0 0.1M286.0 496.6l0.3 0.5M322.2 513.8l0.8 0.0M311.8 562.8l-0.7 0.4M380.0 527.0l-0.6 0.6M306.7 548.8l-0.0 0.0M294.3 522.8l-0.6 0.3M285.9 562.8l-0.2 0.5M322.1 518.5l0.7 0.6M389.8 508.3l-0.5 0.2M286.6 533.4l-0.1 0.1M344.5 508.4l-0.7 0.1M322.3 527.3l0.4 0.4M340.3 495.9l0.6 0.3M389.5 533.0l-0.1 0.4M337.0 552.4l-0.1 0.6M315.2 498.6l0.3 0.1M289.1 534.6l0.0 0.0M322.4 561.4l-0.0 0.4M304.7 556.3l0.2 0.5M381.2 537.5l0.0 0.0M314.5 563.5l0.5 0.3M353.0 549.0l-0.2 0.2M308.0 495.8l0.2 0.4M300.8 539.8l-0.1 0.4M304.7 550.7l0.3 0.2M375.2 528.7l0.9 0.2M393.9 560.0l-0.1 0.8M306.1 488.9l-0.1 0.8M337.8 506.1l-0.2 0.3M303.6 531.8l0.2 0.4M380.3 531.8l-0.3 0.2M291.4 495.6l0.9 0.0M328.7 489.5l-0.0 0.0M317.3 536.5l0.0 0.7M288.9 487.7l0.2 0.4M336.2 493.4l0.6 0.6M349.6 520.5l-0.4 0.2M397.0 547.7l-0.7 0.5M373.5 515.0l0.5 0.5M295.0 547.1l0.6 0.1M305.7 533.9l-0.7 0.2M338.9 558.1l-0.0 0.2M385.8 538.4l0.4 0.1M286.9 564.8l0.1 0.0M342.9 541.4l0.7 0.4M323.5 513.0l0.2 0.4M305.0 542.8l-0.4 0.5M378.4 488.6l-0.4 0.3M390.6 545.9l0.9 0.3M371.2 488.0l-0.3 0.1M324.8 492.2l0.4 0.8M367.4 518.4l-0.2 0.1M321.6 548.1l-0.2 0.2M337.1 520.6l0.5 0.6M294.5 529.8l0.6 0.2M387.3 537.4l0.1 0.2M300.1 550.8l0.5 0.4M350.0 484.7l-0.0 0.1M311.0 560.3l-0.2 0.5M344.9 485.0l0.1 0.6M350.1 512.4l0.3 0.0M286.7 524.5l0.4 0.4M355.3 484.0l-0.1 0.2M351.4 531.7l-0.1 0.0M358.0 520.2l-0.4 0.6M336.3 495.8l-0.1 0.2M339.0 526.9l0.7 0.6M358.4 566.6l0.9 0.2M296.4 532.0l0.7 0.6M346.9 567.1l0.5 0.2M363.8 523.7l-0.2 0.1M381.6 514.0l0.3 0.2M310.2 559.2l0.9 0.1M360.1 531.9l0.1 0.0M304.3 552.3l-0.0 0.2M395.3 504.9l0.0 0.0M334.5 529.0l0.0 0.0M388.5 560.7l-0.6 0.5M334.8 506.0l0.8 0.2M313.2 506.0l-0.4 0.6M387.6 543.8l-0.6 0.2M394.8 525.4l0.0 0.9M365.2 524.5l0.9 0.2M308.6 517.5l0.0 0.0M342.8 518.3l0.7 0.3M285.3 542.5l-0.1 0.7M315.7 545.0l0.0 0.5M325.5 528.0l-0.0 0.1M297.1 518.3l-0.0 0.1M375.3 560.6l0.1 0.2M354.2 485.1l-0.5 0.0M374.9 565.2l-0.1 0.0M337.8 554.2l-0.5 0.4M358.2 514.2l-0.0 0.1M338.9 495.0l0.5 0.0M291.0 509.3l-1.0 0.2M295.6 554.9l-0.3 0.4M312.0 518.3l-0.6 0.6M314.6 563.6l0.5 0.0M301.6 521.7l-0.9 0.2M305.0 494.7l-0.2 0.2M358.5 546.3l0.1 0.9M299.3 520.9l1.0 0.2M310.5 534.7l0.8 0.0M347.9 564.3l0.0 0.0M381.8 515.7l0.5 0.4M342.9 562.9l-0.2 0.0M379.3 504.2l-0.1 0.2M375.1 562.5l0.0 0.2M305.3 529.4l0.6 0.4M299.2 494.3l0.2 0.0M313.3 550.3l-0.1 0.3M315.4 553.3l0.0 0.0M359.2 506.3l-0.5 0.6M334.3 531.3l0.9 0.0M295.6 522.5l-0.1 0.3M324.7 549.2l-0.5 0.5M373.6 533.7l-0.6 0.3M324.2 561.7l-0.1 0.1M373.8 490.7l-0.0 0.8M371.3 520.9l-0.2 0.2M343.2 541.0l-0.0 0.2M388.0 565.2l0.3 0.7M392.8 519.1l0.0 0.1M376.7 502.6l-0.3 0.3M357.9 495.3l-0.0 0.8M323.5 559.5l0.1 0.7M306.3 535.5l-0.5 0.5M393.4 547.6l0.6 0.1M359.0 560.6l-0.1 0.1M374.8 555.6l0.0 0.0M343.7 497.5l-0.7 0.0M389.1 551.1l0.9 0.2M394.7 514.4l-0.3 0.1M326.1 527.3l0.6 0.1M342.8 517.0l0.1 0.6M294.7 545.2l0.1 0.3M356.7 501.8l0.0 0.1M310.5 488.7l0.1 0.1M348.5 506.4l-0.0 0.0M309.2 497.2l0.3 0.1M372.1 484.6l-0.0 0.2M338.0 525.8l0.3 0.6M280.6 501.6l0.4 0.1M395.5 493.1l-0.1 0.3M343.1 493.1l0.1 0.9M381.1 497.7l0.7 0.3M319.0 501.4l0.3 0.6M395.7 510.5l-0.4 0.0M301.1 486.8l0.5 0.4M318.8 544.8l-0.2 0.6M328.6 539.1l0.1 0.5M334.0 548.0l0.5 0.1M375.2 560.6l-0.3 0.1M377.1 555.5l-0.2 0.5M365.5 562.9l-0.0 0.0M282.2 529.9l0.3 0.4M343.5 506.9l-0.6 0.3M379.1 562.1l0.0 0.1M387.9 512.8l0.3 0.2M360.2 522.1l0.2 0.4M392.5 557.2l0.9 0.0M363.5 487.1l-0.4 0.1M347.0 508.7l0.1 0.1M370.7 534.1l-0.1 0.3M377.4 529.0l0.2 0.3M280.5 546.6l0.1 0.2M297.4 492.8l-0.1 0.5M375.2 518.6l0.3 0.4M282.2 558.9l-0.2 0.7M393.3 509.0l0.5 0.3M356.6 490.3l0.1 0.1M310.2 539.2l-0.0 0.1M331.6 544.9l-0.2 0.4M356.2 515.8l0.1 0.0M291.4 517.6l-0.2 0.0M313.3 550.7l-0.5 0.1M320.2 556.2l0.1 0.1M311.6 487.9l-0.5 0.0M320.8 546.8l0.5 0.4M397.4 499.5l-0.8 0.3M334.6 512.1l-0.0 0.2M322.3 491.9l-0.5 0.6M343.0 550.4l0.3 0.7M390.6 491.5l-0.3 0.6M283.0 537.7l0.1 0.3M369.4 526.8l-0.0 0.1M324.9 549.2l0.4 0.4M329.1 567.5l-0.4 0.5M327.3 509.7l0.1 0.1M354.9 497.5l-0.3 0.1M393.7 527.2l0.1 0.1M341.4 561.8l-0.1 0.5M383.8 543.5l0.1 0.0M379.9 537.6l-0.2 0.7M301.0 526.4l-0.6 0.2M376.3 535.2l-0.6 0.8M327.1 562.6l-0.2 0.7M335.6 520.3l0.4 0.6M296.4 532.7l0.5 0.3M339.3 494.9l-0.5 0.5M361.9 511.4l0.2 0.4M316.3 497.5l0.5 0.1M304.9 562.5l-0.3 0.0M341.4 535.5l-0.2 0.3M351.2 516.9l-0.5 0.2M307.6 524.1l-0.5 0.1M360.8 496.7l-0.1 0.0M327.2 523.6l-0.1 0.0M384.2 527.5l0.5 0.1M382.7 506.4l-1.0 0.2M377.9 548.4l0.9 0.5M386.8 548.6l0.8 0.0M304.5 488.5l-0.2 0.7M282.8 547.2l-0.3 0.1M353.3 560.5l0.0 0.1M355.1 562.0l-0.1 0.2M365.2 528.4l0.4 0.3M297.9 532.3l0.1 0.1M373.4 513.5l0.2 0.0M391.3 499.8l-0.2 0.2M357.5 527.9l0.3 0.1M339.9 543.7l0.1 0.8M302.3 486.9l0.0 0.5M394.3 487.3l0.2 0.1M306.6 531.5l-0.2 0.1M357.1 542.8l-0.2 0.2M301.7 495.4l-0.2 0.0M338.1 532.4l-0.2 0.1M385.5 545.4l-0.0 0.1M362.8 488.8l-0.5 0.1M281.9 505.6l0.2 0.3M335.0 517.1l0.6 0.0M351.4 522.4l-0.5 0.0M344.0 538.6l-0.4 0.2M287.7 519.4l0.1 0.0M296.4 534.1l-0.4 0.2M284.0 549.1l0.4 0.8M393.9 557.2l0.4 0.5M367.6 536.7l-0.7 0.6M345.5 528.1l0.1 0.6M339.3 553.6l0.7 0.5M325.4 524.7l0.2 0.8M306.7 527.1l0.0 0.1M369.8 547.5l0.0 0.5M361.1 498.9l-0.1 0.1M398.3 528.2l-0.3 0.4M336.4 486.7l-0.0 0.1M354.2 546.2l-0.6 0.3M319.2 529.5l-0.7 0.4M314.6 529.4l-0.1 0.1M296.3 562.4l0.0 0.0M353.4 486.9l-0.2 0.1M332.9 512.5l0.4 0.0M286.1 565.0l-0.4 0.2M391.8 547.8l0.1 0.5M297.5 535.8l0.6 0.1M369.8 557.8l-0.1 0.1M359.4 537.8l0.3 0.2M291.1 538.8l-0.3 0.0M318.8 497.7l0.1 0.8M282.8 557.7l-0.0 0.2M349.8 566.6l-0.0 1.0M368.6 485.4l0.0 0.3M310.8 530.4l-0.3 0.7M301.0 501.6l-0.3 0.9M302.5 510.7l0.7 0.5M307.9 544.0l-0.4 0.0M335.1 518.2l0.3 0.4M347.4 493.8l-0.4 0.2M351.3 484.2l0.4 0.1M392.1 523.6l-0.3 0.3M329.8 503.8l0.5 0.2M329.8 525.7l-0.1 0.3M300.7 528.1l0.6 0.1M333.2 516.5l-0.9 0.4M296.6 550.3l0.7 0.5M365.2 524.4l0.2 0.3M360.3 556.9l0.4 0.2M360.7 502.7l0.3 0.0M359.7 539.1l0.1 0.1M359.7 535.3l0.5 0.0M342.3 524.6l-0.1 0.6M356.7 494.9l-0.1 0.1M362.4 565.7l0.6 0.5M316.7 530.4l-0.4 0.0M336.4 493.2l-0.1 0.1M362.9 536.8l0.0 0.1M374.6 549.3l-0.1 0.1M386.1 541.8l0.9 0.2M326.2 486.7l-0.0 0.0M317.9 526.0l0.0 0.0M396.8 497.9l0.5 0.1M311.1 508.2l0.6 0.4M363.3 517.0l0.3 0.4M333.1 488.8l-0.7 0.6M300.6 521.7l0.2 0.5M280.1 566.8l-0.2 0.6M337.7 502.2l0.0 0.0M393.0 547.6l-0.2 0.2M362.1 496.0l0.1 0.5M343.3 488.6l-0.0 0.1M354.2 524.1l0.4 0.4M322.7 504.2l0.0 0.1M305.4 550.0l-0.8 0.2M331.0 489.2l-0.5 0.8M379.8 513.9l-0.5 0.4M381.6 502.9l-0.4 0.3M376.3 541.9l-0.4 0.6M356.1 506.0l0.1 0.7M369.6 561.3l0.0 0.3M343.0 558.2l0.7 0.5" stroke="#4868B4" stroke-width="1.5" stroke-linecap="round" fill="none" stroke-opacity="0.9"/>
<path d="M392.6 545.0l-0.8 0.5M359.9 530.0l0.8 0.9M363.1 518.4l1.3 0.3M363.8 555.2l0.3 0.5M326.5 504.5l0.1 0.2M296.7 559.8l0.4 0.0M340.7 520.2l0.0 0.5M350.7 543.6l1.4 0.4M326.6 499.6l0.3 0.1M390.3 499.2l-0.3 0.2M388.0 489.7l-0.5 0.0M381.1 530.0l-1.2 0.2M308.7 540.8l-0.4 1.1M311.7 504.3l1.3 0.7M380.0 496.9l0.9 0.3M370.8 527.5l0.2 0.3M344.7 487.6l-0.4 0.4M389.9 558.9l0.8 0.1M317.3 550.7l-0.3 0.2M310.0 503.7l-0.1 0.7M395.0 538.2l0.7 0.9M283.4 534.6l1.2 0.4M312.1 512.5l0.6 1.3M333.9 514.6l-0.7 0.2M398.0 502.9l-0.2 1.3M379.5 553.8l0.0 0.8M367.3 498.1l-0.0 0.0M333.7 522.0l-1.1 0.0M351.7 557.9l0.7 0.2M286.1 499.3l-0.2 0.0" stroke="#B84890" stroke-width="1.5" stroke-linecap="round" fill="none" stroke-opacity="0.9"/>
<path d="M362.9 546.5l-0.4 0.8M352.8 565.3l0.1 0.4M396.8 562.8l0.6 0.4M309.7 565.8l-0.3 0.3M343.8 532.5l-0.0 0.5M302.1 503.4l-0.4 0.7M385.1 496.2l0.2 0.4M394.9 513.9l-0.9 0.1M336.2 538.4l0.4 0.5M372.8 561.1l-0.9 0.4M360.2 536.2l-0.5 0.9M326.7 494.1l-1.0 0.3M314.2 498.6l0.1 0.3M387.2 496.3l-0.1 0.0M350.7 491.0l0.6 0.2M349.5 548.4l1.0 0.4M356.7 539.9l-0.6 0.1M308.3 523.8l0.0 0.5M317.6 507.3l0.4 0.7M350.0 484.6l0.9 0.0M311.4 555.4l-0.5 0.8M350.3 545.9l0.8 0.2M380.4 505.7l-1.0 0.5M308.2 525.8l-0.1 0.2M325.5 555.8l-1.0 0.5" stroke="#6A2A7E" stroke-width="1.4" stroke-linecap="round" fill="none" stroke-opacity="0.9"/>
</g>
<clipPath id="c3"><rect x="163" y="569" width="116" height="80"/></clipPath>
<g clip-path="url(#c3)"><rect x="163" y="569" width="116" height="80" fill="#E0E4EE"/>
<path d="M170.4 643.6l0.4 0.2M280.9 616.9l-0.2 0.7M181.5 646.0l0.6 0.3M221.6 591.1l0.3 0.0M234.0 579.7l-0.1 0.1M183.9 599.7l0.0 0.1M253.1 568.1l-0.1 0.2M192.0 644.6l0.1 0.1M253.1 577.5l-0.3 0.5M245.1 575.0l-0.7 0.0M204.2 594.0l0.4 0.4M192.6 626.1l0.0 0.0M164.5 623.6l-0.1 0.8M227.5 580.2l0.2 0.5M259.5 637.2l-0.3 0.2M231.0 624.6l-0.5 0.5M191.3 638.8l-0.2 0.1M208.2 595.5l-0.0 0.6M265.0 598.0l0.0 0.3M222.2 616.4l-0.1 0.3M184.9 623.3l-0.5 0.7M182.1 601.3l0.6 0.1M178.0 637.1l0.2 0.8M199.0 640.6l-0.4 0.7M222.0 598.1l0.6 0.4M174.0 644.4l0.2 0.3M243.4 647.0l0.1 0.5M174.0 638.7l-0.5 0.6M182.3 613.4l0.0 0.1M230.0 576.2l-0.1 0.1M239.3 616.8l0.1 0.2M274.1 631.6l0.3 0.2M213.2 577.4l-0.2 0.3M207.9 581.3l0.6 0.6M226.0 573.1l0.0 0.0M250.9 629.8l0.8 0.3M181.2 619.8l-0.2 0.3M238.7 610.7l-0.2 0.9M251.5 599.7l-0.1 0.2M243.6 614.9l-0.1 0.5M223.2 635.8l-0.2 0.1M264.8 639.4l0.2 0.9M194.7 645.5l-0.8 0.5M234.3 609.5l0.1 0.3M248.5 600.9l1.0 0.2M277.7 590.1l-0.1 0.8M184.7 636.7l-0.2 0.6M165.6 610.1l0.4 0.2M224.9 583.7l0.3 0.3M228.2 580.7l0.2 0.0M254.0 621.9l-0.7 0.2M256.3 584.3l-0.2 0.3M256.2 587.7l-0.1 0.1M266.2 627.9l-0.4 0.3M268.8 570.4l-0.3 0.4M222.1 593.6l-0.5 0.0M254.4 601.0l-0.0 0.8M201.9 570.7l-0.9 0.3M203.8 581.6l0.4 0.4M198.9 603.2l0.0 0.4M180.7 637.5l-0.0 0.5M270.8 598.8l-0.0 0.8M223.7 646.7l0.9 0.4M172.1 571.0l-0.3 0.5M171.6 619.1l-0.3 0.5M201.4 572.8l0.4 0.2M238.4 612.3l0.1 0.2M231.5 636.4l0.8 0.4M174.1 622.1l0.2 0.9M186.6 635.5l-0.9 0.5M255.3 573.7l0.3 0.1M216.9 601.3l-0.7 0.1M223.5 640.1l0.9 0.1M224.9 639.1l-0.1 0.4M250.4 646.3l0.3 0.3M196.5 637.1l-0.1 0.4M170.0 644.0l-0.2 0.2M275.3 606.4l0.7 0.1M239.0 621.1l0.1 0.4M164.3 569.5l0.6 0.2M187.8 634.2l0.1 0.3M248.5 617.2l0.5 0.8M187.5 637.9l-0.1 0.2M171.2 594.6l-0.2 0.0M242.6 603.5l-0.2 0.0M174.5 578.6l-0.0 0.0M249.6 584.7l-0.1 0.1M255.1 649.3l0.1 0.1M261.6 573.3l-0.3 0.8M232.0 608.5l-0.4 0.6M258.7 604.3l0.1 0.1M233.6 571.3l-0.4 0.0M274.5 647.9l-0.9 0.3M258.1 591.6l-0.4 0.6M270.7 605.0l0.8 0.2M197.2 627.4l0.1 0.5M219.3 610.7l-0.3 0.2M168.1 584.2l-0.3 0.4M249.7 584.3l0.0 0.3M217.9 577.4l-0.2 0.5M255.3 638.3l0.1 0.4M202.0 644.8l0.3 0.2M183.3 621.9l-0.3 0.5M223.0 599.3l-0.2 0.3M186.1 583.3l-0.1 0.7M183.1 615.4l0.1 0.1M253.3 644.3l-0.1 0.4M224.5 594.1l0.2 0.1M181.0 610.5l-0.1 0.3M237.6 603.2l0.1 0.1M213.0 592.9l-0.6 0.7M218.5 631.2l0.1 0.0M268.5 646.2l0.2 0.0M260.1 597.9l-0.2 0.2M171.2 582.5l0.4 0.3M243.7 610.2l-0.0 0.0M257.3 602.7l0.0 0.0M275.5 607.0l0.9 0.1M203.3 645.4l0.4 0.8M270.3 641.0l-0.6 0.5M265.8 627.5l-0.0 0.1M164.1 615.4l-0.1 0.0M195.2 607.7l0.0 0.0M197.4 624.4l-0.5 0.0M226.0 574.5l-0.1 0.4M253.0 578.2l-0.2 0.1M274.9 635.9l-0.5 0.3M186.2 634.3l-0.7 0.1M168.3 637.9l-0.0 0.0M187.1 572.5l0.0 0.0M245.1 571.9l-0.3 0.3M238.5 580.2l-0.1 0.3M172.4 589.2l-0.2 0.3M196.2 601.6l-0.8 0.2M177.5 643.9l0.7 0.1M230.1 578.8l-0.2 0.1M252.6 579.4l0.0 0.4M170.1 627.4l-0.0 0.0M197.5 638.7l0.8 0.3M177.9 612.5l-0.0 0.3M189.1 607.7l-0.6 0.2M167.2 632.2l0.3 0.9M250.7 610.7l0.7 0.3M247.7 639.8l-0.2 0.4M167.2 598.8l0.7 0.6M231.8 629.3l-0.4 0.2M185.2 622.0l0.0 0.2M235.1 583.3l0.7 0.3M218.0 618.5l0.2 0.6M234.2 640.1l-0.9 0.1M238.7 616.4l0.1 0.2M189.4 605.7l0.3 0.1M238.8 620.0l-0.1 0.4M236.5 646.6l0.3 0.9M253.5 607.8l0.6 0.3M274.1 585.8l0.8 0.5M216.0 576.8l0.6 0.8M218.1 574.5l-0.5 0.4M186.6 594.5l-0.1 0.1M261.2 591.0l0.3 0.8M195.8 611.0l-0.0 0.7M203.4 598.1l0.4 0.6M189.4 595.4l0.1 0.4M192.1 567.0l-0.4 0.4M268.9 575.4l-0.3 0.2M214.4 596.2l-0.0 0.1M196.1 596.7l-0.0 0.8M197.1 633.4l-0.2 0.7M264.5 634.2l0.1 0.0M170.1 569.7l0.1 0.4M225.0 611.7l0.3 0.7M264.1 580.3l0.2 0.8M214.2 582.4l0.3 0.9M179.9 627.2l-0.5 0.3M174.7 631.2l0.9 0.1M170.8 575.8l-0.6 0.2M256.5 612.8l0.8 0.4M206.8 615.6l0.5 0.5M179.3 604.3l-0.2 0.5M185.1 644.8l-0.7 0.6M276.1 571.6l0.0 0.1M233.1 624.2l-0.5 0.2M275.4 570.3l0.7 0.5M258.9 631.3l0.2 0.1M279.2 639.0l-0.4 0.5M251.3 605.0l-0.2 0.3M190.4 617.3l0.1 0.1M268.4 646.4l0.1 0.0M238.7 618.9l-0.4 0.5M241.8 639.9l-0.2 0.4M189.5 590.5l-0.8 0.1M218.0 636.2l0.7 0.0M208.8 606.7l0.5 0.5M256.3 571.5l0.0 0.2M162.2 625.4l-0.1 0.1M239.5 604.4l0.1 0.3M186.9 587.4l0.2 0.0M173.5 635.0l0.2 0.3M211.5 597.0l0.7 0.6M184.2 640.7l-0.5 0.2M195.5 598.3l0.8 0.2M203.3 630.2l-0.1 0.2M273.0 586.1l-0.0 0.0M249.1 650.1l-0.2 0.2M197.5 567.4l-0.1 0.2M240.4 587.2l0.1 0.6M241.2 572.4l-0.1 0.2M209.0 641.6l0.0 0.8M246.1 612.3l0.5 0.2M197.8 609.3l0.6 0.2M185.8 617.4l0.7 0.0M250.6 630.2l0.7 0.1M204.4 610.7l0.0 0.1M227.6 581.8l-0.2 0.7M215.2 571.7l0.0 0.2M274.3 635.8l0.5 0.1M260.4 584.2l-0.0 0.1M267.6 609.6l-0.1 0.6M188.9 635.9l-0.8 0.2M247.6 596.4l0.9 0.2M182.9 581.9l0.3 0.5M206.3 605.4l0.3 0.5M209.0 624.0l-0.0 0.3M254.9 591.1l0.1 0.5M269.4 572.6l0.1 0.0M174.8 609.1l-0.5 0.2M177.4 586.2l0.2 0.5M213.9 594.7l0.5 0.1M199.9 611.3l-0.3 0.3M170.1 599.1l0.5 0.4M194.6 644.1l-0.2 0.0M197.6 604.8l0.1 0.3M254.9 591.6l-0.3 0.2M187.4 615.9l0.8 0.2M221.4 605.0l-0.2 0.0M187.7 636.5l-0.0 0.0M221.5 570.1l0.0 0.2M186.0 579.5l-0.0 0.0M180.9 583.5l0.0 0.0M279.1 613.7l0.1 0.0M232.6 611.0l-0.0 0.0M217.8 569.5l-0.4 0.0M196.5 608.7l-0.1 0.0M182.6 599.8l-0.3 0.3M197.3 593.9l-0.7 0.1M216.9 568.6l0.6 0.5M257.9 567.2l-0.5 0.2M182.5 582.0l-0.1 0.3M181.0 582.7l0.4 0.1M251.6 628.7l0.3 0.0M209.4 619.8l-0.3 0.9M277.0 603.9l0.4 0.3M249.1 599.6l-0.5 0.6M161.1 642.0l-0.6 0.4M252.6 576.8l-0.0 0.2M161.5 613.0l0.7 0.6M176.0 646.7l0.3 0.4M224.1 598.5l-0.5 0.6M201.7 639.9l0.3 0.5M218.8 574.8l-0.5 0.3M183.9 635.3l-0.5 0.3M220.6 606.1l0.1 0.1M217.0 576.4l-0.0 0.0M260.4 624.4l-0.3 0.5M182.9 579.3l-0.2 0.1M276.6 622.7l-0.2 0.2M209.0 589.2l-0.1 0.4M259.6 593.3l0.5 0.1M278.4 641.2l-0.0 0.0M254.1 616.9l0.7 0.1M169.3 609.3l-0.0 0.0M275.6 631.4l1.0 0.0M260.3 632.8l-0.6 0.4M259.9 590.5l0.1 0.6M270.0 612.1l0.2 0.0M274.6 567.4l-0.5 0.1M265.0 619.0l0.0 0.1M186.2 572.5l-0.0 0.0M212.2 570.3l0.3 0.5M179.9 643.9l-0.6 0.6M213.3 571.2l-0.2 0.7M228.3 611.1l0.1 0.1M202.4 628.4l0.1 0.6M253.4 578.3l0.0 0.2M265.9 599.8l-0.1 1.0M190.7 617.3l0.1 0.0M197.9 630.6l0.6 0.2M257.6 581.2l-0.1 0.6M186.6 625.0l-0.2 0.0M186.8 578.2l0.1 0.5M242.8 580.5l0.7 0.2M264.2 581.1l0.7 0.3M211.2 582.7l-0.5 0.6M195.7 624.1l-0.2 0.5M186.1 580.0l-0.3 0.1M241.7 640.2l-0.2 0.2M240.7 617.5l-0.1 0.1M208.0 627.3l0.4 0.1M164.7 608.6l-0.6 0.2M262.9 574.3l0.4 0.2M202.4 634.0l-0.2 0.1M254.0 572.3l-0.2 0.1M203.0 617.1l-0.1 0.1M171.9 572.3l-0.0 0.2M203.1 641.9l-0.9 0.2M197.2 581.3l-0.1 0.1M205.9 573.8l0.3 0.4M246.1 571.3l0.4 0.8M169.5 622.9l0.6 0.6M273.4 595.8l-0.2 0.7M210.3 585.2l-0.2 0.4M216.1 605.9l0.7 0.5M221.1 597.8l-0.4 0.3" stroke="#A8B4DC" stroke-width="2.8" stroke-linecap="round" fill="none" stroke-opacity="0.8"/>
<path d="M209.2 587.5l-0.0 0.2M208.8 610.3l-0.1 0.1M204.2 588.7l-0.1 0.1M173.7 642.5l0.2 0.1M270.6 605.7l-0.1 0.1M252.6 634.4l0.1 0.3M257.7 588.7l0.1 0.2M221.9 587.4l0.1 0.1M280.6 599.6l0.1 0.2M228.9 573.6l0.0 0.3M171.5 588.7l0.2 0.3M257.0 587.4l0.2 0.3M164.3 623.4l0.2 0.3M202.0 594.7l0.1 0.1M162.6 638.9l-0.1 0.0M225.0 570.6l-0.1 0.0M249.5 638.4l-0.2 0.2M263.6 583.4l-0.4 0.0M197.8 569.3l0.1 0.1M248.6 643.2l-0.1 0.2M269.0 587.2l-0.1 0.3M254.7 633.6l-0.0 0.1M216.9 574.9l0.1 0.2M244.1 630.9l0.1 0.0M267.4 618.7l0.1 0.2M169.9 635.7l-0.0 0.0M184.7 593.8l-0.0 0.4M194.7 626.3l0.1 0.3M194.0 576.3l-0.2 0.2M268.2 635.8l-0.2 0.1M255.0 627.9l0.0 0.1M260.7 649.3l-0.0 0.0M221.9 594.9l0.0 0.1M195.4 640.1l-0.1 0.0M272.1 572.2l-0.1 0.0M261.5 567.6l-0.0 0.0M266.1 643.1l0.0 0.3M212.1 597.7l0.1 0.2M229.4 571.2l-0.1 0.4M252.6 631.3l-0.3 0.0M279.0 577.8l-0.2 0.1M205.0 570.9l-0.1 0.1M266.5 602.8l-0.0 0.0M171.3 608.0l-0.3 0.2M165.2 624.3l0.1 0.1M233.9 649.2l0.0 0.3M165.9 581.8l0.0 0.1M253.1 627.0l0.0 0.0M269.4 647.1l0.2 0.1M228.2 594.8l-0.1 0.3M248.0 601.8l0.0 0.0M215.7 646.6l-0.0 0.2M220.6 613.9l-0.0 0.0M243.5 591.3l0.1 0.3M230.6 583.6l-0.1 0.2M217.9 585.7l-0.0 0.0M267.0 609.1l-0.0 0.2M234.4 597.6l0.1 0.1M254.8 606.8l-0.2 0.3M176.9 607.7l0.3 0.0M190.3 597.9l0.1 0.1M275.4 582.9l-0.2 0.3M191.5 574.7l0.1 0.0M223.8 580.1l-0.1 0.0M251.8 634.8l0.2 0.2M163.0 583.8l-0.1 0.0M246.4 595.6l-0.1 0.2M163.1 597.0l0.0 0.2M179.8 635.5l0.1 0.1M261.8 587.0l0.1 0.0M236.5 615.6l0.3 0.1M262.0 590.8l0.1 0.0M249.7 608.5l0.2 0.0M172.1 609.2l-0.3 0.2M258.8 606.2l0.1 0.1M253.7 587.9l0.1 0.1M193.9 583.0l0.0 0.0M260.5 574.7l-0.1 0.0M272.1 641.7l0.1 0.0M279.6 628.5l-0.0 0.0M259.8 608.2l-0.4 0.0M187.2 608.4l-0.0 0.2M218.9 634.6l0.2 0.1M280.4 567.6l0.0 0.0M224.8 643.7l0.0 0.1M262.4 588.2l0.3 0.2M194.7 595.4l-0.1 0.1M223.7 646.3l-0.0 0.3M216.5 637.0l-0.1 0.0M276.8 637.2l0.3 0.2M175.0 615.3l-0.0 0.3M166.1 596.4l-0.2 0.2M193.0 620.8l0.3 0.0M219.8 596.7l-0.1 0.4M191.9 575.9l0.1 0.0M168.4 573.6l0.3 0.2M196.7 596.1l-0.0 0.0M221.9 579.1l0.3 0.2M247.3 594.2l0.1 0.0M278.7 570.4l0.1 0.1M257.1 624.0l-0.3 0.3M203.8 607.7l0.0 0.0M270.6 649.3l0.2 0.2M172.9 580.2l0.0 0.0M180.0 618.5l0.1 0.0M278.6 617.7l0.0 0.2M249.8 594.9l0.1 0.2M168.0 592.9l0.1 0.4M167.8 591.3l-0.1 0.0M195.1 637.2l-0.1 0.3M166.9 620.7l-0.0 0.0M250.5 607.3l0.2 0.1M199.5 632.8l0.1 0.2M182.8 631.4l0.1 0.1M170.1 591.2l-0.1 0.0M216.6 577.1l0.4 0.2M201.8 628.1l-0.1 0.1M277.5 617.5l0.0 0.0M190.7 624.5l-0.1 0.4M189.8 618.8l0.1 0.1M196.5 568.4l-0.1 0.0M272.4 618.8l0.2 0.1M176.5 624.4l-0.0 0.1M221.6 626.5l-0.3 0.1M239.3 589.4l-0.0 0.0M164.2 637.5l0.1 0.3M245.4 586.3l-0.0 0.2M273.5 591.3l-0.0 0.0M224.3 601.1l-0.3 0.0M183.1 646.7l0.3 0.1M219.4 569.9l-0.4 0.0M222.8 570.3l-0.0 0.2M241.4 649.3l-0.2 0.2M271.7 582.6l0.3 0.2M198.5 595.3l-0.1 0.2M280.3 588.7l0.1 0.3M171.4 599.0l0.1 0.0M239.8 613.3l0.0 0.3M256.4 591.0l-0.0 0.0M213.3 578.3l-0.1 0.0M237.6 601.5l0.3 0.1M185.0 590.8l-0.0 0.2M264.1 590.8l0.1 0.0M235.8 592.8l0.1 0.0M234.5 647.6l0.1 0.3M200.5 640.8l-0.0 0.4M206.3 608.5l0.2 0.1M209.8 633.9l0.4 0.1M176.7 644.0l-0.0 0.1M216.3 618.7l-0.2 0.2M254.4 595.2l0.1 0.1M187.3 604.7l-0.0 0.1M169.5 625.6l-0.0 0.1M264.9 568.7l0.0 0.1M209.1 644.1l0.1 0.1M201.7 592.4l-0.0 0.0M210.3 576.2l0.0 0.0M247.4 585.3l0.0 0.1M218.6 579.4l-0.1 0.2M173.5 618.2l-0.1 0.2M224.9 594.4l0.0 0.3M243.7 603.8l0.1 0.3M205.2 579.2l-0.2 0.3M253.1 582.0l-0.1 0.1M200.8 639.1l-0.3 0.1M225.6 585.6l0.1 0.2M185.2 641.9l0.0 0.4M242.7 625.9l-0.2 0.0M164.1 604.4l0.1 0.2M212.2 648.7l-0.0 0.1M184.5 590.4l0.2 0.3M267.2 622.4l-0.3 0.2M240.2 626.3l0.1 0.0M252.8 606.3l0.2 0.2M252.3 572.4l0.0 0.2M254.9 633.4l0.1 0.0M199.2 632.6l-0.0 0.0M185.2 595.6l0.1 0.1M180.9 622.6l0.3 0.2M238.3 602.7l-0.0 0.0M260.1 572.5l-0.1 0.4M280.1 598.5l0.2 0.2M256.2 650.8l0.2 0.0M227.7 634.7l0.2 0.1M278.2 635.7l0.2 0.1M259.4 599.1l-0.3 0.0M225.2 623.1l-0.2 0.2M253.7 581.2l0.3 0.2M184.2 580.1l0.0 0.1M205.4 642.9l0.1 0.0M271.5 567.9l0.2 0.0M248.6 630.8l0.2 0.3M248.4 617.5l0.0 0.0M172.8 596.6l0.0 0.3M175.0 614.5l0.0 0.0M240.1 612.7l-0.0 0.3M274.2 639.3l-0.1 0.2M263.0 625.5l-0.1 0.4M251.3 574.3l-0.1 0.1M247.1 584.0l-0.1 0.2M187.5 609.7l-0.2 0.1M267.6 578.0l0.0 0.3M218.9 628.9l-0.0 0.2M165.2 641.9l0.4 0.1M272.4 607.5l0.1 0.1M258.1 597.7l-0.2 0.1M242.1 615.9l-0.1 0.0M205.6 644.4l-0.1 0.1M255.7 646.1l0.3 0.2M233.5 569.5l0.1 0.0M247.7 578.6l0.1 0.3M247.1 633.1l-0.3 0.1M276.6 604.9l0.3 0.1M184.8 599.5l0.3 0.1M201.3 639.7l0.0 0.0M234.1 641.3l0.1 0.3M173.5 630.1l0.1 0.1M231.7 636.9l0.0 0.0M191.7 603.4l-0.0 0.1M211.4 624.9l-0.0 0.1M221.9 634.3l0.1 0.0M166.7 647.3l-0.2 0.1M277.5 573.1l0.2 0.2M199.8 568.3l0.2 0.0M175.0 583.3l0.0 0.0M261.8 604.0l0.1 0.3M211.7 625.8l0.2 0.0M260.3 648.4l0.1 0.0M219.4 588.7l-0.0 0.0M233.5 618.6l0.3 0.2M229.8 597.5l0.3 0.2M200.6 601.3l-0.1 0.1M186.9 576.4l0.3 0.1M233.2 610.2l0.0 0.0M193.3 574.7l-0.2 0.3M243.5 616.4l-0.1 0.4M265.6 576.4l-0.1 0.1M281.0 637.5l-0.2 0.1M161.5 622.0l-0.1 0.1M262.1 615.7l-0.3 0.2M233.2 574.5l0.1 0.2M224.1 570.0l0.3 0.1M252.7 622.3l-0.0 0.0M211.3 613.7l-0.3 0.2M251.7 631.1l0.0 0.0M195.3 584.5l0.2 0.0M190.7 588.3l-0.1 0.2M240.4 585.8l-0.0 0.1M261.2 567.2l0.0 0.0M209.6 600.8l0.1 0.1M187.4 614.5l-0.2 0.3M211.0 607.9l-0.1 0.1M194.2 633.2l0.1 0.2M233.8 645.0l0.3 0.0M229.9 568.9l0.0 0.2M195.1 610.1l-0.1 0.2M189.1 597.6l0.2 0.2M239.2 633.9l0.2 0.2M196.4 603.0l-0.0 0.0M214.3 625.6l-0.0 0.1M220.2 589.1l-0.1 0.1M266.2 639.9l-0.0 0.0M162.8 640.4l0.0 0.0M252.8 629.8l0.1 0.0M275.2 606.4l-0.2 0.3M186.2 647.2l-0.0 0.0M247.3 586.6l-0.0 0.3M212.0 604.2l0.1 0.0M270.8 568.0l0.2 0.2M183.9 606.5l-0.3 0.0M278.6 585.0l0.1 0.3M258.1 603.2l0.2 0.3M174.8 584.7l-0.0 0.0M171.1 644.3l0.2 0.0M180.2 624.5l-0.1 0.0M231.7 600.2l0.1 0.3M200.7 570.2l0.1 0.0M258.4 628.9l0.0 0.2M183.2 620.7l0.2 0.3M170.9 639.7l0.1 0.1M165.1 591.0l0.3 0.2M209.9 589.7l0.0 0.0M173.0 639.1l-0.3 0.1M265.4 569.3l0.0 0.3M172.0 571.5l0.4 0.1M256.0 630.9l0.0 0.1M179.1 592.3l0.1 0.0M253.1 611.4l0.1 0.3M223.2 570.4l-0.1 0.0M227.8 570.5l-0.1 0.1M279.1 627.2l-0.1 0.2M207.7 612.6l0.0 0.0M204.2 647.5l-0.0 0.0M279.5 619.1l0.3 0.2M184.0 570.5l0.1 0.0M228.8 605.1l0.2 0.1M237.1 600.9l0.1 0.4M226.8 648.4l-0.1 0.3M259.4 598.9l0.0 0.1M234.8 589.1l-0.0 0.0M259.6 619.7l-0.0 0.2M181.1 632.6l-0.2 0.2M182.7 636.8l0.3 0.2M269.7 622.6l0.1 0.1M260.2 588.7l-0.0 0.0M201.5 589.2l-0.1 0.2M272.8 648.1l0.3 0.1M202.3 571.2l0.1 0.3M176.2 625.2l-0.0 0.2M257.9 599.6l0.2 0.3M280.4 579.6l-0.1 0.1M191.7 638.8l0.3 0.1M168.4 584.6l-0.3 0.1M235.5 573.5l-0.0 0.2M196.7 586.0l-0.2 0.1M198.8 650.4l0.2 0.3M249.9 591.4l0.3 0.2M186.5 588.9l0.0 0.0M250.5 630.1l0.3 0.2M185.9 629.5l0.2 0.3M203.5 584.9l0.0 0.0M229.2 617.2l-0.0 0.0M220.5 634.7l-0.1 0.2M260.0 573.5l-0.1 0.2M245.0 612.4l-0.2 0.2M190.5 581.5l0.1 0.2M195.3 589.7l-0.0 0.3M192.6 570.2l-0.3 0.1M183.4 624.5l0.0 0.1M174.5 569.9l-0.2 0.1M244.9 582.8l0.0 0.1M222.4 572.5l0.0 0.1M217.5 594.5l-0.2 0.2M270.3 601.3l0.2 0.2M240.0 627.7l-0.2 0.2M201.2 611.5l-0.0 0.0M259.0 600.8l-0.2 0.1M233.7 602.0l0.3 0.0M237.0 580.9l-0.1 0.1M253.0 575.0l-0.0 0.1M238.7 592.0l0.1 0.1M276.0 615.1l-0.0 0.0M242.3 577.3l0.1 0.3M189.3 576.7l0.3 0.2M247.9 575.0l-0.1 0.3M172.6 637.6l-0.1 0.0M189.5 644.6l-0.1 0.2M215.7 607.7l-0.1 0.1M175.1 613.5l-0.1 0.1M163.4 645.5l0.0 0.3M252.2 610.3l-0.1 0.0M244.1 650.9l0.1 0.0M215.9 590.5l-0.1 0.3M263.1 635.2l-0.3 0.0M198.6 576.7l-0.1 0.3M226.3 589.9l-0.3 0.1M260.8 590.8l-0.0 0.0M181.8 607.6l-0.1 0.2M273.5 613.4l-0.1 0.1M257.6 640.9l0.1 0.1M180.7 586.2l-0.1 0.0M187.9 567.4l0.0 0.1M247.8 617.5l-0.2 0.0M211.3 616.9l-0.2 0.2M229.5 639.2l0.0 0.2M214.7 593.6l-0.0 0.4M230.9 573.4l-0.3 0.0M162.1 613.3l-0.0 0.0M265.5 623.0l-0.2 0.1M192.0 626.9l0.0 0.0M183.3 570.2l0.1 0.0M210.3 572.4l0.3 0.2M235.1 589.8l0.2 0.3M192.3 577.5l-0.1 0.1M192.0 644.2l0.1 0.1M182.3 618.0l-0.0 0.0M275.0 639.1l0.1 0.1M237.9 591.8l0.1 0.1M204.8 629.8l0.3 0.0M209.7 584.9l0.1 0.3M279.2 645.9l0.0 0.0M233.1 586.5l-0.2 0.1M205.6 588.3l-0.3 0.2M258.9 643.0l-0.0 0.0M232.5 640.0l-0.0 0.2M224.5 606.7l0.3 0.0M236.7 648.4l-0.1 0.1M236.4 595.6l-0.3 0.1M237.4 599.3l0.2 0.2M189.9 617.2l0.4 0.0M242.5 649.0l-0.3 0.1M248.1 582.0l0.0 0.0M245.1 633.8l0.2 0.3M208.6 624.1l0.3 0.2M238.0 617.1l-0.0 0.3M168.6 591.7l0.0 0.2M172.9 621.9l0.2 0.2M165.2 578.4l-0.2 0.1M195.7 594.8l-0.0 0.0M239.2 645.4l0.0 0.0M166.6 609.0l0.0 0.2M252.6 582.3l-0.1 0.0M250.3 606.7l-0.2 0.1M180.1 622.0l0.0 0.2M193.3 573.6l0.2 0.1M183.4 645.3l0.0 0.0M205.6 603.2l0.4 0.1M200.2 633.1l-0.1 0.1M270.7 574.3l-0.2 0.1M202.5 638.1l0.1 0.1M267.6 589.5l-0.2 0.1M232.1 589.9l-0.1 0.1M205.0 569.2l-0.1 0.0M164.2 567.8l-0.0 0.0M265.0 590.4l0.1 0.1M200.4 569.8l0.0 0.1M179.4 580.2l-0.2 0.2M273.2 638.9l0.0 0.3M176.9 612.7l0.2 0.2M246.7 576.3l0.0 0.1M181.2 615.2l-0.4 0.1M236.8 642.4l-0.0 0.0M275.9 574.2l-0.3 0.2M275.5 623.5l-0.0 0.3M249.9 576.4l-0.2 0.2M259.5 577.7l0.0 0.0M197.6 574.4l0.1 0.0M252.5 643.4l-0.0 0.1M199.9 629.2l-0.2 0.0M251.8 589.2l0.1 0.1M198.8 603.2l-0.0 0.0M245.4 593.3l0.0 0.1M246.1 585.1l0.0 0.2M247.1 629.3l-0.2 0.3M280.6 590.1l-0.1 0.0M220.3 646.1l-0.2 0.1M240.9 635.1l-0.1 0.3M264.7 622.4l0.1 0.0M272.3 583.1l-0.4 0.1M164.2 634.2l-0.4 0.1M202.3 611.8l0.1 0.1M182.7 617.5l0.0 0.0M231.4 598.9l-0.1 0.1M242.7 598.1l0.1 0.2M219.9 567.8l0.0 0.0M267.8 578.3l0.1 0.2M270.5 587.7l-0.3 0.2M175.5 574.5l0.0 0.0M228.2 617.2l-0.2 0.2M274.6 641.7l0.0 0.3M217.5 636.7l0.1 0.0M280.7 586.7l0.0 0.3M274.9 594.8l-0.3 0.2M263.9 575.9l0.1 0.1M247.6 622.8l0.2 0.1M188.9 642.1l0.2 0.3M204.7 592.2l0.0 0.2M240.7 587.3l0.1 0.3M219.0 619.9l0.2 0.2M223.8 611.5l-0.1 0.0M212.0 639.9l0.2 0.1M274.7 582.5l-0.0 0.2M234.7 645.9l-0.2 0.1M269.9 628.5l-0.1 0.3M209.8 629.8l0.1 0.2M166.9 626.3l0.2 0.2M196.9 573.0l0.2 0.0M240.1 633.3l0.2 0.0M239.0 607.0l-0.0 0.2M258.5 574.6l0.2 0.0M255.8 618.6l0.1 0.3M261.9 622.7l0.1 0.2M231.9 650.0l-0.2 0.0M211.0 596.3l-0.2 0.0M173.9 614.3l0.2 0.1M244.6 624.2l-0.2 0.0M231.8 615.5l-0.1 0.1M244.2 570.1l0.2 0.0M259.5 650.0l0.1 0.3M232.8 585.4l-0.0 0.3M195.1 638.5l0.1 0.1M187.2 579.9l-0.0 0.1M167.1 594.4l-0.1 0.3M277.6 627.0l-0.1 0.1M219.2 614.2l-0.2 0.0M230.4 603.8l-0.0 0.3M277.5 614.2l-0.2 0.1M243.5 651.0l-0.4 0.2M241.8 625.3l0.1 0.1M265.4 604.1l-0.1 0.0M220.9 622.8l-0.4 0.0M246.8 583.2l-0.2 0.2M270.5 601.5l-0.0 0.1M174.5 624.8l0.0 0.1M171.0 585.0l0.0 0.2M227.1 632.5l0.0 0.1M227.1 593.1l-0.0 0.0M226.9 616.8l-0.0 0.0M207.4 613.7l-0.2 0.1M276.9 603.3l0.0 0.0M227.7 637.3l-0.2 0.0M185.1 622.2l-0.0 0.0M203.5 636.1l0.0 0.0M260.6 626.9l0.0 0.0M254.2 618.1l-0.3 0.3M195.5 613.6l-0.1 0.1M229.1 613.9l-0.1 0.3M245.2 650.5l0.0 0.1M174.7 622.3l0.1 0.1M279.2 580.0l-0.1 0.1M264.5 623.6l0.0 0.0M249.6 618.1l0.0 0.0M254.0 578.6l0.2 0.1M172.7 604.0l-0.1 0.1M202.6 648.5l0.2 0.2M165.0 606.3l-0.0 0.0M230.2 602.1l0.0 0.1M249.4 569.1l-0.2 0.2M181.8 646.3l-0.0 0.0M218.2 587.9l0.1 0.1M220.0 635.8l-0.1 0.1" stroke="#5C78C8" stroke-width="2.6" stroke-linecap="round" fill="none" stroke-opacity="0.9"/>
<path d="M178.4 636.8l0.1 0.1M210.8 626.5l-0.1 0.0M242.4 608.8l0.0 0.0M202.8 625.8l0.2 0.0M225.9 611.3l0.0 0.1M224.0 635.8l0.2 0.2M206.3 605.4l0.1 0.1M226.8 616.2l-0.0 0.2M259.3 610.4l-0.0 0.0M272.0 577.9l0.1 0.2M261.6 629.6l-0.1 0.3M169.6 592.4l-0.0 0.0M162.4 581.1l-0.0 0.0M251.2 649.6l0.1 0.3M203.0 634.4l0.1 0.1M279.5 578.6l0.3 0.0M171.7 641.3l0.0 0.0M207.8 569.1l-0.1 0.3M174.6 607.6l0.2 0.1M203.9 625.0l0.0 0.0M222.9 637.3l-0.0 0.0M268.6 621.1l-0.0 0.2M182.0 635.0l-0.2 0.0M273.3 606.5l0.0 0.0M184.2 601.1l-0.3 0.2M223.9 624.6l0.2 0.1M237.0 578.7l-0.1 0.1M205.1 609.0l0.1 0.0M193.8 582.6l0.1 0.3M205.6 639.1l0.1 0.4M210.2 623.6l-0.2 0.1M280.3 605.2l-0.1 0.2M234.3 604.0l0.2 0.2M279.1 617.3l-0.0 0.0M169.0 603.5l0.2 0.3M266.1 618.6l0.0 0.0M259.9 628.7l0.1 0.3M245.4 614.0l-0.3 0.3M260.1 590.4l0.0 0.0M260.1 576.9l-0.1 0.3M226.6 567.2l-0.0 0.0M197.8 599.8l-0.0 0.0M237.9 642.5l0.0 0.3M270.2 634.7l0.2 0.0M251.7 648.3l-0.1 0.1M221.9 595.9l-0.3 0.1M267.7 620.1l0.0 0.0M260.3 643.1l-0.0 0.1M236.6 646.8l0.1 0.1M239.4 613.5l0.1 0.2M211.1 601.7l-0.2 0.2M169.0 648.5l0.1 0.0M168.7 608.8l0.3 0.2M182.5 568.8l-0.0 0.0M221.1 638.7l0.1 0.1M223.5 639.0l0.1 0.3M239.2 584.0l-0.0 0.0M202.0 588.7l0.2 0.1M221.2 635.6l-0.0 0.0M254.7 597.2l-0.0 0.0M164.9 611.7l0.1 0.1M263.3 624.3l-0.3 0.0M208.4 567.7l-0.0 0.0M172.9 577.2l0.3 0.3M185.4 619.1l0.2 0.2M250.3 643.7l-0.3 0.0M243.4 583.5l0.0 0.1M164.0 617.5l0.2 0.1M256.3 613.2l-0.2 0.1M164.0 593.3l0.0 0.0M234.3 599.3l0.3 0.0M209.0 575.9l-0.1 0.0M161.4 614.1l0.1 0.2M220.8 637.6l-0.3 0.1M213.0 638.2l0.0 0.1M235.2 576.5l-0.0 0.0M245.7 580.5l-0.1 0.1M233.4 588.4l-0.4 0.1M229.9 584.1l0.3 0.1M169.9 570.1l-0.3 0.2M280.0 634.5l-0.2 0.1M209.7 584.1l-0.0 0.3M274.6 628.4l-0.0 0.1M169.3 584.8l0.1 0.1M222.3 615.7l0.4 0.2M231.5 578.4l0.1 0.0M201.5 610.8l0.1 0.1M279.2 584.8l-0.2 0.0M207.1 605.5l-0.2 0.1M165.3 613.2l-0.2 0.4M199.1 568.0l-0.2 0.4M174.3 612.8l-0.0 0.0M184.9 576.3l-0.0 0.3M207.8 643.2l-0.0 0.0M246.8 581.4l0.3 0.0M274.0 572.4l0.1 0.2M213.0 575.2l-0.1 0.1M271.1 608.7l0.3 0.1M250.2 632.6l0.1 0.1M272.6 600.3l-0.0 0.0M204.0 638.4l0.0 0.3M180.6 624.1l0.1 0.1M264.0 646.1l0.0 0.2M274.5 598.0l-0.0 0.0M224.6 641.5l-0.2 0.3M263.7 609.9l0.1 0.2M179.8 627.6l-0.0 0.0M260.0 619.4l0.0 0.2M179.2 632.2l0.2 0.2M168.0 615.5l0.3 0.1M184.1 619.2l0.1 0.2M242.5 636.7l0.2 0.1M165.8 597.8l-0.3 0.0M278.6 569.3l0.2 0.0M271.3 574.7l0.1 0.4M258.5 611.4l0.2 0.1M236.8 581.0l-0.3 0.1M265.3 637.1l0.1 0.2M210.9 620.0l0.3 0.0M191.3 577.1l0.0 0.2M226.6 621.5l-0.0 0.0M267.8 572.0l0.0 0.0M241.9 631.2l-0.0 0.2M179.8 583.9l0.3 0.0M180.8 618.7l0.2 0.1M201.9 569.7l-0.1 0.0M280.1 648.1l-0.0 0.0M218.1 585.6l0.1 0.3M181.2 617.7l-0.1 0.0M208.4 593.1l-0.2 0.3M251.7 576.0l0.1 0.1M182.9 615.4l0.3 0.3M220.8 611.5l0.1 0.2M270.5 631.4l-0.0 0.0M196.5 602.5l0.2 0.1M261.8 602.4l-0.1 0.2M255.1 572.1l-0.0 0.2M260.7 591.8l-0.0 0.1M218.0 617.7l0.1 0.0M221.2 617.2l0.0 0.0M211.6 640.3l-0.0 0.0M229.8 605.0l0.1 0.0M236.4 622.2l0.0 0.1M222.7 645.4l-0.2 0.1M227.3 639.5l0.1 0.0M252.0 604.9l-0.1 0.1M257.7 626.6l0.0 0.2M225.6 602.1l-0.1 0.4M264.5 602.8l-0.0 0.1M185.2 622.1l-0.0 0.0M239.1 636.6l0.0 0.2M182.0 616.7l0.2 0.1M176.5 610.0l-0.0 0.1M238.7 639.3l0.1 0.0M217.5 616.5l0.1 0.3M275.9 610.5l0.3 0.3M233.8 579.8l-0.0 0.0M207.0 572.5l-0.2 0.0M225.8 639.7l0.0 0.2M194.0 643.5l-0.1 0.0M178.7 633.2l-0.1 0.1M202.5 619.9l-0.3 0.1M227.3 649.0l0.0 0.0M186.2 578.0l-0.0 0.0M170.0 597.2l0.2 0.2M272.0 610.8l0.1 0.1M265.6 642.2l0.0 0.0M263.5 649.9l0.1 0.4M197.9 623.7l0.1 0.2M265.0 572.4l-0.1 0.1M255.2 609.9l-0.2 0.0M187.6 621.9l-0.0 0.0M168.3 643.1l0.2 0.0M268.0 591.4l0.0 0.0M185.8 609.7l-0.2 0.0M183.6 572.2l-0.1 0.0M163.6 613.7l-0.3 0.2M214.8 624.4l0.2 0.2M280.0 576.1l-0.0 0.0M180.4 581.6l0.1 0.3M224.8 636.6l0.1 0.1M203.3 591.5l-0.0 0.2M236.7 569.3l0.1 0.0M187.6 635.8l0.0 0.0M222.0 590.0l0.1 0.0M238.1 605.9l-0.1 0.0M210.9 634.8l0.0 0.1M269.1 616.5l-0.1 0.0M197.5 607.2l-0.3 0.1M174.9 641.2l0.1 0.2M216.6 647.1l0.1 0.0M245.5 587.9l-0.1 0.0M171.0 588.8l0.0 0.3M259.1 610.0l0.0 0.0M248.9 618.1l-0.1 0.2M192.7 637.3l-0.2 0.1M266.1 628.6l0.1 0.1M206.6 634.1l-0.2 0.1M243.8 574.3l-0.3 0.1M165.2 592.7l0.0 0.0M239.1 614.7l0.0 0.0M189.4 598.5l-0.1 0.2M189.4 615.6l-0.1 0.0M235.2 576.6l0.0 0.0M213.0 588.9l-0.1 0.3M230.2 639.9l0.0 0.3M258.4 643.2l-0.0 0.0M216.3 580.9l0.2 0.1M204.4 596.2l0.0 0.0M180.2 631.1l-0.1 0.1M251.3 594.2l-0.1 0.4M251.3 599.3l0.1 0.0M162.8 592.1l-0.0 0.1M171.1 578.3l0.3 0.3M248.1 625.2l-0.3 0.2M177.9 629.7l-0.1 0.1M195.7 595.0l0.2 0.2M273.8 648.2l-0.2 0.3M229.2 575.4l-0.1 0.2M252.7 593.1l0.0 0.0M243.6 625.1l-0.3 0.0M174.7 649.0l0.1 0.1M251.7 630.1l-0.2 0.0M254.6 628.5l0.0 0.3M173.7 595.4l-0.0 0.1M165.0 640.8l0.1 0.0M188.4 579.7l-0.2 0.0M240.1 640.1l-0.3 0.1M273.4 640.3l-0.3 0.1M202.1 635.5l0.1 0.3M210.4 640.1l-0.0 0.3M267.5 634.2l-0.2 0.1M226.3 610.9l0.2 0.2M171.6 640.5l0.2 0.1M267.5 610.7l-0.1 0.2M192.8 587.0l0.1 0.3M253.4 624.6l0.0 0.2M251.8 605.0l0.4 0.1M242.8 601.8l0.2 0.2M264.8 647.7l0.1 0.1M244.8 596.0l-0.3 0.1M255.9 624.2l-0.1 0.3M243.1 650.6l0.1 0.3M218.7 606.7l0.1 0.1M204.6 574.0l-0.2 0.1M275.0 584.3l0.1 0.1M181.8 583.0l0.0 0.0M270.5 593.2l-0.0 0.1M191.4 612.2l0.0 0.1M279.6 615.4l-0.1 0.3M250.9 567.9l0.0 0.1M182.2 592.7l0.1 0.1M276.8 616.2l-0.0 0.2M186.7 571.1l0.3 0.0M257.7 596.4l0.1 0.2M187.1 616.3l0.2 0.2M179.1 590.1l-0.1 0.1M208.4 641.0l0.0 0.3M250.5 579.8l-0.0 0.0M273.5 644.9l0.1 0.1M247.4 578.7l0.2 0.2M184.8 579.6l0.2 0.0M211.4 603.5l0.2 0.2M199.1 649.6l0.2 0.0M207.0 586.3l0.1 0.3M166.0 622.2l-0.1 0.3M199.0 645.6l0.2 0.2M172.5 637.6l-0.2 0.2M189.2 615.9l-0.3 0.2M225.1 648.1l-0.0 0.0M249.1 590.4l0.1 0.1M179.9 629.2l0.0 0.0M204.7 579.7l-0.0 0.3M164.1 632.3l0.0 0.1M178.7 628.3l-0.3 0.1M174.3 639.5l-0.1 0.1M192.3 619.7l0.0 0.0M196.1 590.0l0.2 0.0M167.3 601.8l-0.2 0.1M209.7 634.4l-0.1 0.0M186.7 643.5l0.1 0.1M224.0 601.0l-0.1 0.1M276.8 632.5l-0.2 0.1M233.3 572.0l0.1 0.0M252.6 638.6l-0.0 0.0M239.7 577.1l-0.1 0.1M269.9 572.9l-0.0 0.0M249.5 623.0l-0.0 0.0M245.2 587.6l-0.1 0.1M244.8 630.6l0.0 0.0M169.9 578.8l-0.3 0.0M264.0 624.5l-0.0 0.1M266.6 580.4l-0.1 0.1M208.6 621.7l0.2 0.0M186.8 597.3l-0.1 0.1M230.2 637.1l-0.2 0.1M162.0 599.7l0.1 0.2M273.7 616.8l0.0 0.0M173.1 585.8l-0.0 0.0M193.6 569.4l-0.0 0.4M241.9 617.1l-0.0 0.3M191.2 580.7l0.0 0.1M274.5 636.3l0.1 0.2M278.6 630.4l-0.1 0.0M176.9 571.2l-0.2 0.2M250.8 642.7l0.3 0.1M243.3 607.0l-0.0 0.2M268.9 646.3l0.2 0.1M182.6 581.5l0.1 0.1M258.7 646.4l0.0 0.2M190.8 577.2l0.1 0.0M237.3 590.6l-0.2 0.2M176.7 587.1l0.2 0.0M175.2 639.2l0.1 0.1M227.2 602.6l-0.2 0.1M191.1 602.2l0.3 0.2M191.4 584.1l0.0 0.0M262.7 644.3l-0.0 0.0M185.1 580.2l-0.0 0.0M203.7 591.7l-0.0 0.1M177.8 614.3l0.0 0.0M171.2 592.2l-0.0 0.3M262.1 649.8l-0.2 0.2" stroke="#3850AE" stroke-width="2.0" stroke-linecap="round" fill="none" stroke-opacity="0.9"/>
<path d="M265.7 643.5l0.1 0.1M250.7 581.7l-0.1 0.0M212.1 570.4l0.2 0.1M187.2 600.8l-0.0 0.2M268.1 612.0l0.3 0.2M189.3 650.6l0.0 0.0M193.3 598.9l0.2 0.0M170.5 605.5l0.0 0.0M240.9 627.4l-0.0 0.0M161.3 639.9l0.2 0.2M194.2 637.0l-0.1 0.2M200.6 621.2l-0.1 0.0M246.5 587.1l-0.0 0.1M238.7 574.3l-0.1 0.2M213.8 581.9l-0.2 0.1M267.5 578.8l0.1 0.0M228.7 607.2l-0.3 0.0M242.9 567.1l0.0 0.1M257.0 607.8l0.1 0.0M217.6 623.4l0.2 0.2M267.6 590.6l0.0 0.2M179.0 608.3l-0.1 0.1M279.4 629.0l-0.2 0.2M239.9 642.5l0.0 0.1M179.5 619.9l-0.1 0.1M245.7 649.7l-0.3 0.1M265.2 609.9l-0.2 0.2M189.3 640.0l-0.1 0.2M246.7 608.0l0.1 0.1M225.3 648.5l0.2 0.3M246.2 641.6l0.1 0.2M267.0 617.5l-0.2 0.0M267.0 618.9l-0.1 0.2M198.6 620.6l0.0 0.1M195.7 592.6l0.0 0.2M242.5 567.5l-0.1 0.1M253.9 623.7l-0.4 0.0M199.6 635.0l-0.2 0.0M263.5 581.6l-0.1 0.1M176.1 645.6l-0.1 0.2M198.4 571.6l-0.3 0.0M209.0 631.8l0.1 0.0M212.1 644.8l0.3 0.1M190.6 643.8l-0.1 0.2M208.5 596.7l0.0 0.1M188.0 647.0l0.0 0.1M276.5 594.1l-0.3 0.2M241.8 593.3l-0.0 0.1M262.4 620.8l0.3 0.0M265.9 624.9l-0.0 0.3M186.7 614.9l0.1 0.0M273.8 644.6l-0.1 0.3M261.3 575.6l-0.1 0.2M202.3 571.1l0.3 0.0M180.2 648.2l0.2 0.1M267.2 567.9l0.3 0.3M264.3 609.8l-0.1 0.2M252.7 633.9l0.2 0.1M183.9 576.4l0.4 0.0M280.5 637.2l0.1 0.1M190.4 617.9l0.3 0.1M253.2 617.8l0.2 0.2M197.3 591.2l0.2 0.1M269.7 638.9l-0.1 0.0M206.7 578.6l0.0 0.2M252.3 588.8l-0.0 0.0M249.5 650.7l-0.2 0.0M223.6 640.3l0.1 0.3M262.4 583.4l-0.2 0.1M241.0 613.3l-0.1 0.2M278.4 602.3l-0.0 0.4M237.6 570.1l-0.2 0.0M252.6 592.7l-0.0 0.0M176.3 640.0l-0.1 0.1M263.7 623.9l-0.0 0.0M215.3 609.4l-0.3 0.2M167.4 583.4l-0.0 0.1M182.8 572.0l-0.0 0.1M223.7 633.7l0.1 0.0M239.4 584.5l0.0 0.2M246.4 595.9l-0.3 0.0M225.4 574.0l0.2 0.2M222.6 608.9l-0.1 0.2M260.0 600.8l0.2 0.2M207.6 621.0l0.0 0.3M211.8 647.6l-0.2 0.2M257.9 611.5l0.2 0.1M196.0 614.4l0.2 0.2M169.3 578.5l0.0 0.2M212.6 650.2l-0.1 0.0M244.2 645.1l-0.0 0.0M269.5 616.9l-0.1 0.1M175.2 647.5l-0.1 0.1M229.0 580.2l-0.2 0.1M250.3 633.9l-0.0 0.1M191.3 643.1l-0.1 0.2M218.2 595.0l0.0 0.0M256.0 630.2l0.2 0.3M251.7 614.5l-0.2 0.1M197.3 631.4l-0.0 0.0M182.9 602.7l-0.3 0.2M218.1 646.9l0.4 0.0M175.5 623.1l0.2 0.1M176.2 646.4l-0.0 0.4M227.2 591.4l-0.1 0.0M252.2 569.7l0.1 0.0M168.7 568.6l-0.0 0.0M250.6 627.2l0.2 0.1M182.6 606.7l0.2 0.1M188.2 579.6l0.2 0.3M255.9 620.0l-0.2 0.0M195.8 650.5l0.2 0.2M193.8 609.7l0.2 0.3M186.7 610.4l0.1 0.1M274.7 630.1l0.1 0.0M196.6 607.7l0.3 0.0M175.6 634.4l-0.0 0.2M265.9 650.2l0.0 0.2M204.1 592.4l-0.0 0.0M198.3 639.8l0.0 0.3M280.9 578.5l-0.1 0.0M211.3 582.9l-0.2 0.0M163.5 587.1l0.1 0.1M205.3 620.0l-0.2 0.0M272.4 604.2l-0.1 0.1M222.0 607.9l0.0 0.3M232.6 632.7l0.0 0.0M205.9 642.0l-0.2 0.1M223.3 624.1l-0.0 0.0M232.3 643.2l0.1 0.2M273.1 648.8l-0.2 0.3M245.1 582.3l-0.3 0.1M232.0 622.7l-0.4 0.1M173.0 639.6l-0.2 0.1M219.5 617.0l0.2 0.1M168.8 587.6l-0.0 0.0M170.7 649.4l-0.2 0.1M252.2 594.3l0.1 0.1M189.8 586.0l0.0 0.0M264.0 591.6l0.3 0.0M230.0 604.7l-0.2 0.2M164.6 577.0l0.1 0.0M197.4 596.5l0.0 0.1M209.7 622.0l0.0 0.0M165.3 626.1l-0.1 0.3M216.2 640.4l0.3 0.2M179.1 601.8l0.0 0.0M273.5 599.5l0.0 0.0M166.3 609.9l0.3 0.1M230.0 596.7l0.1 0.1M224.2 587.0l0.2 0.0M213.8 623.0l0.1 0.2M234.8 640.2l-0.0 0.0M262.5 590.8l0.1 0.0M266.7 624.4l0.2 0.3M168.9 632.2l0.1 0.1M184.8 609.5l0.2 0.2M171.1 625.7l0.1 0.1M168.2 634.2l0.2 0.2M175.9 632.6l-0.0 0.1M170.7 634.3l0.2 0.1M228.5 581.8l-0.0 0.2M176.3 583.9l-0.1 0.1M161.2 592.0l0.2 0.1M214.2 606.7l0.3 0.3M209.6 607.9l-0.2 0.1M250.1 574.7l-0.0 0.3M217.4 583.0l0.1 0.1M242.6 607.8l0.0 0.0M264.4 575.6l0.1 0.4M272.0 588.5l-0.1 0.3M238.1 624.6l-0.2 0.2M199.3 590.3l0.0 0.1M207.2 569.9l0.0 0.2M233.7 593.0l-0.2 0.1M202.4 623.4l0.0 0.0M272.5 586.5l-0.0 0.2M209.1 620.4l0.0 0.3M207.8 636.2l0.3 0.2M271.0 589.7l-0.1 0.0M232.8 622.5l0.2 0.1M225.5 615.9l-0.0 0.0M204.3 575.3l-0.1 0.1M185.4 574.0l-0.4 0.0M204.8 578.2l0.1 0.1M196.3 621.7l-0.2 0.1M278.3 635.8l-0.0 0.1" stroke="#70287A" stroke-width="2.5" stroke-linecap="round" fill="none" stroke-opacity="0.9"/>
<path d="M163.9 627.6l0.1 0.3M178.6 647.5l0.2 0.3M240.5 645.7l0.0 0.1M205.9 579.1l0.3 0.1M275.0 575.7l-0.0 0.1M269.8 632.3l-0.2 0.2M245.3 622.2l0.1 0.1M245.6 632.5l0.1 0.3M210.5 582.1l0.1 0.3M223.4 586.7l-0.3 0.0M219.6 609.2l0.1 0.0M231.7 614.3l-0.2 0.0M193.5 601.1l-0.0 0.0M177.7 572.7l0.2 0.3M209.6 592.0l0.1 0.3M179.5 616.2l-0.1 0.3M222.2 605.8l-0.2 0.1M215.4 641.4l-0.2 0.1M242.8 631.0l0.4 0.0M253.9 633.7l-0.0 0.4M211.4 621.8l-0.3 0.3M164.2 598.2l-0.1 0.1M224.3 588.0l-0.3 0.1M226.3 573.2l0.2 0.0M238.2 611.4l0.2 0.1M167.0 597.0l0.1 0.0M214.5 581.2l0.3 0.2M219.8 628.6l0.3 0.2M164.6 574.7l-0.2 0.1M189.8 626.7l0.0 0.0M267.9 610.6l-0.1 0.2M275.8 620.5l0.0 0.1M262.7 575.5l0.0 0.1M234.6 575.5l-0.1 0.1M183.3 568.9l0.0 0.0M193.2 644.6l0.1 0.1M266.1 632.2l-0.2 0.3M217.2 574.8l0.1 0.1M220.8 572.2l0.0 0.0M175.2 645.1l-0.2 0.2M185.6 577.6l0.0 0.1M181.6 633.5l-0.0 0.0M271.0 615.6l-0.3 0.1M188.4 568.1l0.1 0.0M254.5 596.3l0.2 0.1M273.5 576.2l0.0 0.3M254.0 599.5l-0.0 0.1M272.6 640.5l-0.1 0.3M266.7 592.1l0.3 0.1M217.1 575.3l-0.0 0.1M208.8 616.8l0.0 0.1M223.2 646.8l0.1 0.0M201.0 586.0l0.1 0.1M166.1 623.1l0.0 0.2M196.4 608.9l0.0 0.0M223.8 643.1l0.2 0.2M253.5 627.8l-0.0 0.0M276.6 641.0l-0.3 0.3M168.9 643.6l-0.1 0.1M247.2 579.3l0.0 0.0M179.6 578.5l0.0 0.0M224.9 593.2l-0.1 0.1M258.3 619.0l-0.2 0.3M225.7 567.0l-0.0 0.1M174.6 615.0l0.1 0.0M181.0 593.1l0.2 0.0M209.6 611.5l-0.2 0.1M187.2 613.8l0.3 0.2M267.6 603.8l0.1 0.3M214.0 586.0l-0.0 0.0M278.9 613.0l-0.1 0.3M243.0 631.5l-0.0 0.0M250.2 605.8l0.0 0.2M249.1 584.3l-0.1 0.2M188.4 627.2l-0.1 0.4M194.0 604.2l-0.0 0.0M240.0 578.3l0.0 0.2M244.0 610.9l-0.1 0.2M267.1 582.3l-0.0 0.0M240.2 641.7l-0.0 0.3M251.8 604.9l-0.1 0.2M210.6 634.6l0.2 0.2M169.4 583.4l-0.0 0.1M214.1 625.5l-0.2 0.1M191.5 590.8l-0.1 0.1M255.8 640.7l0.3 0.0M203.0 639.9l-0.0 0.0M218.5 587.2l0.0 0.2M214.0 639.1l-0.2 0.1M236.1 593.0l0.1 0.0M266.6 636.8l0.1 0.2M259.7 639.0l-0.0 0.0M235.4 614.5l-0.2 0.3M279.1 610.2l-0.0 0.0M233.3 628.3l0.0 0.2M178.9 588.4l0.1 0.2M219.4 573.4l0.1 0.2M266.1 597.8l0.0 0.0M166.9 628.8l-0.0 0.3M219.7 641.6l0.2 0.1M220.0 601.6l0.1 0.0M223.4 608.0l-0.2 0.2M277.8 576.6l0.2 0.1M203.5 601.3l-0.1 0.0M239.0 644.5l-0.2 0.1M217.8 627.0l-0.0 0.1M277.6 573.9l0.2 0.1M218.9 650.6l0.1 0.3M181.2 594.7l-0.1 0.1M245.0 640.7l0.2 0.0M167.0 567.6l0.1 0.4M214.9 637.6l-0.0 0.2M207.9 593.3l-0.3 0.2M180.1 567.4l-0.0 0.1M270.9 608.4l0.0 0.0M276.1 586.7l-0.1 0.1M220.0 571.8l0.1 0.1M170.4 586.5l0.1 0.0M277.7 630.4l-0.0 0.0" stroke="#461452" stroke-width="1.9" stroke-linecap="round" fill="none" stroke-opacity="0.9"/>
</g>
<clipPath id="c4"><rect x="282" y="569" width="115" height="80"/></clipPath>
<g clip-path="url(#c4)"><rect x="282" y="569" width="115" height="80" fill="#D0C9D5"/>
<path d="M388.5 590.7l0.7 0.3M324.6 577.9l-2.9 0.1M312.2 598.3l1.7 0.7M322.8 621.1l0.3 0.1M359.7 571.8l-0.1 1.0M381.2 624.2l1.0 1.2M319.2 629.1l-0.9 0.6M285.7 610.3l0.5 1.3M355.7 605.9l-2.2 1.1M320.1 587.9l0.2 0.1M332.6 598.0l-0.4 2.0M369.5 629.2l2.5 0.6M368.4 580.6l-1.2 1.9M338.1 585.9l1.6 0.8M313.5 621.1l-0.5 2.6M356.4 587.3l-0.5 0.5M327.8 614.8l0.0 0.8M317.9 623.8l0.7 1.4M280.5 568.7l2.4 0.3M379.7 576.7l-0.0 0.0M335.3 606.4l-0.2 2.6M327.5 619.7l-0.0 0.1M366.5 644.9l-0.3 0.2M378.4 615.0l0.4 2.3M395.2 607.5l-1.2 0.1M297.7 619.6l-0.3 2.8M323.6 582.6l0.1 0.4M318.3 624.8l-2.3 0.2M376.8 609.6l-3.0 0.4M322.6 583.4l0.1 0.0M340.8 613.3l-0.6 0.9M351.4 582.9l-0.0 2.7M301.1 619.0l-1.1 0.1M357.3 600.2l0.4 0.9M312.9 638.3l1.3 1.1M385.6 607.1l1.0 0.2M344.4 571.2l1.6 0.7M294.4 570.9l-1.3 1.0M284.3 604.7l0.0 0.0M314.3 596.5l0.9 0.9M377.4 573.2l-1.0 0.1M317.2 573.6l-1.1 0.4M381.4 619.1l1.6 0.9M349.5 576.2l-1.1 1.2M362.4 634.2l0.1 2.1M392.3 570.1l1.9 2.0M335.6 623.1l0.1 0.1M327.5 586.8l1.1 0.7M340.6 618.6l0.1 0.2M391.2 567.2l0.2 1.2M307.7 568.1l-2.4 0.8M303.2 617.2l-2.1 0.6M292.5 607.3l1.5 0.0M338.5 576.9l0.2 0.0M371.1 649.3l-1.8 1.0M337.3 579.9l1.2 1.4M290.8 635.9l-2.8 0.5M334.6 650.6l0.0 1.0M376.2 598.9l0.2 0.1M390.5 650.9l-2.1 0.6M292.7 634.2l-0.5 0.2M369.3 600.1l-1.5 0.6M347.0 593.8l0.2 2.1M349.4 605.2l0.3 0.0M358.3 632.2l0.9 1.7M309.8 646.1l-2.1 0.7M314.7 583.9l0.3 0.9M336.1 599.9l0.4 0.4M362.6 627.2l-0.5 0.3M312.4 612.1l0.9 2.7M332.5 636.3l-1.3 0.9M358.4 581.2l0.7 1.4M331.8 589.4l0.0 0.1M366.2 642.0l-0.0 0.0M286.1 629.2l-2.5 0.3M308.6 577.0l2.3 1.5M370.5 610.5l-0.3 2.0M354.4 609.4l-2.9 0.1M305.2 574.6l0.4 1.8M307.0 646.2l-0.0 0.6M357.5 586.6l-0.2 0.2M312.9 648.5l2.0 0.9M316.0 569.9l1.5 0.6M369.9 590.3l1.1 1.5M353.5 633.7l0.3 0.4M310.2 602.3l0.3 1.2M357.6 608.2l0.2 0.9M322.8 590.8l1.2 0.4M332.6 571.7l0.5 2.9M312.3 607.7l-0.3 2.1M343.1 642.3l-1.9 0.9M377.4 570.0l0.2 1.0M289.8 601.1l1.2 0.2M396.1 603.3l-0.6 0.3M329.8 631.6l-0.2 0.6M354.3 609.2l-2.5 1.6M319.6 624.1l2.6 0.1M380.6 630.7l-1.7 1.5M377.8 596.7l-0.9 0.7M300.3 598.3l0.2 0.1M347.3 586.5l-0.2 0.8M312.3 571.0l1.8 0.3M387.7 611.4l-0.5 0.1M328.2 627.2l0.0 0.4M353.1 628.5l-1.0 0.4M344.8 611.1l0.2 0.9M357.6 608.8l0.1 0.1M281.1 645.3l2.3 1.4M283.7 638.8l2.4 1.7M318.4 642.2l-1.2 0.5M312.8 600.8l1.3 0.5M326.8 611.3l1.3 0.9M305.0 581.8l-0.1 1.8M352.5 595.2l-2.2 1.7M322.2 649.8l-0.0 0.0M344.8 615.6l-0.7 0.1M294.3 570.2l1.4 0.9M359.9 643.6l1.0 2.1M382.7 598.0l0.2 0.2M341.8 568.3l-1.0 0.9M317.5 588.4l0.1 3.0M328.7 640.4l-0.1 1.6M371.9 619.7l-0.0 1.9M321.3 624.4l-0.3 1.1M327.3 636.3l0.5 0.3M395.7 609.9l1.2 0.8M324.3 596.9l2.3 0.2M380.8 593.5l-0.2 0.5M339.8 618.7l-1.6 0.7M370.7 586.7l-0.3 1.4M334.4 580.9l-2.2 0.8M317.9 619.3l-1.4 1.7M378.6 573.2l0.4 0.4M367.6 649.8l0.1 1.0M319.8 625.9l-0.9 1.3M302.1 575.2l-1.1 0.3M397.0 583.2l0.4 1.0M317.4 569.1l-1.3 0.4M306.4 608.9l-2.5 0.8M327.8 592.8l-0.6 1.8M387.5 602.6l-0.8 1.3M372.9 602.3l0.2 2.5M341.0 585.6l1.5 2.3M311.3 609.1l0.3 2.0M353.1 581.3l-1.7 2.3M311.5 602.7l1.5 0.7M313.5 587.3l-1.1 0.8M378.6 635.2l1.0 0.1M368.6 640.0l1.2 0.5M362.6 609.7l-0.9 0.4M394.3 590.3l1.4 1.2M324.8 633.9l-0.2 0.2M322.5 595.1l0.7 1.4M386.5 616.2l-1.1 1.0M395.7 610.0l-0.1 1.6M347.4 570.7l2.6 0.9M352.9 625.9l-1.1 1.6M322.0 619.1l0.3 1.4M317.7 577.3l1.8 0.3M379.1 607.4l0.7 0.2M335.3 601.7l-0.1 0.1M293.6 587.9l1.5 0.5M394.6 626.2l-0.3 1.0M371.5 616.8l-2.6 1.1M381.2 592.1l0.3 2.7M372.9 598.2l-0.6 0.5M328.9 644.6l-0.6 0.2M381.2 645.5l1.3 0.3M368.0 620.6l-2.7 0.8M308.5 571.7l0.0 0.0M398.8 572.3l-0.2 0.1M378.0 579.6l-1.0 0.2M300.8 579.2l-0.2 0.8M318.9 612.9l-0.4 0.3M290.8 599.3l-2.7 0.7M322.2 620.8l1.3 1.4M315.3 582.1l-0.1 0.2M370.7 632.0l0.0 0.0M322.2 579.2l-0.8 0.6M398.7 618.5l-1.6 1.7M331.3 601.5l0.0 0.9M366.0 621.3l-0.8 0.9M351.2 599.8l-1.3 1.9M315.3 622.7l2.2 0.8M294.4 586.7l-1.3 0.5M390.3 611.7l-1.2 1.0M305.3 581.9l0.2 0.3M322.3 649.4l-0.1 0.2M359.8 622.2l-0.4 1.0M368.3 605.2l0.4 0.5M368.8 646.1l0.2 1.5M316.0 644.5l-1.3 0.7M331.3 626.9l0.1 0.0M361.0 583.9l-2.0 0.3M311.8 598.0l0.5 0.8M334.6 636.0l2.2 1.4M362.5 647.7l0.1 0.1M329.1 601.9l2.2 0.1M281.3 603.6l-0.4 0.2M377.0 600.1l1.6 1.1M343.0 572.1l-2.8 0.7M356.4 580.9l0.8 1.0M341.4 621.0l-0.1 0.3M281.6 591.4l-0.9 1.8M388.4 640.4l0.0 0.0M319.0 583.5l0.6 0.3M356.5 616.3l-0.0 1.2M319.4 634.3l-1.0 0.1M373.2 624.8l-0.6 2.0M318.7 569.2l-0.4 0.0M306.8 644.2l0.5 0.2M351.5 642.5l-0.2 0.4M384.5 648.9l0.5 2.2M390.7 591.3l0.2 0.3M284.6 636.9l1.1 2.7M295.9 639.0l2.5 1.2M380.2 570.6l-0.5 2.7M347.2 647.1l1.8 1.3M399.0 644.5l1.8 2.2M283.7 646.7l-2.0 0.6M382.6 643.9l-0.3 1.3M322.4 631.4l-0.0 0.0M297.2 588.7l-0.8 1.6M327.0 578.3l0.3 1.1M384.2 604.0l-0.0 0.1M382.3 636.3l-0.3 2.1M387.4 635.8l-1.0 0.6M282.3 614.8l-2.0 0.4M339.3 644.2l-0.8 0.7M398.4 641.1l0.3 1.9M281.5 591.6l-2.2 0.8M323.5 588.3l0.0 0.1M323.0 626.8l-0.7 0.5M362.2 650.0l-2.3 0.5M335.0 614.9l0.7 1.7M330.4 578.0l-0.4 1.0M308.4 632.5l2.3 0.8M289.0 607.6l-2.1 0.7M320.3 620.6l-1.8 2.2M281.1 602.7l-0.2 0.1M355.8 627.7l0.4 0.2M331.5 616.0l0.2 1.7M349.5 630.5l-0.2 0.7M385.1 616.1l-0.1 2.5M316.4 581.2l0.2 0.3M397.0 640.1l0.1 0.1M372.1 629.1l1.4 2.0M325.9 643.1l1.6 0.5M340.8 577.9l0.8 1.9M343.8 643.9l-1.4 2.0M288.3 593.6l1.2 0.7M314.4 600.4l0.1 0.4M358.5 624.8l-0.0 0.1M280.4 629.6l1.8 0.0M286.6 573.1l2.2 1.6M282.6 572.3l-1.6 1.4M306.5 599.7l0.3 0.6M347.2 571.3l-0.4 1.9M351.8 604.4l-2.7 0.9M356.1 632.4l-0.0 1.8M358.0 649.8l-0.6 0.1M337.2 568.6l1.6 1.6M286.9 576.4l0.2 0.5M391.1 605.9l-0.0 0.0M302.6 595.1l0.2 1.3M345.5 626.3l-1.4 0.1M351.6 618.8l1.7 1.5M296.9 576.4l0.3 2.6M353.5 585.4l-1.2 1.8M384.7 595.9l-0.3 2.9M398.1 602.9l1.8 1.0M385.9 620.6l-0.5 0.7M345.6 586.9l-1.4 0.5M316.1 588.5l0.0 0.1M381.9 622.1l-1.3 2.1M323.8 606.7l0.6 0.0M303.1 601.7l0.1 0.2M281.8 576.4l0.0 0.0M394.5 630.3l0.2 0.1M371.8 577.6l-0.9 2.8M339.4 601.9l1.4 2.1M391.5 628.4l0.7 0.6M331.9 643.5l0.0 0.0M364.8 620.9l0.4 1.0M310.5 627.9l2.3 1.4M343.4 639.6l0.2 0.2M284.6 579.0l-0.7 0.9M292.5 612.0l-1.5 0.4M391.2 580.1l-0.1 0.6M342.1 588.2l-0.2 0.2M283.1 605.2l-2.1 0.5M356.2 577.6l1.6 1.2M359.4 647.8l-0.5 1.6M326.4 613.1l2.0 0.9M297.1 584.9l0.0 0.2M305.6 597.1l-1.4 0.6M292.9 584.8l2.1 1.6M354.2 643.2l2.2 0.4M354.0 594.9l1.7 1.6M381.8 627.8l-1.2 0.8M330.1 621.7l-0.3 1.6M297.7 597.3l-0.4 2.5M299.2 637.5l0.2 0.1M374.2 575.8l0.8 2.4M309.5 649.1l0.9 0.5M361.4 617.4l0.0 1.2M375.0 646.1l0.8 1.6M367.8 627.9l-1.0 1.3M298.0 601.3l1.1 1.7M377.5 591.7l0.1 0.8M304.2 606.7l-0.2 0.5M286.8 646.2l0.4 1.1M333.1 594.8l2.2 0.3M291.7 625.1l2.4 1.6M301.0 649.5l0.1 0.3M322.6 650.6l-0.5 0.4M397.6 605.7l2.5 1.4M318.1 637.0l0.4 1.1M330.4 571.0l-0.1 0.0M303.1 647.4l-0.0 0.2M313.5 643.3l-0.2 1.0M329.6 629.4l-0.9 1.2M350.2 630.9l0.0 1.6M365.6 582.1l-1.5 1.0M397.7 583.0l-0.3 0.4M350.0 613.3l-2.1 0.3M393.9 591.3l0.1 0.0M286.2 642.4l1.8 1.4M353.5 584.6l-1.2 0.4M380.1 571.2l-1.8 1.1M312.0 593.8l-1.2 0.8M323.9 569.1l2.2 1.0M389.6 619.0l0.7 0.2M361.7 633.7l0.8 1.7M365.4 613.9l-0.2 2.4M338.2 572.7l-2.5 0.4M306.5 623.8l-1.9 0.1M355.4 573.2l-0.7 0.9M300.6 638.2l-1.3 1.4M339.6 608.1l-1.0 1.8M327.7 572.9l-0.8 2.5M313.3 597.0l-0.3 1.5M317.7 594.1l-2.2 0.9M366.4 615.0l0.1 2.2M381.7 568.4l-0.8 0.1M329.7 637.9l1.3 1.0M288.8 598.5l-0.1 0.2M357.8 602.5l1.4 0.9M392.1 609.6l0.1 0.6M352.0 598.7l1.8 0.0M328.7 582.2l-1.2 0.2M373.9 604.4l-0.3 0.0M366.1 604.9l2.2 0.4M298.6 611.2l-0.3 0.5M341.1 618.5l-1.8 2.0M290.9 617.7l-1.7 0.3M361.7 614.3l-0.0 0.1M331.7 649.9l-0.0 2.4M366.5 595.8l0.2 0.9M356.9 624.0l0.0 0.2M353.0 599.6l-1.2 1.8M284.4 634.8l-0.4 0.1M314.2 618.6l-1.6 1.6M363.6 577.2l-2.3 0.4M285.1 570.7l0.9 2.5M353.0 643.5l2.2 0.6M306.6 618.9l1.2 0.1M329.2 638.0l-1.3 1.4M362.5 581.3l-2.9 0.4M353.4 625.3l-2.7 0.4M348.2 570.6l1.6 1.5M308.1 622.2l0.1 0.8M371.8 592.6l-2.5 0.5M389.4 596.8l-1.2 0.1M352.3 650.7l-0.4 0.6M325.6 640.4l-2.6 0.0M371.4 575.7l0.1 0.2M394.9 623.8l0.8 0.6M383.3 626.2l1.2 0.5M379.4 612.0l-2.8 0.2" stroke="#BDB6D0" stroke-width="2.8" stroke-linecap="round" fill="none" stroke-opacity="0.8"/>
<path d="M373.3 602.7l1.0 2.2M348.5 589.5l0.3 0.4M372.5 629.7l1.4 0.1M304.6 576.4l2.0 0.6M354.3 590.4l0.5 0.7M303.5 572.1l0.1 0.9M389.2 630.4l-0.6 0.0M291.4 614.6l-0.5 1.8M375.3 637.9l1.0 0.4M319.7 599.1l0.8 1.2M316.2 618.5l0.6 1.0M332.8 598.8l1.0 0.2M286.2 603.2l-0.6 0.7M312.7 574.9l1.5 0.9M333.4 633.3l-0.1 0.0M390.3 594.2l-0.2 0.9M309.9 625.0l-0.4 1.5M377.6 571.1l0.3 0.1M321.8 609.6l1.4 0.4M390.4 629.5l-0.3 0.3M356.7 629.4l-1.2 0.1M364.3 591.9l-1.4 0.7M396.2 579.8l-0.5 1.0M374.3 606.6l0.9 2.4M362.0 573.1l-1.1 0.1M280.5 637.5l0.2 0.9M386.8 605.5l1.0 1.1M382.2 574.0l0.2 0.3M314.0 648.6l-0.7 2.0M333.1 608.5l-2.4 0.4M351.0 636.5l1.3 2.2M297.3 618.3l-1.8 0.6M380.4 632.3l-0.3 0.6M358.0 603.2l-0.9 2.1M373.9 624.4l-1.0 1.7M383.4 620.4l-0.3 0.3M324.0 614.2l-0.1 2.2M341.0 637.7l0.3 0.3M357.7 604.8l1.0 1.9M305.2 627.9l-0.9 0.5M297.3 622.2l-1.4 1.6M281.5 614.9l1.2 0.9M333.0 568.8l0.2 0.2M320.9 650.5l-0.2 0.8M373.3 602.9l-0.9 1.1M398.9 636.9l0.0 0.2M302.7 644.8l0.9 0.7M296.8 586.1l-1.2 0.8M342.8 636.5l1.5 1.0M345.5 579.0l-0.4 2.0M371.5 572.3l-1.3 1.0M374.1 618.8l-0.2 0.2M322.2 643.8l1.5 0.8M295.6 575.0l-0.3 0.9M358.3 614.6l-0.4 0.2M398.9 614.5l-0.1 0.9M345.5 595.6l0.5 1.5M310.5 620.2l1.4 2.2M349.9 590.9l-0.1 0.1M280.5 595.3l-1.3 1.3M307.6 650.9l-0.1 0.8M387.1 584.6l1.8 1.0M342.5 570.2l0.7 2.2M291.8 641.8l-0.8 0.1M363.7 629.8l-1.2 2.0M392.4 629.9l0.0 0.0M378.6 630.1l0.0 0.1M359.2 580.4l0.2 0.2M389.6 579.9l0.7 0.2M334.9 641.8l0.0 2.3M367.2 614.9l0.1 0.1M374.7 574.1l-1.3 1.5M326.7 627.0l1.4 0.9M387.5 639.7l0.5 0.1M298.6 609.9l-0.1 0.6M315.8 642.2l0.2 0.8M314.0 630.3l0.1 0.0M305.4 600.8l-0.4 1.3M304.2 582.7l1.7 1.1M345.7 630.1l-2.3 0.5M392.0 640.9l-1.3 1.7M325.2 576.3l0.2 0.7M353.4 637.7l-1.3 1.6M374.0 583.6l1.7 0.3M380.0 647.0l-0.6 0.3M291.8 594.2l-1.6 0.0M285.3 645.1l0.3 0.3M393.3 578.0l-1.1 0.2M397.7 617.1l0.1 0.0M365.0 571.1l0.6 0.9M291.0 649.9l-0.0 0.0M355.1 598.0l-1.6 1.5M309.0 614.1l-0.2 1.3M346.8 625.3l-1.1 0.7M363.2 568.5l-1.1 0.5M327.0 581.3l1.0 0.7M289.8 638.0l0.2 0.7M345.9 616.8l1.2 0.5M290.7 629.1l2.2 1.0M307.7 622.1l2.4 0.7M284.2 605.5l0.9 1.2M383.6 606.0l-1.1 0.4M333.9 630.2l2.0 1.2M355.3 599.0l1.0 1.7M392.2 575.9l-0.4 1.5M313.2 593.6l0.1 0.2M329.4 639.3l-0.0 0.1M313.7 617.7l-0.0 0.1M349.5 567.4l0.1 1.1M327.0 582.7l0.0 0.1M346.5 581.9l0.4 1.5M392.5 567.4l0.6 1.5M381.9 616.6l-0.6 0.1M304.7 615.6l-1.3 0.2M389.7 620.3l0.3 0.1M365.8 602.0l0.5 1.4M282.4 635.2l1.9 0.8M329.7 578.1l-0.6 2.4M334.4 597.7l-0.1 0.6M354.4 632.7l0.6 0.5M287.7 584.1l-1.7 0.6M354.7 634.5l0.0 0.0M327.8 574.6l-0.7 0.2M284.4 611.5l-0.5 0.8M389.2 625.6l-0.3 0.3M357.3 585.3l0.2 0.0M347.1 623.0l-0.8 1.0M349.5 622.3l0.7 0.3M350.6 579.9l-0.1 0.2M327.8 609.1l-0.2 0.9M290.3 577.0l-1.1 0.1M386.9 595.6l0.8 2.1M280.0 610.7l2.1 1.1M321.5 592.4l0.2 0.4M367.3 616.5l1.5 0.8M360.7 596.3l0.1 0.0M319.3 629.5l-0.1 1.1M356.7 596.5l-0.0 0.2M326.0 634.3l0.0 0.0M350.4 622.1l-0.9 1.8M365.6 614.4l-2.0 0.9M392.2 622.4l-0.2 1.4M351.7 620.6l-2.0 0.9M352.1 597.2l-1.9 1.7M396.7 572.8l0.0 1.7M317.7 601.5l-1.1 1.0M370.7 649.6l0.2 0.3M324.7 610.8l1.7 0.4M381.3 597.1l0.1 0.6M304.8 575.7l0.2 0.1M369.3 647.4l0.2 0.4M291.1 642.4l-0.8 0.4M377.2 604.7l-0.4 1.1M378.5 637.2l-0.8 2.3M281.7 616.7l-0.3 0.5M323.3 592.5l-2.4 0.9M350.8 650.7l-1.2 1.2M314.1 573.1l-0.8 0.7M313.4 627.4l-1.8 0.3M390.1 613.5l0.5 0.0M306.1 639.1l0.9 1.3M386.3 642.6l-1.4 0.2M379.1 648.5l-0.2 0.5M324.5 646.5l-0.7 1.1M323.3 634.9l1.0 1.6M323.0 648.1l1.7 1.2M339.6 592.5l1.5 0.4M387.5 642.7l2.2 0.4M306.4 616.7l-1.5 2.1M291.9 631.8l0.7 0.6M356.3 627.8l0.1 0.3M340.1 615.9l-1.1 2.3M303.7 618.3l-1.3 0.1M344.3 627.9l-0.4 1.0M322.6 578.1l0.1 0.9M326.7 569.8l0.6 0.3M389.7 598.4l-0.2 0.2M373.9 588.4l-1.3 2.0M382.1 624.7l0.3 1.3M305.8 610.4l1.4 1.9M301.6 631.8l1.2 0.8M301.9 636.4l0.0 0.8M398.1 577.8l-0.4 0.1M327.0 647.9l-0.1 1.9M305.8 590.8l0.1 1.4M354.9 647.1l1.6 1.1M291.3 621.2l0.9 0.0M381.7 611.3l-0.3 2.2M344.9 609.6l-2.1 0.9M340.5 584.5l-1.5 0.2M392.3 605.6l-2.2 0.7M350.7 606.2l0.7 0.2M342.6 577.0l1.2 0.5M302.9 643.5l-0.9 2.1M383.6 630.3l1.1 0.6M394.8 571.5l-0.8 0.0M345.3 632.1l0.5 1.3M380.0 647.0l0.1 0.0M369.0 644.0l-0.3 1.4M352.2 573.1l-2.1 0.1M373.4 643.7l0.3 0.7M356.0 632.8l0.4 0.5M306.1 625.8l0.7 0.3M361.1 611.4l-0.5 0.3M329.8 596.9l-0.1 0.1M369.1 640.0l0.7 1.3M347.0 581.3l-0.2 0.1M360.2 618.6l-0.6 1.1M324.1 577.7l-0.2 0.7M386.0 602.9l1.0 0.0M334.8 569.7l1.3 0.3M338.0 632.8l-1.3 0.6M283.2 626.1l0.3 0.4M288.7 641.9l0.5 0.9M380.7 605.5l-2.2 1.0M290.6 618.3l-0.2 0.1M323.1 618.5l-2.0 0.0M352.8 576.4l0.7 1.3M398.4 573.9l0.6 0.1M300.5 648.5l-0.6 0.9M316.8 601.3l-0.4 1.9M359.1 584.5l0.1 2.1M285.7 585.8l1.2 0.9M291.4 633.2l0.8 0.9M364.7 622.2l-0.3 1.5M375.5 644.3l0.1 1.5M284.9 632.9l0.1 0.1M322.6 614.4l0.0 0.8M304.7 592.9l0.7 2.2M367.8 642.7l-0.4 0.6M323.1 593.7l-1.6 0.9M386.2 619.5l-0.1 2.4M319.2 621.9l1.5 0.5M386.2 627.9l1.1 1.9M303.1 571.0l0.1 0.9M343.3 629.6l0.2 0.6M337.6 640.5l-1.9 0.2M329.7 585.6l-0.0 0.1M384.9 572.2l-1.0 2.3M324.7 589.3l2.1 1.1M338.5 650.9l-0.3 2.3M283.0 642.2l-0.3 0.1M389.7 592.5l-0.1 0.4M282.7 579.0l-1.9 0.9M305.8 606.4l-1.5 0.6M386.7 623.0l-1.8 1.9M291.3 603.9l-0.1 0.5M352.6 577.2l0.2 0.9M386.6 608.1l1.2 0.3M292.1 618.2l-0.1 0.2M304.6 606.0l-1.2 1.2M387.9 616.1l1.9 1.6M381.7 579.9l-0.1 2.0M367.1 614.4l-1.8 0.1M287.4 620.3l-0.8 0.3M360.6 584.0l0.4 0.3M362.6 599.1l-0.6 0.7M367.9 645.7l0.8 0.3M380.2 584.4l2.3 0.6M291.5 582.9l-0.8 0.3M327.9 595.0l0.9 2.3M326.1 590.9l-1.1 0.8M381.7 644.1l-0.8 0.7M394.9 600.2l0.1 0.1M340.9 596.4l-0.9 1.5M396.9 583.4l-0.1 0.2M312.9 596.5l-0.5 0.1M320.3 646.8l-1.6 0.0M299.3 599.6l-0.9 0.1M311.1 640.6l-0.4 0.2M293.6 581.7l1.4 0.8M293.9 629.7l-0.5 1.4M293.7 645.4l-0.1 0.2M286.2 605.2l-0.9 0.8M373.7 601.5l-1.2 0.3M339.2 628.8l0.9 0.9M307.3 584.8l1.4 1.8M381.8 607.1l-0.8 0.8M289.4 568.9l-0.1 0.4M299.6 581.3l-0.3 0.0M347.7 616.4l-0.3 2.0M352.4 627.4l0.4 0.0M373.1 599.6l-0.6 0.1M323.7 622.1l-0.7 1.0M391.5 629.1l-0.5 0.1M325.1 636.5l0.4 1.1M304.4 601.2l0.2 0.0M335.7 627.7l-1.7 0.5M286.5 613.0l0.3 1.5M304.7 569.9l-1.7 1.5M343.2 628.8l-0.3 0.4M326.7 646.3l-0.3 2.1M392.2 585.2l2.1 0.3M377.3 584.5l0.3 0.2M339.5 587.2l-0.1 1.8M338.8 599.2l0.5 1.1M319.6 598.9l0.9 0.5M361.8 570.0l-1.2 0.4M301.0 604.5l-0.7 1.9M349.3 602.0l0.5 0.4M357.4 593.7l0.4 0.2M364.7 646.1l1.1 1.6M282.6 598.6l0.7 0.2M330.8 575.2l-0.8 0.3M327.4 647.6l-0.1 0.2M284.7 572.8l-0.3 0.3M310.5 589.3l-0.1 0.4M390.1 633.4l0.6 0.5M282.1 580.6l-1.2 1.7M316.2 624.7l-0.4 0.6M370.3 578.8l-0.3 1.9M332.8 609.5l-1.3 0.6M398.4 623.6l-0.1 0.4M296.6 593.6l-1.2 2.2M371.6 596.2l0.8 0.3M329.4 610.8l1.1 1.8M322.1 605.0l-2.5 0.5M331.8 593.0l0.1 0.0M357.0 622.4l-0.3 2.2M355.7 604.2l-0.5 0.0M391.7 571.4l-1.5 1.1M318.5 593.5l-1.6 0.8M368.7 634.6l1.2 1.8M388.1 601.0l0.8 1.3M288.7 587.1l1.3 1.8M381.7 612.9l1.2 1.2M384.1 602.8l-1.1 0.2M319.8 588.5l1.7 0.4M317.4 575.1l-0.0 1.9M318.6 604.2l-1.9 1.0M296.7 636.6l-1.2 1.1M306.7 600.9l-0.0 0.0M398.2 644.9l-0.4 1.5M358.1 648.5l-0.5 0.5M352.4 598.0l1.6 0.4M392.1 578.3l0.5 2.5M377.3 568.2l-0.8 1.7M318.0 612.5l1.7 1.6M332.3 596.8l-0.0 0.0M348.7 638.9l-0.6 0.4M316.2 607.6l0.5 0.5M382.0 638.9l0.3 0.0M373.9 603.7l0.1 0.0M322.8 625.7l-0.5 0.2M390.8 591.5l-1.1 0.1M372.3 607.6l0.9 0.1M299.3 621.8l-1.3 0.4M388.0 617.8l-1.6 1.6M394.0 630.8l0.0 0.6M347.6 606.6l-0.0 2.0M358.0 626.0l0.9 1.6M301.5 596.9l0.9 2.0M337.2 621.5l-0.1 0.1M381.3 649.1l0.9 1.1M339.5 632.5l1.3 1.6M337.9 600.1l1.1 0.1M335.8 600.8l1.8 0.8M341.5 625.2l-0.8 0.5M325.6 593.8l-1.0 0.5M296.1 627.9l1.3 2.0M305.5 635.1l1.0 1.7M380.3 589.6l-0.8 1.2M284.1 595.0l1.4 1.4M287.9 646.1l-1.2 1.1M297.4 620.4l-0.1 0.0M388.6 614.1l0.6 0.4M330.1 580.0l0.2 0.8M314.3 622.2l-0.0 0.0M351.7 568.5l-1.5 0.6M352.1 635.6l-1.6 1.3M297.9 635.0l-1.1 2.0M378.1 597.2l-0.7 0.3M333.6 618.6l-0.8 0.0M316.3 631.7l0.7 0.3M350.3 606.6l-0.1 1.4M324.8 591.4l0.5 0.3M340.2 618.1l1.8 0.2M373.9 581.8l-0.4 1.4M391.1 597.3l-0.4 0.5M317.9 609.6l0.9 0.7M372.2 575.6l0.0 0.1M289.9 568.1l1.1 0.7M362.7 641.5l-0.8 1.2M387.9 593.0l-0.9 1.4M345.1 633.6l0.8 2.2M300.1 583.7l0.4 2.2M390.3 584.2l0.9 2.0M346.8 637.9l0.9 2.0M384.5 579.6l1.3 2.1M364.3 595.2l0.2 1.0M337.8 599.8l-1.5 0.7M347.5 647.4l1.3 1.7M386.9 649.3l1.0 0.2M382.1 615.7l-1.2 1.6M366.1 585.5l1.6 0.5M374.4 630.5l-0.0 1.4M380.5 589.6l-0.3 0.4M373.8 597.0l0.3 0.6M356.4 633.2l1.4 0.5M378.8 586.3l0.0 0.0M297.2 602.5l0.2 0.1M373.4 634.9l0.6 1.1M301.8 579.7l1.9 0.4M289.1 599.8l-1.4 0.6M379.6 623.7l-0.9 0.9M300.5 620.9l-1.9 1.2M363.9 597.1l0.0 0.1M395.0 579.1l0.5 2.5M379.5 648.8l-0.2 0.1M322.6 639.9l0.1 1.3M376.6 621.2l0.1 0.2M331.8 636.9l1.5 0.1M316.3 590.4l1.0 0.0M313.6 574.3l2.1 0.3M396.6 586.9l-1.5 1.3M380.1 617.7l-1.2 1.7M389.9 597.8l-0.3 1.4M362.8 578.1l-0.2 0.1M296.8 595.6l-0.0 0.7M372.7 574.2l-0.2 0.4" stroke="#9A96C6" stroke-width="2.0" stroke-linecap="round" fill="none" stroke-opacity="0.85"/>
<path d="M388.9 602.7l-0.2 0.2M386.1 571.5l-0.4 1.6M334.3 616.5l0.0 0.2M359.9 629.5l0.7 1.3M294.8 567.6l0.6 0.4M365.7 621.3l-0.0 0.0M334.1 599.3l-1.0 1.5M290.0 567.7l-0.1 0.3M358.9 619.6l-0.2 0.3M397.5 640.2l-0.9 0.6M309.7 640.9l1.1 1.4M289.5 620.8l1.5 0.4M375.7 577.5l-0.4 1.9M327.8 573.7l-1.4 0.9M324.1 582.0l0.4 1.0M315.8 567.3l-0.7 1.1M376.3 644.0l0.0 0.0M334.1 609.1l-0.1 0.3M319.1 594.7l1.4 1.3M398.7 590.4l-1.6 1.1M321.7 612.2l0.8 0.6M282.5 623.2l0.0 0.0M309.6 594.1l1.8 1.1M327.1 597.9l0.3 0.9M294.3 605.9l-0.8 0.5M285.5 609.8l0.4 0.1M372.4 589.6l0.2 0.3M301.6 592.3l-0.1 0.0M318.8 638.7l-0.3 0.1M374.1 646.9l-1.5 1.1M303.6 648.6l0.2 0.8M391.0 603.7l-0.6 1.2M282.4 578.8l-0.3 0.1M293.0 592.6l-1.6 0.5M291.2 625.0l-0.0 0.0M304.3 611.8l0.0 0.6M318.4 631.8l0.1 1.9M330.0 619.4l-1.9 1.2M389.3 603.8l0.5 1.1M387.0 571.3l1.0 1.4M356.1 630.1l-0.2 2.2M306.3 639.7l-2.0 0.1M304.7 614.7l-0.1 0.1M391.8 634.3l0.4 1.8M360.8 627.1l1.4 0.3M371.4 636.1l0.8 0.1M305.4 601.3l1.6 0.8M359.3 632.9l1.7 0.6M335.2 647.0l-0.4 0.6M358.1 648.7l0.1 0.5M382.3 592.1l0.4 0.0M378.5 644.3l0.6 0.6M286.4 634.6l0.5 1.9M384.4 586.1l0.4 0.1M331.2 615.9l-0.2 0.4M297.0 629.7l-1.2 0.9M299.4 609.8l0.0 2.0M360.6 580.3l-0.2 0.4M354.6 646.3l0.3 2.0M292.7 623.8l-0.5 0.9M387.5 647.7l0.4 0.1M384.3 579.3l1.6 0.1M302.8 616.9l-1.5 0.4M295.7 624.2l-0.8 1.5M295.8 567.8l-1.5 0.2M336.6 611.9l0.2 0.8M380.2 579.8l-0.2 1.2M396.9 632.8l0.2 1.0M383.4 597.8l1.1 0.4M319.2 575.8l0.1 0.3M345.5 597.1l0.2 1.9M352.1 606.6l-1.9 0.8M323.3 626.8l-0.3 0.1M365.4 649.7l0.8 1.4M391.2 595.5l0.7 0.7M356.5 596.3l-0.1 0.0M389.4 600.4l0.1 0.1M375.1 645.6l-0.7 1.9M284.2 649.7l-0.5 0.1M348.9 578.0l-0.3 0.4M356.7 612.5l-0.3 1.5M281.9 612.6l-0.8 1.4M338.8 609.6l0.4 2.0M389.7 648.0l0.1 0.7M323.4 593.9l1.7 0.0M280.6 607.1l0.4 0.1M328.4 641.1l-0.6 1.1M361.8 601.4l1.4 0.8M332.9 631.3l0.4 0.0M352.6 620.6l1.4 0.6M293.6 594.1l2.0 0.3M289.2 585.9l-1.0 0.1M385.8 636.4l1.0 0.4M377.4 599.9l0.1 0.2M282.4 577.5l0.9 1.5M349.1 585.9l0.2 0.1M367.3 622.3l0.3 0.8M367.7 594.2l-1.3 0.2M280.6 621.1l0.8 0.6M324.3 631.2l-1.0 1.1M323.9 617.8l0.7 0.2M321.0 601.2l1.1 1.3M320.5 581.8l-1.5 0.5M305.4 609.3l0.3 1.0M343.6 608.7l0.7 0.8M343.8 609.6l-0.7 1.1M363.5 583.2l-1.0 0.8M395.4 571.7l1.0 1.5M310.6 584.5l1.2 1.2M386.0 572.0l0.5 0.8M292.5 576.9l0.1 1.2M387.9 593.3l0.8 0.4M317.1 570.8l-0.7 0.7M352.7 589.9l-2.0 0.4M308.8 570.0l0.5 0.9M327.3 648.4l1.5 0.7M309.0 597.8l0.0 0.1M393.4 590.8l-1.6 0.0M310.1 617.9l0.0 1.2M366.0 585.9l1.9 0.4M361.6 588.6l-1.9 0.4M339.2 644.2l0.4 1.2M303.6 581.4l-0.4 0.7M384.8 618.8l0.7 0.4M366.6 647.2l-0.6 0.1M311.2 583.4l-1.8 0.2M330.7 600.2l-0.9 0.2M397.1 627.3l-1.1 0.3M396.3 639.7l0.0 0.1M353.7 628.1l-0.0 0.1M310.3 640.3l-0.2 0.7M288.9 645.7l-0.8 1.8M310.8 596.7l-0.9 1.5M375.6 578.3l-0.7 1.0M324.0 611.0l-0.4 0.8M325.5 644.3l0.3 0.2M355.8 603.3l1.7 1.4M369.2 625.3l-0.2 0.4M383.0 645.7l-0.7 0.8M359.6 633.7l-0.2 0.9M397.7 583.4l0.2 0.4M353.4 625.9l0.5 0.3M394.9 614.4l-1.5 0.1M298.7 578.5l1.3 0.4M397.8 633.6l0.1 0.1M283.0 571.9l1.0 0.2M357.8 614.4l0.3 0.6M334.1 600.5l2.0 0.7M385.6 622.8l0.7 0.4M284.1 638.9l-0.4 0.1M309.4 592.7l0.1 0.5M292.1 613.8l-2.0 0.1M315.4 636.1l0.2 1.7M387.8 617.7l-0.7 1.3M394.3 598.6l-0.6 0.2M329.2 582.0l1.4 0.2M390.6 601.7l0.3 0.4M387.0 628.4l1.5 0.2M291.6 622.5l-1.9 0.7M394.2 617.7l-0.2 0.6M337.4 619.7l0.1 1.0M292.9 619.7l0.0 1.2M298.6 632.2l-1.3 0.9M358.0 574.7l-1.5 0.2M366.1 586.2l-0.9 0.1M321.3 572.1l-0.1 0.1M317.0 607.4l-0.5 1.1M305.5 604.9l-0.9 0.6M360.1 642.6l-0.8 0.3M338.6 580.2l-0.4 0.1M328.2 610.5l-0.6 1.8M381.4 609.9l1.0 0.6M298.5 615.8l0.8 0.5M345.4 577.1l1.5 1.2M389.3 622.0l-0.0 0.0M393.6 623.9l-0.2 0.3M371.0 622.3l0.8 0.4M369.1 569.4l-1.4 0.3M318.5 645.8l0.5 0.1M343.2 611.8l-0.6 1.4M320.6 633.2l0.6 0.4M315.2 604.0l0.4 0.3M358.9 567.7l1.1 0.0M350.9 576.6l-0.1 0.1M311.5 645.0l0.6 0.1M293.0 594.4l-0.1 0.1M321.9 620.9l-0.0 0.8M350.8 574.6l-2.1 0.2M365.6 605.9l0.7 0.5M360.6 639.1l0.8 1.1M353.6 635.2l0.6 0.3M332.5 642.6l1.9 0.8M291.0 605.8l-0.4 1.5M292.2 624.8l0.2 0.3M326.0 585.3l-0.3 0.5M308.3 592.0l-0.4 0.2M350.2 600.8l-0.2 1.9M324.9 612.8l-0.6 0.1M398.0 582.8l-1.7 1.2M354.3 599.1l-1.5 0.4M309.0 581.6l-1.1 1.6M342.9 570.3l-0.7 1.7M394.3 618.0l-0.2 0.4M331.3 594.1l0.1 0.2M286.2 581.2l1.4 0.7M357.1 588.2l0.9 0.4M391.8 572.7l-0.5 0.9M397.0 616.0l0.1 0.4M309.9 609.5l1.1 0.5M392.0 624.3l-0.6 0.0M361.6 647.4l1.3 0.8M337.0 602.7l0.1 0.0M369.3 583.1l1.1 0.2M293.7 593.1l0.1 0.3M359.8 588.3l0.1 0.1M304.3 623.5l1.0 1.3M368.5 595.9l0.2 0.1M372.0 634.6l1.4 1.2M319.2 571.9l-0.9 0.3M288.2 601.3l-1.2 0.6M302.4 649.9l-1.0 1.7M360.4 593.4l0.4 0.4M375.3 577.3l1.2 0.2M284.1 607.3l1.0 0.2M296.8 598.0l-1.9 0.5M398.4 633.2l0.3 1.8M336.4 624.5l-0.0 0.1M346.8 595.3l-0.6 1.7M391.6 572.8l0.5 1.0M329.7 604.6l0.6 0.4M300.7 585.0l1.6 0.5M345.9 587.8l-2.0 0.2M293.1 648.0l-1.7 0.7M356.0 601.9l0.4 0.9M361.9 598.7l1.0 0.6M324.4 646.0l-1.1 0.2M374.7 611.5l-0.8 1.2M390.4 581.8l0.1 1.3M329.2 644.7l0.3 0.8M361.8 648.9l1.3 0.2M340.4 632.9l0.9 0.5M363.7 603.6l-0.2 0.7M294.8 581.0l-1.3 0.4M337.7 614.5l0.0 2.0M281.9 629.8l0.7 0.6M319.8 616.8l-0.7 0.3M341.4 569.3l1.5 0.9M284.1 572.8l0.8 0.2M301.8 633.9l-1.3 0.5M378.5 579.4l-0.2 0.5M362.7 636.5l-0.3 0.1M302.6 623.3l0.5 1.3M297.9 646.0l-0.5 0.5M373.9 598.9l-1.6 0.5M341.4 646.6l0.0 0.4M332.4 604.9l-1.3 0.9M301.2 632.9l-1.1 1.2M329.2 650.4l-1.2 0.6M304.9 599.5l0.1 0.0M331.5 596.3l0.8 0.5M394.0 635.0l-0.6 0.1M331.2 570.5l0.0 0.1M382.3 625.2l-1.3 1.0M356.7 643.1l-0.4 1.5M374.9 620.9l-1.9 0.3M321.4 647.5l0.9 1.0M382.0 588.6l-0.5 0.6M367.1 604.0l-2.0 0.3M393.0 631.4l-1.2 0.9M322.5 634.6l0.9 0.3M352.3 571.1l-0.3 0.6M340.3 604.2l-0.2 1.4M373.4 610.5l0.3 2.0M296.8 619.3l0.9 1.1M295.2 626.7l0.5 0.5M292.2 639.1l-0.0 0.6M310.4 623.1l0.1 1.0M398.9 648.9l-0.3 2.1M384.5 595.2l2.1 0.4M330.0 590.6l0.1 0.1M292.8 628.2l0.2 0.2M338.4 633.0l0.0 1.8M362.2 638.0l-1.0 1.6M362.1 647.9l-0.8 1.2M283.1 626.0l-0.1 0.1M285.4 594.8l-0.4 0.3M319.5 628.0l-0.0 0.5M357.4 589.5l0.7 0.4M322.5 630.7l-1.2 0.1M388.5 604.9l-0.0 0.4M313.1 618.3l0.2 0.3M368.5 636.0l-2.1 0.4M371.0 575.2l-0.0 0.1M354.8 632.0l0.7 1.9M292.6 642.0l-0.3 2.2M389.8 587.6l-1.2 0.2M398.0 596.9l1.9 0.6M319.8 598.9l-0.8 0.1M333.7 642.5l0.3 0.1M330.8 634.5l1.7 1.1M327.6 622.7l0.0 0.1M398.1 584.8l1.2 0.7M340.0 630.1l-0.5 1.3M290.2 626.0l-0.0 0.2M331.5 631.9l-1.6 1.2M287.5 620.3l-0.1 0.3M302.5 620.3l1.4 0.2M398.8 605.9l-1.6 1.1M384.6 624.0l0.8 1.4M370.9 629.7l-1.8 0.7M321.2 634.1l-1.1 0.2M377.5 609.9l-0.3 0.7M285.0 651.0l0.4 0.5M398.4 629.9l1.0 1.9M392.6 616.6l0.1 0.5M309.4 602.5l-1.7 0.6M348.0 627.0l0.5 0.4M302.7 572.0l-0.6 1.8M280.2 641.2l0.6 0.1M301.0 573.8l-0.1 0.3M394.5 584.9l1.3 1.8M322.4 630.2l-1.4 0.7M283.4 620.5l0.0 0.1M390.2 627.3l1.1 1.9M289.7 627.8l-1.7 0.2M282.1 593.8l-1.4 0.2M388.7 581.4l-0.5 0.4M283.0 635.8l-0.0 0.0M292.1 576.4l0.2 0.0M293.2 625.4l0.9 0.2" stroke="#6E6EB2" stroke-width="1.7" stroke-linecap="round" fill="none" stroke-opacity="0.9"/>
<path d="M318.2 594.4l-1.1 0.2M386.9 568.4l0.0 0.3M387.5 604.3l0.8 0.6M281.9 636.8l0.4 0.2M343.2 601.4l-0.1 0.5M319.2 588.6l-0.3 0.5M363.5 643.3l-0.7 0.1M350.0 605.1l-0.0 0.8M394.6 601.8l-0.9 1.1M292.5 628.1l0.8 0.3M341.7 571.0l1.3 0.1M311.4 619.7l-0.2 0.1M367.9 647.6l0.5 0.1M378.7 641.6l-0.2 1.3M364.3 605.9l0.4 0.5M315.5 570.1l0.9 0.9M394.1 630.8l1.0 0.5M287.2 649.9l-0.2 0.8M355.1 590.9l0.0 0.1M328.0 638.2l-0.4 0.9M309.2 581.9l-0.1 1.5M297.4 639.5l-1.2 0.0M293.1 644.9l-0.4 0.9M384.7 578.4l1.1 0.1M318.5 576.0l-0.8 0.6M338.7 570.3l0.4 0.1M312.5 631.2l-0.9 0.8M377.3 598.5l-0.6 0.1M312.5 622.5l-0.0 0.3M387.3 606.8l0.7 0.8M389.9 609.5l0.3 1.0M299.2 626.0l1.4 0.3M291.9 588.0l-0.5 0.1M291.3 585.4l-1.2 0.9M358.3 602.7l0.1 0.1M296.8 571.8l0.7 1.0M280.4 620.4l0.0 0.0M286.2 588.6l-0.4 0.2M327.0 586.3l-0.5 1.0M355.1 584.1l1.3 0.2M371.3 650.5l-0.8 0.0M361.0 620.3l1.1 0.0M345.9 571.3l-0.0 0.0M314.8 574.3l0.1 0.3M391.7 601.6l-0.1 0.1M365.1 579.0l0.5 0.0M376.7 620.3l-0.2 0.1M315.3 599.7l0.4 1.4M392.8 646.0l-0.1 0.5M290.5 592.2l0.9 1.0M291.1 607.0l0.5 1.1M335.5 595.6l-0.2 0.0M358.1 619.5l-1.1 0.9M391.9 591.9l-0.4 0.3M300.6 573.2l-0.6 0.6M323.5 600.1l0.1 0.4M314.4 649.9l-0.3 0.5M344.3 583.6l-0.2 0.6M295.9 615.5l-0.4 1.2M372.7 576.7l-0.6 0.9M296.6 596.6l-0.1 1.4M373.4 571.9l0.3 0.1M379.6 605.0l0.7 0.8M293.6 620.9l0.7 0.5M329.7 617.4l-0.1 0.1M362.0 650.4l-0.3 0.8M317.3 572.5l-0.4 0.1M363.5 647.9l0.1 0.1M338.5 575.4l-0.1 0.8M297.5 575.2l-0.3 0.3M335.3 616.5l1.1 0.6M329.1 623.2l0.5 0.6M345.7 645.5l-0.6 0.8M383.9 604.3l-1.0 1.0M366.5 572.4l-1.0 1.0M362.7 572.1l-0.7 0.1M371.4 645.2l0.1 0.0M310.1 638.4l-0.7 0.4M368.1 621.0l1.3 0.1M343.0 649.2l1.4 0.1M368.1 642.6l-0.1 0.2M331.7 640.4l0.7 0.8M374.1 570.6l-0.3 0.0M339.1 645.9l-0.6 0.5M371.7 574.1l0.1 0.7M314.6 648.6l0.1 0.2M377.0 637.8l-0.9 0.1M293.5 648.0l0.2 0.4M346.1 642.0l0.4 0.8M292.2 568.5l-0.0 0.1M395.4 587.5l0.6 0.2M330.4 593.2l0.0 0.7M392.1 606.1l-0.1 1.2M384.5 575.7l-0.8 0.7M280.6 619.4l0.4 1.3M385.4 596.7l-0.0 1.1M388.1 603.1l-0.4 0.3M333.8 645.0l-1.2 0.3M375.3 637.2l0.0 0.6M343.5 623.3l-0.6 0.2M300.1 617.6l-0.0 0.1M301.5 644.1l-0.4 0.8M286.0 582.0l0.2 0.4M361.2 583.6l-0.9 0.3M313.6 585.9l0.5 0.8M376.0 639.5l0.3 0.1M365.6 582.8l-0.1 1.1M375.2 579.1l0.3 0.8M331.4 578.4l-0.4 0.6M307.6 614.1l-0.2 0.2M396.1 645.2l0.7 0.1M363.6 583.0l0.6 1.1M367.5 583.4l-0.0 0.0M293.5 620.7l0.7 0.6M284.7 570.5l-0.4 0.7M370.2 637.3l0.0 0.0M354.9 618.8l0.6 0.3M318.9 614.9l-0.9 0.0M292.1 620.8l-0.3 1.0M281.8 590.7l0.9 0.6M313.8 575.1l0.8 0.6M384.5 637.4l-0.2 0.0M314.1 606.3l-1.1 0.4M346.5 575.5l0.4 0.7M362.7 594.1l-1.5 0.2M367.3 596.5l0.4 0.0M362.1 586.6l0.7 1.2M335.0 607.5l0.0 0.1M346.6 614.4l0.1 0.5M321.7 633.0l-0.2 0.0" stroke="#44449A" stroke-width="1.4" stroke-linecap="round" fill="none" stroke-opacity="0.9"/>
<path d="M283.2 618.0l-0.2 1.4M303.5 588.1l0.8 0.9M327.6 613.8l0.1 0.1M338.8 620.9l0.2 0.0M377.8 594.2l-0.5 0.3M289.5 647.0l0.4 0.3M291.2 646.6l0.6 0.8M317.9 617.1l0.0 0.9M396.5 632.9l-1.2 0.4M326.1 619.3l-0.5 1.3M353.1 615.9l-1.1 0.2M322.6 641.7l0.4 0.3M292.8 568.8l-1.0 0.7M381.1 623.5l-0.8 0.7M300.3 592.9l0.9 1.6M365.0 628.3l-0.5 0.3M388.5 583.1l-1.3 0.7M333.1 641.6l-1.6 0.2M290.2 590.3l0.1 0.7M374.0 640.2l0.1 0.2M335.8 640.7l0.4 0.3M303.9 589.1l-0.6 0.0M391.2 609.1l0.3 1.6M291.0 644.4l0.3 0.9M321.2 630.5l-0.0 1.6M378.6 581.3l-0.6 0.1M349.3 601.4l-0.9 0.9M320.9 570.1l-0.1 0.0M361.2 570.5l0.5 0.2M289.7 634.3l2.0 0.1M359.9 628.4l1.0 1.1M399.0 625.3l0.0 0.6M307.9 607.3l-1.2 1.4M372.1 625.9l-0.3 0.8M337.6 623.0l0.0 0.9M355.5 594.3l-0.8 1.1M345.9 593.3l-0.4 0.3M351.0 572.8l-1.1 0.7M398.4 638.7l1.0 1.6M385.3 643.2l-1.6 0.5M379.8 619.4l-0.0 0.0M391.9 611.3l-1.2 1.1M384.6 601.8l-0.1 0.1M382.5 595.9l-1.0 1.2M363.4 617.4l0.1 0.1M356.0 582.7l-0.2 0.8M379.0 569.2l-0.5 1.5M397.9 616.3l0.7 0.5M313.2 642.2l1.0 0.8M391.9 640.4l1.3 0.1M396.0 589.2l-0.9 0.8M381.1 597.9l0.3 0.7M394.6 580.7l0.0 0.0M302.4 610.6l-1.0 0.6M393.1 576.9l0.4 0.5M335.5 638.3l0.7 0.0M355.1 573.1l1.1 0.5M331.0 645.3l-0.9 0.4M328.6 575.3l-1.0 0.4M335.7 586.0l0.3 0.3M356.8 616.0l-0.7 0.3M309.6 593.6l-0.1 0.1M356.9 602.8l-0.6 0.6M308.9 599.8l-0.4 0.3M357.3 585.2l1.6 0.9M382.0 649.7l1.9 0.5M309.9 650.0l-0.1 0.4M355.9 617.2l-0.6 1.2M317.3 590.5l-0.7 0.0M338.6 586.4l0.1 1.4M352.4 621.1l-0.8 0.1M361.6 629.2l-0.5 0.9M349.6 590.1l-0.3 0.5M382.3 579.7l0.2 0.1M392.4 606.9l-1.0 0.1M325.5 603.8l0.4 0.4M380.7 571.2l-0.3 0.5M388.1 576.0l0.2 0.0M324.7 622.5l0.0 0.5M341.1 606.1l0.3 2.0M298.9 632.8l0.8 0.5M396.6 642.5l-0.6 1.2M294.9 624.6l0.4 1.7M395.5 625.9l-1.7 1.0M367.4 586.4l-1.2 0.1M283.0 603.3l0.4 0.2M350.6 595.7l-0.8 0.1M357.6 615.6l-0.5 0.1M340.5 628.2l-0.5 1.3M385.4 632.6l-0.6 0.2" stroke="#DCD6DC" stroke-width="2.2" stroke-linecap="round" fill="none" stroke-opacity="0.8"/>
</g>
<polygon points="49.6,183.3 49.6,59.2 66.5,68.5 83.4,84.2 100.3,70.8 117.2,69.2 134.1,23.8 150.9,83.8 167.8,45.8 184.7,61.5 201.6,66.8 218.5,96.3 235.4,49.1 252.3,80.2 252.3,183.3" fill="#C41230"/>
<polygon points="49.6,183.3 49.6,81.1 66.5,82.6 83.4,103.4 100.3,100.5 117.2,86.9 134.1,53.5 150.9,112.3 167.8,56.2 184.7,95.1 201.6,104.0 218.5,109.1 235.4,69.2 252.3,105.2 252.3,183.3" fill="#115284"/>
<path d="M39.2 15.1V191.2H261.8" fill="none" stroke="#222" stroke-width="1.1"/>
<path d="M36.2 183.3H39.2" stroke="#222" stroke-width="1"/>
<text x="33.4" y="186.8" font-size="7.8" text-anchor="end" fill="#1a1a1a">0</text>
<path d="M36.2 135.0H39.2" stroke="#222" stroke-width="1"/>
<text x="33.4" y="138.5" font-size="7.8" text-anchor="end" fill="#1a1a1a">5</text>
<path d="M36.2 86.8H39.2" stroke="#222" stroke-width="1"/>
<text x="33.4" y="90.3" font-size="7.8" text-anchor="end" fill="#1a1a1a">10</text>
<path d="M36.2 38.5H39.2" stroke="#222" stroke-width="1"/>
<text x="33.4" y="42.0" font-size="7.8" text-anchor="end" fill="#1a1a1a">15</text>
<path d="M49.6 191.2V194.4" stroke="#222" stroke-width="1"/>
<text transform="translate(53.6,200.0) rotate(-45)" font-size="8" text-anchor="end" fill="#1a1a1a">CCL5</text>
<path d="M66.5 191.2V194.4" stroke="#222" stroke-width="1"/>
<text transform="translate(70.5,200.0) rotate(-45)" font-size="8" text-anchor="end" fill="#1a1a1a">CD27</text>
<path d="M83.4 191.2V194.4" stroke="#222" stroke-width="1"/>
<text transform="translate(87.4,200.0) rotate(-45)" font-size="8" text-anchor="end" fill="#1a1a1a">CD274</text>
<path d="M100.3 191.2V194.4" stroke="#222" stroke-width="1"/>
<text transform="translate(104.3,200.0) rotate(-45)" font-size="8" text-anchor="end" fill="#1a1a1a">CD8A</text>
<path d="M117.2 191.2V194.4" stroke="#222" stroke-width="1"/>
<text transform="translate(121.2,200.0) rotate(-45)" font-size="8" text-anchor="end" fill="#1a1a1a">CMKLR1</text>
<path d="M134.1 191.2V194.4" stroke="#222" stroke-width="1"/>
<text transform="translate(138.1,200.0) rotate(-45)" font-size="8" text-anchor="end" fill="#1a1a1a">CXCL9</text>
<path d="M150.9 191.2V194.4" stroke="#222" stroke-width="1"/>
<text transform="translate(154.9,200.0) rotate(-45)" font-size="8" text-anchor="end" fill="#1a1a1a">CXCR6</text>
<path d="M167.8 191.2V194.4" stroke="#222" stroke-width="1"/>
<text transform="translate(171.8,200.0) rotate(-45)" font-size="8" text-anchor="end" fill="#1a1a1a">HLA-E</text>
<path d="M184.7 191.2V194.4" stroke="#222" stroke-width="1"/>
<text transform="translate(188.7,200.0) rotate(-45)" font-size="8" text-anchor="end" fill="#1a1a1a">IDO1</text>
<path d="M201.6 191.2V194.4" stroke="#222" stroke-width="1"/>
<text transform="translate(205.6,200.0) rotate(-45)" font-size="8" text-anchor="end" fill="#1a1a1a">LAG3</text>
<path d="M218.5 191.2V194.4" stroke="#222" stroke-width="1"/>
<text transform="translate(222.5,200.0) rotate(-45)" font-size="8" text-anchor="end" fill="#1a1a1a">PDCD1LG2</text>
<path d="M235.4 191.2V194.4" stroke="#222" stroke-width="1"/>
<text transform="translate(239.4,200.0) rotate(-45)" font-size="8" text-anchor="end" fill="#1a1a1a">STAT1</text>
<path d="M252.3 191.2V194.4" stroke="#222" stroke-width="1"/>
<text transform="translate(256.3,200.0) rotate(-45)" font-size="8" text-anchor="end" fill="#1a1a1a">TIGIT</text>
<text transform="translate(144,242.3) scale(0.63,1)" font-size="9.6" text-anchor="middle" fill="#1a1a1a">Gene</text>
<text transform="translate(19.4,103.5) rotate(-90) scale(0.72,1)" font-size="9" text-anchor="middle" fill="#1a1a1a">log<tspan font-size="6.2" baseline-shift="-1.6">2</tspan> normalized value</text>
<text x="218" y="21.8" font-size="7.6" fill="#1a1a1a">Groups</text>
<path d="M219.5 31H230" stroke="#C41230" stroke-width="1.3"/>
<path d="M219.5 38.8H230" stroke="#115284" stroke-width="1.3"/>
<text x="233.7" y="33.5" font-size="7.15" fill="#1a1a1a">THRLBCL</text>
<text x="233.7" y="41.5" font-size="7.15" fill="#1a1a1a">DLBCL</text>
<text x="6.3" y="14.8" font-size="10.5" font-weight="bold" fill="#000">A</text>
<text x="309.8" y="15" font-size="10.5" font-weight="bold" fill="#000">B</text>
<text x="7.2" y="269.1" font-size="10.5" font-weight="bold" fill="#000">C</text>
<text x="191.5" y="268.8" font-size="10.5" font-weight="bold" fill="#000">D</text>
<text x="376.2" y="268.8" font-size="10.5" font-weight="bold" fill="#000">E</text>
<text x="122.5" y="482.5" font-size="10.5" font-weight="bold" fill="#000">F</text>
<path d="M421.22 173.65A80.9 80.9 0 1 1 425.55 13.46L424.84 17.70A76.6 76.6 0 1 0 420.74 169.37Z" fill="#2C7BB8"/>
<path d="M437.07 16.27A80.9 80.9 0 0 1 433.68 171.25L432.54 167.10A76.6 76.6 0 0 0 435.74 20.36Z" fill="#E31A1C"/>
<path d="M420.40 166.39A73.6 73.6 0 1 1 424.35 20.66L423.64 24.90A69.3 69.3 0 1 0 419.92 162.12Z" fill="#FDA35F"/>
<path d="M434.82 23.21A73.6 73.6 0 0 1 431.74 164.21L430.60 160.06A69.3 69.3 0 0 0 433.50 27.30Z" fill="#FDA35F"/>
<path d="M434.82 23.21A73.6 73.6 0 0 1 442.49 26.17L440.72 30.09A69.3 69.3 0 0 0 433.50 27.30Z" fill="#E6550D"/>
<path d="M420.40 166.39A73.6 73.6 0 0 1 412.71 166.85L412.68 162.55A69.3 69.3 0 0 0 419.92 162.12Z" fill="#E6550D"/>
<defs><linearGradient id="cg" x1="0" y1="28" x2="0" y2="162" gradientUnits="userSpaceOnUse"><stop offset="0" stop-color="#E7DFF2"/><stop offset="0.22" stop-color="#DDD0EF"/><stop offset="0.38" stop-color="#B895DD"/><stop offset="0.48" stop-color="#9E74D4"/><stop offset="0.6" stop-color="#A680D6"/><stop offset="0.75" stop-color="#D8CAEE"/><stop offset="1" stop-color="#E7DFF2"/></linearGradient></defs>
<path d="M433.6 27.6 Q416.5 93.9 420.9 162.4 L412.6 162.4 Q417.2 93 441.2 28.2 Z" fill="url(#cg)"/>
<defs><path id="la" d="M381.72 171.84A84.3 84.3 0 0 1 385.03 13.45"/><path id="ra" d="M439.31 14.06A83.7 83.7 0 0 1 442.33 171.34"/></defs>
<text font-size="7.4" fill="#1a1a1a"><textPath href="#la" startOffset="50%" text-anchor="middle">THRLBCL upregulated genes</textPath></text>
<text font-size="7.18" fill="#1a1a1a"><textPath href="#ra" startOffset="50%" text-anchor="middle">Progenitor exhausted T-cell genes</textPath></text>
<path d="M409 173.3 L421.9 173.3 L440.1 239.5 L392.6 239.5 Z" fill="#B59BD7"/>
<text x="416.4" y="191.6" font-size="5.2" text-anchor="middle" fill="#1a1a1a">EGR2</text>
<text x="416.4" y="197.4" font-size="5.2" text-anchor="middle" fill="#1a1a1a">GZMM</text>
<text x="416.4" y="203.3" font-size="5.2" text-anchor="middle" fill="#1a1a1a">TLR1</text>
<text x="416.4" y="209.2" font-size="5.2" text-anchor="middle" fill="#1a1a1a">CTSL</text>
<text x="416.4" y="215.0" font-size="5.2" text-anchor="middle" fill="#1a1a1a">CXCR3</text>
<text x="416.4" y="220.8" font-size="5.2" text-anchor="middle" fill="#1a1a1a">TNFSF14</text>
<text x="416.4" y="226.7" font-size="5.2" text-anchor="middle" fill="#1a1a1a">SLAMF6</text>
<text x="416.6" y="236.2" font-size="7.6" text-anchor="middle" fill="#1a1a1a">TCF7/TCF1</text>
<path d="M40.2 279V424.4H142.5" fill="none" stroke="#222" stroke-width="1.1"/><path d="M37.2 424.4H40.2" stroke="#222" stroke-width="1"/><text x="34.8" y="427.1" font-size="7.5" text-anchor="end" fill="#1a1a1a">4</text><path d="M37.2 391.1H40.2" stroke="#222" stroke-width="1"/><text x="34.8" y="393.8" font-size="7.5" text-anchor="end" fill="#1a1a1a">6</text><path d="M37.2 357.9H40.2" stroke="#222" stroke-width="1"/><text x="34.8" y="360.6" font-size="7.5" text-anchor="end" fill="#1a1a1a">8</text><path d="M37.2 324.6H40.2" stroke="#222" stroke-width="1"/><text x="34.8" y="327.3" font-size="7.5" text-anchor="end" fill="#1a1a1a">10</text><path d="M37.2 291.4H40.2" stroke="#222" stroke-width="1"/><text x="34.8" y="294.1" font-size="7.5" text-anchor="end" fill="#1a1a1a">12</text><path d="M95.2 424.4V427.4" stroke="#222" stroke-width="1"/><text x="95.2" y="436.2" font-size="7.1" text-anchor="middle" fill="#1a1a1a">TCF7/TCF1</text>
<path d="M75.8 294.1V346.2" stroke="#333" stroke-width="0.8"/><rect x="64.1" y="302.9" width="23.3" height="17.5" fill="#C41230"/><path d="M64.1 312.4H87.4" stroke="#111" stroke-width="1.2"/>
<path d="M114.3 314.1V374.5" stroke="#333" stroke-width="0.8"/><rect x="102.5" y="340.4" width="23.7" height="30.2" fill="#115284"/><path d="M102.5 353.1H126.2" stroke="#111" stroke-width="1.2"/>
<circle cx="114.4" cy="418.8" r="2" fill="#115284"/>
<text x="91.2" y="269.6" font-size="8.75" text-anchor="middle" fill="#1a1a1a">Discovery set</text>
<text x="95.2" y="280.4" font-size="7.8" text-anchor="middle" fill="#1a1a1a"><tspan font-style="italic">p</tspan>=1.10e-0.3</text>
<text transform="translate(20.6,352) rotate(-90) scale(0.72,1)" font-size="9" text-anchor="middle" fill="#1a1a1a">log<tspan font-size="6.2" baseline-shift="-1.6">2</tspan> normalized value</text>
<path d="M225.3 279V424.4H327.6" fill="none" stroke="#222" stroke-width="1.1"/><path d="M222.3 421.7H225.3" stroke="#222" stroke-width="1"/><text x="219.6" y="424.4" font-size="7.5" text-anchor="end" fill="#1a1a1a">8</text><path d="M222.3 381.9H225.3" stroke="#222" stroke-width="1"/><text x="219.6" y="384.6" font-size="7.5" text-anchor="end" fill="#1a1a1a">9</text><path d="M222.3 342.2H225.3" stroke="#222" stroke-width="1"/><text x="219.6" y="344.9" font-size="7.5" text-anchor="end" fill="#1a1a1a">10</text><path d="M222.3 302.4H225.3" stroke="#222" stroke-width="1"/><text x="219.6" y="305.1" font-size="7.5" text-anchor="end" fill="#1a1a1a">11</text><path d="M279.4 424.4V427.4" stroke="#222" stroke-width="1"/><text x="279.4" y="436.2" font-size="7.1" text-anchor="middle" fill="#1a1a1a">TCF7/TCF1</text>
<path d="M260.2 285.1V408.8" stroke="#333" stroke-width="0.8"/><rect x="248.4" y="327.5" width="23.6" height="56.5" fill="#C41230"/><path d="M248.4 352.3H272.0" stroke="#111" stroke-width="1.2"/>
<path d="M298.9 310.9V418.0" stroke="#333" stroke-width="0.8"/><rect x="287.0" y="350.5" width="23.8" height="45.0" fill="#115284"/><path d="M287.0 379.4H310.8" stroke="#111" stroke-width="1.2"/>
<text x="275.3" y="269.5" font-size="8.85" text-anchor="middle" fill="#1a1a1a">In silico set</text>
<text x="280.1" y="280.4" font-size="7.9" text-anchor="middle" fill="#1a1a1a"><tspan font-style="italic">p</tspan>=0.02</text>
<text transform="translate(204.8,351.8) rotate(-90) scale(0.72,1)" font-size="9" text-anchor="middle" fill="#1a1a1a">log<tspan font-size="6.2" baseline-shift="-1.6">2</tspan> normalized value</text>
<path d="M409.8 278.9V424.5H512.5" fill="none" stroke="#222" stroke-width="1.1"/><path d="M406.8 418.6H409.8" stroke="#222" stroke-width="1"/><text x="404.0" y="421.3" font-size="7.5" text-anchor="end" fill="#1a1a1a">0</text><path d="M406.8 395.4H409.8" stroke="#222" stroke-width="1"/><text x="404.0" y="398.1" font-size="7.5" text-anchor="end" fill="#1a1a1a">10</text><path d="M406.8 372.3H409.8" stroke="#222" stroke-width="1"/><text x="404.0" y="375.0" font-size="7.5" text-anchor="end" fill="#1a1a1a">20</text><path d="M406.8 349.1H409.8" stroke="#222" stroke-width="1"/><text x="404.0" y="351.8" font-size="7.5" text-anchor="end" fill="#1a1a1a">30</text><path d="M406.8 325.9H409.8" stroke="#222" stroke-width="1"/><text x="404.0" y="328.6" font-size="7.5" text-anchor="end" fill="#1a1a1a">40</text><path d="M406.8 302.8H409.8" stroke="#222" stroke-width="1"/><text x="404.0" y="305.4" font-size="7.5" text-anchor="end" fill="#1a1a1a">50</text><path d="M464.3 424.5V427.5" stroke="#222" stroke-width="1"/><text x="464.3" y="436.2" font-size="7.1" text-anchor="middle" fill="#1a1a1a">TCF7/TCF1</text>
<path d="M445.6 303.7V372.3" stroke="#333" stroke-width="0.8"/><rect x="433.9" y="332.5" width="23.4" height="39.8" fill="#C41230"/><path d="M433.9 361.3H457.3" stroke="#111" stroke-width="1.2"/>
<path d="M484.1 407.0V418.6" stroke="#333" stroke-width="0.8"/><rect x="472.4" y="407.0" width="23.4" height="6.8" fill="#115284"/><path d="M472.4 407.6H495.8" stroke="#111" stroke-width="1.2"/>
<circle cx="484.1" cy="326.5" r="2" fill="#115284"/>
<circle cx="484.1" cy="395.7" r="2" fill="#115284"/>
<text x="460.7" y="269.4" font-size="8.9" text-anchor="middle" fill="#1a1a1a">IHC validation set</text>
<text x="465.1" y="280.4" font-size="7.8" text-anchor="middle" fill="#1a1a1a"><tspan font-style="italic">p</tspan>=3.54e-0.4</text>
<text transform="translate(389.4,351.8) rotate(-90) scale(0.72,1)" font-size="9" text-anchor="middle" fill="#1a1a1a">IHC value</text>
<text x="206.4" y="452.6" font-size="7.4" fill="#1a1a1a">Groups</text>
<path d="M239.4 445.2V455.6" stroke="#333" stroke-width="0.8"/>
<rect x="237.1" y="448.1" width="4.6" height="5.2" fill="#C41230"/>
<path d="M237.1 450.5H241.7" stroke="#111" stroke-width="1"/>
<text x="245.4" y="453" font-size="7.15" fill="#1a1a1a">THRLBCL</text>
<path d="M293.0 445.2V455.6" stroke="#333" stroke-width="0.8"/>
<rect x="290.7" y="448.1" width="4.6" height="5.2" fill="#115284"/>
<path d="M290.7 450.5H295.3" stroke="#111" stroke-width="1"/>
<text x="299.0" y="453" font-size="7.15" fill="#1a1a1a">DLBCL</text>
<text x="221.3" y="482.5" font-size="7.5" text-anchor="middle" fill="#1a1a1a">THRLBCL</text>
<text x="340" y="482.5" font-size="7.7" text-anchor="middle" fill="#1a1a1a">DLBCL</text>
<text x="160.6" y="528.6" font-size="7.6" text-anchor="end" fill="#1a1a1a">CD3</text>
<text x="160.6" y="612.4" font-size="7.1" text-anchor="end" fill="#1a1a1a">TCF7/TCF1</text>
<rect x="0.5" y="0.5" width="519" height="656" fill="none" stroke="#000" stroke-width="1"/>
</svg>
</body></html>
